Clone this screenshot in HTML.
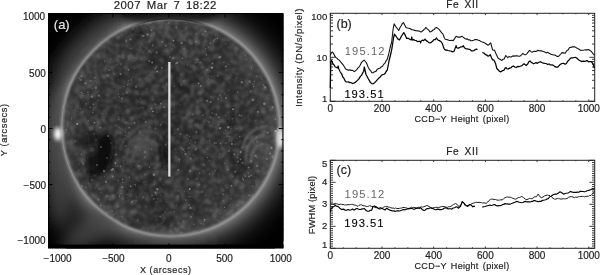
<!DOCTYPE html>
<html><head><meta charset="utf-8"><style>
html,body{margin:0;padding:0;background:#fff;width:600px;height:275px;overflow:hidden}
svg{display:block;filter:grayscale(1)}
text{font-family:"Liberation Sans",sans-serif;fill:#222;stroke:#222;stroke-width:0.18px}
</style></head><body>
<svg width="600" height="275" viewBox="0 0 600 275">
<defs>
<clipPath id="imgclip"><rect x="48" y="13" width="235.5" height="235.4"/></clipPath>
<radialGradient id="corona" gradientUnits="userSpaceOnUse" cx="170.6" cy="127.2" r="160">
<stop offset="0" stop-color="#000"/>
<stop offset="0.682" stop-color="#828282"/>
<stop offset="0.698" stop-color="#6a6a6a"/>
<stop offset="0.723" stop-color="#505050"/>
<stop offset="0.754" stop-color="#363636"/>
<stop offset="0.792" stop-color="#202020"/>
<stop offset="0.835" stop-color="#0f0f0f"/>
<stop offset="0.885" stop-color="#050505"/>
<stop offset="0.94" stop-color="#000"/>
</radialGradient>
<radialGradient id="disk" gradientUnits="userSpaceOnUse" cx="170.6" cy="127.2" r="109.1">
<stop offset="0" stop-color="#2a2a2a"/>
<stop offset="0.78" stop-color="#2f2f2f"/>
<stop offset="0.92" stop-color="#383838"/>
<stop offset="0.97" stop-color="#444"/>
<stop offset="0.99" stop-color="#606060"/>
<stop offset="1" stop-color="#7e7e7e"/>
</radialGradient>
<filter id="tex" x="0" y="0" width="1" height="1">
<feTurbulence type="fractalNoise" baseFrequency="0.2" numOctaves="2" seed="7" result="n"/>
<feColorMatrix in="n" type="matrix" values="0 0 0 0 1  0 0 0 0 1  0 0 0 0 1  2.4 0 0 0 -1.1"/>
<feGaussianBlur stdDeviation="0.9"/>
</filter>
<filter id="big" x="0" y="0" width="1" height="1">
<feTurbulence type="fractalNoise" baseFrequency="0.035" numOctaves="2" seed="21" result="n"/>
<feColorMatrix in="n" type="matrix" values="0 0 0 0 0  0 0 0 0 0  0 0 0 0 0  2.2 0 0 0 -1.0"/>
</filter>
<filter id="spk" x="0" y="0" width="1" height="1">
<feTurbulence type="fractalNoise" baseFrequency="0.3" numOctaves="1" seed="11" result="n"/>
<feColorMatrix in="n" type="matrix" values="0 0 0 0 1  0 0 0 0 1  0 0 0 0 1  7 0 0 0 -4.4"/>
<feGaussianBlur stdDeviation="0.6"/>
</filter>
<filter id="blurB"><feGaussianBlur stdDeviation="0.9"/></filter>
<filter id="blurR"><feGaussianBlur stdDeviation="0.8"/></filter>
<filter id="blurS"><feGaussianBlur stdDeviation="0.55"/></filter>
<filter id="blur6" x="-50%" y="-50%" width="200%" height="200%"><feGaussianBlur stdDeviation="6"/></filter>
<filter id="blur8" x="-50%" y="-50%" width="200%" height="200%"><feGaussianBlur stdDeviation="8"/></filter>
<mask id="outside" maskUnits="userSpaceOnUse" x="0" y="0" width="600" height="275"><rect x="0" y="0" width="600" height="275" fill="#fff"/><circle cx="170.6" cy="127.2" r="109.1" fill="#000"/></mask>
<mask id="outside2" maskUnits="userSpaceOnUse" x="0" y="0" width="600" height="275"><rect x="0" y="0" width="600" height="275" fill="#fff"/><circle cx="170.6" cy="127.2" r="107.6" fill="#000"/></mask>
<filter id="blur3"><feGaussianBlur stdDeviation="3"/></filter>
<filter id="blur4"><feGaussianBlur stdDeviation="3.5"/></filter>
<filter id="blur2"><feGaussianBlur stdDeviation="2"/></filter>
<filter id="blur1"><feGaussianBlur stdDeviation="1"/></filter>
<clipPath id="diskclip"><circle cx="170.6" cy="127.2" r="108.1"/></clipPath>
</defs>
<g clip-path="url(#imgclip)">
<rect x="48" y="13" width="235.5" height="235.4" fill="#000"/>
<circle cx="170.6" cy="127.2" r="160" fill="url(#corona)"/>
<g mask="url(#outside)" filter="url(#blur8)">
<ellipse cx="60" cy="160" rx="16" ry="70" fill="#484848" opacity="0.8"/>
<ellipse cx="100" cy="222" rx="48" ry="15" fill="#4a4a4a" opacity="0.8" transform="rotate(-38 100 222)"/>
<ellipse cx="170" cy="242" rx="45" ry="8" fill="#333" opacity="0.5"/>
<ellipse cx="86" cy="48" rx="42" ry="13" fill="#383838" opacity="0.55" transform="rotate(-45 86 48)"/>
</g>
<circle cx="170.6" cy="127.2" r="109.1" fill="url(#disk)"/>
<g clip-path="url(#diskclip)">
<rect x="55" y="14" width="230" height="230" filter="url(#tex)" opacity="0.22"/>
<rect x="55" y="14" width="230" height="230" filter="url(#big)" opacity="0.3"/>
<g filter="url(#blurB)">
<circle cx="162.7" cy="100.1" r="1.2" fill="rgb(85,85,85)" opacity="0.25"/>
<circle cx="162.8" cy="149.6" r="1.5" fill="rgb(124,124,124)" opacity="0.36"/>
<circle cx="219.4" cy="56.5" r="2.5" fill="rgb(112,112,112)" opacity="0.20"/>
<circle cx="114.5" cy="43.9" r="1.8" fill="rgb(122,122,122)" opacity="0.17"/>
<circle cx="210.9" cy="189.2" r="2.4" fill="rgb(103,103,103)" opacity="0.21"/>
<circle cx="111.6" cy="189.9" r="2.4" fill="rgb(102,102,102)" opacity="0.42"/>
<circle cx="148.5" cy="93.3" r="1.1" fill="rgb(85,85,85)" opacity="0.41"/>
<circle cx="75.3" cy="101.3" r="1.8" fill="rgb(86,86,86)" opacity="0.22"/>
<circle cx="221.2" cy="202.3" r="2.5" fill="rgb(85,85,85)" opacity="0.19"/>
<circle cx="187.4" cy="211.8" r="1.3" fill="rgb(85,85,85)" opacity="0.42"/>
<circle cx="170.8" cy="142.8" r="1.9" fill="rgb(97,97,97)" opacity="0.28"/>
<circle cx="148.8" cy="156.9" r="1.1" fill="rgb(122,122,122)" opacity="0.19"/>
<circle cx="264.7" cy="174.2" r="1.1" fill="rgb(102,102,102)" opacity="0.32"/>
<circle cx="193.4" cy="52.2" r="1.4" fill="rgb(121,121,121)" opacity="0.45"/>
<circle cx="89.6" cy="171.2" r="2.5" fill="rgb(100,100,100)" opacity="0.20"/>
<circle cx="171.7" cy="177.7" r="2.4" fill="rgb(118,118,118)" opacity="0.33"/>
<circle cx="229.4" cy="38.8" r="1.6" fill="rgb(122,122,122)" opacity="0.26"/>
<circle cx="108.5" cy="62.7" r="2.5" fill="rgb(86,86,86)" opacity="0.26"/>
<circle cx="87.5" cy="67.6" r="1.4" fill="rgb(90,90,90)" opacity="0.24"/>
<circle cx="124.6" cy="130.9" r="1.1" fill="rgb(109,109,109)" opacity="0.38"/>
<circle cx="236.4" cy="126.6" r="2.1" fill="rgb(100,100,100)" opacity="0.32"/>
<circle cx="77.8" cy="158.8" r="1.2" fill="rgb(110,110,110)" opacity="0.30"/>
<circle cx="268.2" cy="140.1" r="1.2" fill="rgb(103,103,103)" opacity="0.20"/>
<circle cx="244.1" cy="75.6" r="1.1" fill="rgb(96,96,96)" opacity="0.23"/>
<circle cx="160.0" cy="188.5" r="1.5" fill="rgb(85,85,85)" opacity="0.44"/>
<circle cx="139.5" cy="50.3" r="1.9" fill="rgb(93,93,93)" opacity="0.44"/>
<circle cx="223.6" cy="83.5" r="1.2" fill="rgb(111,111,111)" opacity="0.29"/>
<circle cx="214.2" cy="183.7" r="1.6" fill="rgb(95,95,95)" opacity="0.35"/>
<circle cx="122.3" cy="148.0" r="2.0" fill="rgb(107,107,107)" opacity="0.18"/>
<circle cx="74.0" cy="133.4" r="1.3" fill="rgb(125,125,125)" opacity="0.40"/>
<circle cx="98.3" cy="189.2" r="2.4" fill="rgb(97,97,97)" opacity="0.20"/>
<circle cx="161.3" cy="139.9" r="1.6" fill="rgb(96,96,96)" opacity="0.31"/>
<circle cx="190.5" cy="76.4" r="1.1" fill="rgb(86,86,86)" opacity="0.32"/>
<circle cx="188.8" cy="113.5" r="1.5" fill="rgb(118,118,118)" opacity="0.31"/>
<circle cx="201.2" cy="136.2" r="1.5" fill="rgb(99,99,99)" opacity="0.37"/>
<circle cx="85.7" cy="169.9" r="1.7" fill="rgb(116,116,116)" opacity="0.42"/>
<circle cx="219.3" cy="165.5" r="1.0" fill="rgb(100,100,100)" opacity="0.41"/>
<circle cx="113.1" cy="196.3" r="2.2" fill="rgb(124,124,124)" opacity="0.30"/>
<circle cx="115.6" cy="153.4" r="1.1" fill="rgb(88,88,88)" opacity="0.35"/>
<circle cx="150.6" cy="35.0" r="1.3" fill="rgb(123,123,123)" opacity="0.38"/>
<circle cx="197.3" cy="137.3" r="1.8" fill="rgb(89,89,89)" opacity="0.25"/>
<circle cx="267.8" cy="146.5" r="2.6" fill="rgb(115,115,115)" opacity="0.40"/>
<circle cx="86.3" cy="94.8" r="1.4" fill="rgb(93,93,93)" opacity="0.21"/>
<circle cx="110.9" cy="43.9" r="1.2" fill="rgb(90,90,90)" opacity="0.26"/>
<circle cx="222.2" cy="120.2" r="1.8" fill="rgb(108,108,108)" opacity="0.41"/>
<circle cx="227.0" cy="166.3" r="1.0" fill="rgb(101,101,101)" opacity="0.43"/>
<circle cx="117.4" cy="202.5" r="2.0" fill="rgb(99,99,99)" opacity="0.34"/>
<circle cx="209.4" cy="48.5" r="1.1" fill="rgb(96,96,96)" opacity="0.44"/>
<circle cx="231.9" cy="213.2" r="2.5" fill="rgb(104,104,104)" opacity="0.44"/>
<circle cx="83.8" cy="88.2" r="1.4" fill="rgb(123,123,123)" opacity="0.25"/>
<circle cx="184.2" cy="208.7" r="2.4" fill="rgb(112,112,112)" opacity="0.21"/>
<circle cx="122.7" cy="119.0" r="2.0" fill="rgb(121,121,121)" opacity="0.29"/>
<circle cx="146.0" cy="90.7" r="1.1" fill="rgb(90,90,90)" opacity="0.20"/>
<circle cx="180.0" cy="60.6" r="2.1" fill="rgb(93,93,93)" opacity="0.43"/>
<circle cx="269.5" cy="148.5" r="2.5" fill="rgb(109,109,109)" opacity="0.21"/>
<circle cx="179.6" cy="92.0" r="1.0" fill="rgb(120,120,120)" opacity="0.28"/>
<circle cx="112.3" cy="175.8" r="2.2" fill="rgb(117,117,117)" opacity="0.30"/>
<circle cx="162.7" cy="20.9" r="2.5" fill="rgb(98,98,98)" opacity="0.17"/>
<circle cx="202.5" cy="104.8" r="2.4" fill="rgb(117,117,117)" opacity="0.41"/>
<circle cx="172.5" cy="96.7" r="2.5" fill="rgb(97,97,97)" opacity="0.25"/>
<circle cx="146.0" cy="59.2" r="2.0" fill="rgb(96,96,96)" opacity="0.32"/>
<circle cx="67.9" cy="122.7" r="2.4" fill="rgb(112,112,112)" opacity="0.42"/>
<circle cx="225.1" cy="78.6" r="1.2" fill="rgb(113,113,113)" opacity="0.29"/>
<circle cx="95.0" cy="165.4" r="2.2" fill="rgb(88,88,88)" opacity="0.31"/>
<circle cx="103.5" cy="186.8" r="2.1" fill="rgb(91,91,91)" opacity="0.29"/>
<circle cx="136.5" cy="180.2" r="1.2" fill="rgb(112,112,112)" opacity="0.21"/>
<circle cx="107.0" cy="167.0" r="1.7" fill="rgb(120,120,120)" opacity="0.45"/>
<circle cx="263.9" cy="173.4" r="1.8" fill="rgb(88,88,88)" opacity="0.26"/>
<circle cx="234.5" cy="209.9" r="1.7" fill="rgb(97,97,97)" opacity="0.32"/>
<circle cx="81.8" cy="96.1" r="2.4" fill="rgb(115,115,115)" opacity="0.44"/>
<circle cx="103.5" cy="133.9" r="2.5" fill="rgb(119,119,119)" opacity="0.25"/>
<circle cx="189.1" cy="227.9" r="2.1" fill="rgb(106,106,106)" opacity="0.24"/>
<circle cx="91.4" cy="83.9" r="1.1" fill="rgb(110,110,110)" opacity="0.40"/>
<circle cx="116.1" cy="119.6" r="2.1" fill="rgb(105,105,105)" opacity="0.20"/>
<circle cx="94.4" cy="143.1" r="1.3" fill="rgb(118,118,118)" opacity="0.43"/>
<circle cx="145.2" cy="182.2" r="2.4" fill="rgb(117,117,117)" opacity="0.20"/>
<circle cx="144.8" cy="225.7" r="1.6" fill="rgb(103,103,103)" opacity="0.27"/>
<circle cx="223.7" cy="199.1" r="2.1" fill="rgb(124,124,124)" opacity="0.18"/>
<circle cx="270.0" cy="131.6" r="1.4" fill="rgb(124,124,124)" opacity="0.38"/>
<circle cx="245.4" cy="135.1" r="2.6" fill="rgb(88,88,88)" opacity="0.34"/>
<circle cx="162.8" cy="219.6" r="1.2" fill="rgb(85,85,85)" opacity="0.21"/>
<circle cx="217.8" cy="74.7" r="1.5" fill="rgb(85,85,85)" opacity="0.20"/>
<circle cx="199.7" cy="220.5" r="1.6" fill="rgb(125,125,125)" opacity="0.25"/>
<circle cx="183.3" cy="54.5" r="2.1" fill="rgb(93,93,93)" opacity="0.37"/>
<circle cx="215.5" cy="96.8" r="1.9" fill="rgb(89,89,89)" opacity="0.18"/>
<circle cx="151.0" cy="111.4" r="1.3" fill="rgb(100,100,100)" opacity="0.32"/>
<circle cx="172.4" cy="201.3" r="1.6" fill="rgb(97,97,97)" opacity="0.42"/>
<circle cx="138.2" cy="130.5" r="2.4" fill="rgb(87,87,87)" opacity="0.20"/>
<circle cx="180.4" cy="79.4" r="1.5" fill="rgb(112,112,112)" opacity="0.39"/>
<circle cx="177.6" cy="180.2" r="1.2" fill="rgb(107,107,107)" opacity="0.40"/>
<circle cx="209.2" cy="67.9" r="1.4" fill="rgb(113,113,113)" opacity="0.26"/>
<circle cx="172.4" cy="176.4" r="1.1" fill="rgb(92,92,92)" opacity="0.39"/>
<circle cx="201.5" cy="110.7" r="1.0" fill="rgb(112,112,112)" opacity="0.17"/>
<circle cx="119.0" cy="62.0" r="1.9" fill="rgb(115,115,115)" opacity="0.20"/>
<circle cx="187.1" cy="63.2" r="2.0" fill="rgb(109,109,109)" opacity="0.30"/>
<circle cx="211.4" cy="210.1" r="2.6" fill="rgb(89,89,89)" opacity="0.31"/>
<circle cx="205.5" cy="51.0" r="2.2" fill="rgb(96,96,96)" opacity="0.21"/>
<circle cx="164.8" cy="160.0" r="1.8" fill="rgb(117,117,117)" opacity="0.34"/>
<circle cx="130.8" cy="165.9" r="2.2" fill="rgb(114,114,114)" opacity="0.17"/>
<circle cx="177.4" cy="172.0" r="2.3" fill="rgb(90,90,90)" opacity="0.27"/>
<circle cx="230.1" cy="175.1" r="1.1" fill="rgb(115,115,115)" opacity="0.20"/>
<circle cx="267.4" cy="150.7" r="2.6" fill="rgb(116,116,116)" opacity="0.36"/>
<circle cx="178.2" cy="221.3" r="1.9" fill="rgb(85,85,85)" opacity="0.36"/>
<circle cx="157.3" cy="145.1" r="2.4" fill="rgb(121,121,121)" opacity="0.36"/>
<circle cx="227.3" cy="56.6" r="1.0" fill="rgb(106,106,106)" opacity="0.30"/>
<circle cx="158.2" cy="131.1" r="2.2" fill="rgb(108,108,108)" opacity="0.25"/>
<circle cx="101.2" cy="169.1" r="1.5" fill="rgb(105,105,105)" opacity="0.25"/>
<circle cx="262.7" cy="80.9" r="1.2" fill="rgb(121,121,121)" opacity="0.23"/>
<circle cx="233.7" cy="150.5" r="2.3" fill="rgb(89,89,89)" opacity="0.24"/>
<circle cx="113.4" cy="83.2" r="1.6" fill="rgb(117,117,117)" opacity="0.16"/>
<circle cx="108.4" cy="198.2" r="2.4" fill="rgb(121,121,121)" opacity="0.17"/>
<circle cx="83.6" cy="162.2" r="2.5" fill="rgb(85,85,85)" opacity="0.29"/>
<circle cx="125.8" cy="31.6" r="2.2" fill="rgb(95,95,95)" opacity="0.40"/>
<circle cx="97.6" cy="154.9" r="1.4" fill="rgb(97,97,97)" opacity="0.36"/>
<circle cx="169.1" cy="135.2" r="1.7" fill="rgb(102,102,102)" opacity="0.29"/>
<circle cx="149.9" cy="39.1" r="1.4" fill="rgb(94,94,94)" opacity="0.37"/>
<circle cx="191.6" cy="48.9" r="1.8" fill="rgb(123,123,123)" opacity="0.18"/>
<circle cx="195.4" cy="104.6" r="2.4" fill="rgb(106,106,106)" opacity="0.19"/>
<circle cx="135.5" cy="193.3" r="1.6" fill="rgb(125,125,125)" opacity="0.18"/>
<circle cx="81.8" cy="97.9" r="1.7" fill="rgb(108,108,108)" opacity="0.34"/>
<circle cx="208.7" cy="136.6" r="2.0" fill="rgb(85,85,85)" opacity="0.34"/>
<circle cx="118.5" cy="144.8" r="1.3" fill="rgb(89,89,89)" opacity="0.24"/>
<circle cx="107.8" cy="151.1" r="1.6" fill="rgb(92,92,92)" opacity="0.16"/>
<circle cx="184.7" cy="192.5" r="1.0" fill="rgb(96,96,96)" opacity="0.33"/>
<circle cx="197.7" cy="106.3" r="1.7" fill="rgb(102,102,102)" opacity="0.33"/>
<circle cx="166.1" cy="109.2" r="1.4" fill="rgb(117,117,117)" opacity="0.20"/>
<circle cx="165.7" cy="75.9" r="1.6" fill="rgb(91,91,91)" opacity="0.32"/>
<circle cx="201.7" cy="158.7" r="1.0" fill="rgb(115,115,115)" opacity="0.41"/>
<circle cx="223.3" cy="132.0" r="2.4" fill="rgb(102,102,102)" opacity="0.21"/>
<circle cx="208.3" cy="162.6" r="2.2" fill="rgb(90,90,90)" opacity="0.21"/>
<circle cx="226.5" cy="171.9" r="2.2" fill="rgb(86,86,86)" opacity="0.41"/>
<circle cx="216.2" cy="31.4" r="2.2" fill="rgb(97,97,97)" opacity="0.24"/>
<circle cx="247.1" cy="85.2" r="1.1" fill="rgb(120,120,120)" opacity="0.44"/>
<circle cx="108.5" cy="212.5" r="1.3" fill="rgb(91,91,91)" opacity="0.17"/>
<circle cx="131.9" cy="118.5" r="2.1" fill="rgb(121,121,121)" opacity="0.35"/>
<circle cx="190.3" cy="41.3" r="2.4" fill="rgb(102,102,102)" opacity="0.38"/>
<circle cx="141.6" cy="37.0" r="1.2" fill="rgb(106,106,106)" opacity="0.36"/>
<circle cx="185.0" cy="58.1" r="1.9" fill="rgb(112,112,112)" opacity="0.15"/>
<circle cx="201.7" cy="170.1" r="1.2" fill="rgb(94,94,94)" opacity="0.35"/>
<circle cx="184.4" cy="118.4" r="1.7" fill="rgb(123,123,123)" opacity="0.28"/>
<circle cx="169.4" cy="62.3" r="2.6" fill="rgb(113,113,113)" opacity="0.17"/>
<circle cx="186.5" cy="50.5" r="1.3" fill="rgb(92,92,92)" opacity="0.28"/>
<circle cx="222.8" cy="91.9" r="2.0" fill="rgb(87,87,87)" opacity="0.19"/>
<circle cx="118.7" cy="198.1" r="1.2" fill="rgb(102,102,102)" opacity="0.28"/>
<circle cx="109.2" cy="188.3" r="1.6" fill="rgb(103,103,103)" opacity="0.34"/>
<circle cx="241.1" cy="130.2" r="1.5" fill="rgb(94,94,94)" opacity="0.21"/>
<circle cx="134.7" cy="211.2" r="2.5" fill="rgb(114,114,114)" opacity="0.45"/>
<circle cx="152.3" cy="97.7" r="2.4" fill="rgb(86,86,86)" opacity="0.37"/>
<circle cx="102.6" cy="176.1" r="1.7" fill="rgb(88,88,88)" opacity="0.44"/>
<circle cx="229.7" cy="118.0" r="1.0" fill="rgb(110,110,110)" opacity="0.17"/>
<circle cx="155.4" cy="89.6" r="2.0" fill="rgb(92,92,92)" opacity="0.28"/>
<circle cx="80.6" cy="130.7" r="1.6" fill="rgb(86,86,86)" opacity="0.36"/>
<circle cx="249.1" cy="108.5" r="1.1" fill="rgb(108,108,108)" opacity="0.28"/>
<circle cx="140.0" cy="138.9" r="2.2" fill="rgb(125,125,125)" opacity="0.36"/>
<circle cx="264.9" cy="109.2" r="2.0" fill="rgb(115,115,115)" opacity="0.15"/>
<circle cx="103.8" cy="46.2" r="1.6" fill="rgb(107,107,107)" opacity="0.37"/>
<circle cx="191.0" cy="33.7" r="1.7" fill="rgb(97,97,97)" opacity="0.44"/>
<circle cx="142.5" cy="102.6" r="2.6" fill="rgb(108,108,108)" opacity="0.41"/>
<circle cx="88.1" cy="82.2" r="1.7" fill="rgb(104,104,104)" opacity="0.24"/>
<circle cx="185.4" cy="60.4" r="1.3" fill="rgb(105,105,105)" opacity="0.28"/>
<circle cx="142.8" cy="93.3" r="2.2" fill="rgb(89,89,89)" opacity="0.38"/>
<circle cx="241.4" cy="92.6" r="1.3" fill="rgb(91,91,91)" opacity="0.39"/>
<circle cx="110.9" cy="49.7" r="1.6" fill="rgb(100,100,100)" opacity="0.32"/>
<circle cx="190.8" cy="214.8" r="2.5" fill="rgb(95,95,95)" opacity="0.24"/>
<circle cx="170.6" cy="211.7" r="1.0" fill="rgb(98,98,98)" opacity="0.30"/>
<circle cx="226.3" cy="161.9" r="2.0" fill="rgb(110,110,110)" opacity="0.22"/>
<circle cx="145.8" cy="175.1" r="1.4" fill="rgb(100,100,100)" opacity="0.41"/>
<circle cx="234.7" cy="68.6" r="1.6" fill="rgb(102,102,102)" opacity="0.38"/>
<circle cx="73.7" cy="89.2" r="1.1" fill="rgb(125,125,125)" opacity="0.33"/>
<circle cx="130.2" cy="161.3" r="2.2" fill="rgb(114,114,114)" opacity="0.37"/>
<circle cx="200.9" cy="117.9" r="2.6" fill="rgb(109,109,109)" opacity="0.22"/>
<circle cx="173.6" cy="140.6" r="2.1" fill="rgb(119,119,119)" opacity="0.17"/>
<circle cx="188.1" cy="154.4" r="2.3" fill="rgb(85,85,85)" opacity="0.34"/>
<circle cx="86.5" cy="171.6" r="1.1" fill="rgb(87,87,87)" opacity="0.19"/>
<circle cx="263.9" cy="158.5" r="2.5" fill="rgb(120,120,120)" opacity="0.17"/>
<circle cx="193.2" cy="66.8" r="2.0" fill="rgb(119,119,119)" opacity="0.45"/>
<circle cx="217.8" cy="71.4" r="1.3" fill="rgb(97,97,97)" opacity="0.29"/>
<circle cx="107.6" cy="132.5" r="1.5" fill="rgb(90,90,90)" opacity="0.16"/>
<circle cx="82.8" cy="74.0" r="1.9" fill="rgb(109,109,109)" opacity="0.22"/>
<circle cx="221.9" cy="209.2" r="1.0" fill="rgb(123,123,123)" opacity="0.19"/>
<circle cx="144.2" cy="54.3" r="1.2" fill="rgb(122,122,122)" opacity="0.20"/>
<circle cx="204.4" cy="153.6" r="1.3" fill="rgb(88,88,88)" opacity="0.41"/>
<circle cx="79.6" cy="121.1" r="1.9" fill="rgb(85,85,85)" opacity="0.21"/>
<circle cx="138.4" cy="85.0" r="2.1" fill="rgb(111,111,111)" opacity="0.43"/>
<circle cx="134.5" cy="97.2" r="1.3" fill="rgb(122,122,122)" opacity="0.19"/>
<circle cx="96.7" cy="117.5" r="1.6" fill="rgb(98,98,98)" opacity="0.20"/>
<circle cx="217.5" cy="76.3" r="1.0" fill="rgb(119,119,119)" opacity="0.18"/>
<circle cx="235.2" cy="184.4" r="1.7" fill="rgb(123,123,123)" opacity="0.38"/>
<circle cx="238.8" cy="130.4" r="1.2" fill="rgb(90,90,90)" opacity="0.38"/>
<circle cx="161.6" cy="27.7" r="2.2" fill="rgb(103,103,103)" opacity="0.25"/>
<circle cx="197.5" cy="51.8" r="2.5" fill="rgb(87,87,87)" opacity="0.17"/>
<circle cx="213.5" cy="164.9" r="1.7" fill="rgb(122,122,122)" opacity="0.26"/>
<circle cx="257.9" cy="172.0" r="1.9" fill="rgb(107,107,107)" opacity="0.34"/>
<circle cx="229.7" cy="139.1" r="2.2" fill="rgb(118,118,118)" opacity="0.30"/>
<circle cx="163.1" cy="62.6" r="2.0" fill="rgb(111,111,111)" opacity="0.16"/>
<circle cx="97.3" cy="185.0" r="1.0" fill="rgb(114,114,114)" opacity="0.39"/>
<circle cx="95.2" cy="78.3" r="1.9" fill="rgb(85,85,85)" opacity="0.30"/>
<circle cx="154.9" cy="173.9" r="2.3" fill="rgb(112,112,112)" opacity="0.22"/>
<circle cx="186.6" cy="159.6" r="1.3" fill="rgb(88,88,88)" opacity="0.15"/>
<circle cx="170.8" cy="203.4" r="2.1" fill="rgb(97,97,97)" opacity="0.25"/>
<circle cx="160.5" cy="27.2" r="2.4" fill="rgb(100,100,100)" opacity="0.44"/>
<circle cx="127.3" cy="159.8" r="2.4" fill="rgb(85,85,85)" opacity="0.35"/>
<circle cx="140.7" cy="186.9" r="2.1" fill="rgb(109,109,109)" opacity="0.21"/>
<circle cx="132.6" cy="190.2" r="1.8" fill="rgb(113,113,113)" opacity="0.25"/>
<circle cx="240.2" cy="127.6" r="2.4" fill="rgb(120,120,120)" opacity="0.44"/>
<circle cx="217.9" cy="107.0" r="2.2" fill="rgb(118,118,118)" opacity="0.22"/>
<circle cx="270.5" cy="90.7" r="1.2" fill="rgb(111,111,111)" opacity="0.41"/>
<circle cx="231.6" cy="180.4" r="1.3" fill="rgb(114,114,114)" opacity="0.23"/>
<circle cx="71.0" cy="144.4" r="1.9" fill="rgb(106,106,106)" opacity="0.41"/>
<circle cx="67.1" cy="142.7" r="1.2" fill="rgb(118,118,118)" opacity="0.15"/>
<circle cx="229.1" cy="118.1" r="2.6" fill="rgb(93,93,93)" opacity="0.36"/>
<circle cx="188.5" cy="116.9" r="2.6" fill="rgb(99,99,99)" opacity="0.17"/>
<circle cx="246.4" cy="147.6" r="2.4" fill="rgb(110,110,110)" opacity="0.41"/>
<circle cx="170.5" cy="105.9" r="1.8" fill="rgb(110,110,110)" opacity="0.27"/>
<circle cx="207.7" cy="221.3" r="1.1" fill="rgb(103,103,103)" opacity="0.36"/>
<circle cx="157.8" cy="28.4" r="1.8" fill="rgb(95,95,95)" opacity="0.41"/>
<circle cx="157.1" cy="164.5" r="2.1" fill="rgb(125,125,125)" opacity="0.31"/>
<circle cx="252.5" cy="98.0" r="2.5" fill="rgb(97,97,97)" opacity="0.19"/>
<circle cx="193.2" cy="85.3" r="2.0" fill="rgb(106,106,106)" opacity="0.42"/>
<circle cx="206.4" cy="202.3" r="1.2" fill="rgb(119,119,119)" opacity="0.40"/>
<circle cx="149.0" cy="112.5" r="1.9" fill="rgb(98,98,98)" opacity="0.25"/>
<circle cx="177.9" cy="33.6" r="1.4" fill="rgb(114,114,114)" opacity="0.20"/>
<circle cx="118.4" cy="67.5" r="1.2" fill="rgb(120,120,120)" opacity="0.31"/>
<circle cx="173.4" cy="62.1" r="1.4" fill="rgb(112,112,112)" opacity="0.36"/>
<circle cx="236.7" cy="150.3" r="2.6" fill="rgb(120,120,120)" opacity="0.36"/>
<circle cx="134.6" cy="33.9" r="2.5" fill="rgb(94,94,94)" opacity="0.16"/>
<circle cx="247.6" cy="151.0" r="2.2" fill="rgb(92,92,92)" opacity="0.25"/>
<circle cx="185.3" cy="26.8" r="1.4" fill="rgb(111,111,111)" opacity="0.35"/>
<circle cx="77.5" cy="105.6" r="2.2" fill="rgb(109,109,109)" opacity="0.23"/>
<circle cx="239.6" cy="201.3" r="2.3" fill="rgb(125,125,125)" opacity="0.36"/>
<circle cx="204.8" cy="71.7" r="2.2" fill="rgb(117,117,117)" opacity="0.41"/>
<circle cx="128.4" cy="177.6" r="1.2" fill="rgb(90,90,90)" opacity="0.35"/>
<circle cx="171.3" cy="104.4" r="1.9" fill="rgb(95,95,95)" opacity="0.41"/>
<circle cx="115.0" cy="84.7" r="1.7" fill="rgb(113,113,113)" opacity="0.29"/>
<circle cx="188.9" cy="218.7" r="2.0" fill="rgb(109,109,109)" opacity="0.20"/>
<circle cx="123.9" cy="129.8" r="2.2" fill="rgb(87,87,87)" opacity="0.28"/>
<circle cx="261.4" cy="121.4" r="2.0" fill="rgb(92,92,92)" opacity="0.39"/>
<circle cx="184.9" cy="48.0" r="1.9" fill="rgb(85,85,85)" opacity="0.34"/>
<circle cx="273.7" cy="100.6" r="1.7" fill="rgb(124,124,124)" opacity="0.39"/>
<circle cx="103.3" cy="104.7" r="2.2" fill="rgb(88,88,88)" opacity="0.24"/>
<circle cx="182.8" cy="179.0" r="1.5" fill="rgb(88,88,88)" opacity="0.33"/>
<circle cx="123.5" cy="218.3" r="2.5" fill="rgb(92,92,92)" opacity="0.45"/>
<circle cx="198.4" cy="125.9" r="2.2" fill="rgb(117,117,117)" opacity="0.27"/>
<circle cx="166.6" cy="210.7" r="2.3" fill="rgb(97,97,97)" opacity="0.18"/>
<circle cx="205.8" cy="41.5" r="1.2" fill="rgb(111,111,111)" opacity="0.40"/>
<circle cx="177.7" cy="185.3" r="2.1" fill="rgb(96,96,96)" opacity="0.32"/>
<circle cx="158.6" cy="73.5" r="1.2" fill="rgb(88,88,88)" opacity="0.32"/>
<circle cx="192.5" cy="91.6" r="2.4" fill="rgb(113,113,113)" opacity="0.44"/>
<circle cx="230.7" cy="137.9" r="1.8" fill="rgb(96,96,96)" opacity="0.44"/>
<circle cx="149.8" cy="79.3" r="2.2" fill="rgb(96,96,96)" opacity="0.44"/>
<circle cx="241.1" cy="121.2" r="2.1" fill="rgb(98,98,98)" opacity="0.18"/>
<circle cx="143.6" cy="158.1" r="2.2" fill="rgb(108,108,108)" opacity="0.32"/>
<circle cx="213.0" cy="198.5" r="1.3" fill="rgb(94,94,94)" opacity="0.29"/>
<circle cx="227.3" cy="198.1" r="2.4" fill="rgb(89,89,89)" opacity="0.38"/>
<circle cx="164.2" cy="115.5" r="1.6" fill="rgb(99,99,99)" opacity="0.38"/>
<circle cx="211.5" cy="32.7" r="2.2" fill="rgb(112,112,112)" opacity="0.38"/>
<circle cx="141.0" cy="165.0" r="1.0" fill="rgb(114,114,114)" opacity="0.37"/>
<circle cx="100.0" cy="151.6" r="1.4" fill="rgb(85,85,85)" opacity="0.19"/>
<circle cx="227.6" cy="39.2" r="2.0" fill="rgb(97,97,97)" opacity="0.25"/>
<circle cx="231.5" cy="130.1" r="1.9" fill="rgb(100,100,100)" opacity="0.19"/>
<circle cx="144.3" cy="187.7" r="1.1" fill="rgb(105,105,105)" opacity="0.20"/>
<circle cx="149.6" cy="135.4" r="1.8" fill="rgb(99,99,99)" opacity="0.22"/>
<circle cx="121.5" cy="186.5" r="2.3" fill="rgb(105,105,105)" opacity="0.32"/>
<circle cx="123.5" cy="182.4" r="1.5" fill="rgb(123,123,123)" opacity="0.32"/>
<circle cx="180.0" cy="187.3" r="2.1" fill="rgb(125,125,125)" opacity="0.27"/>
<circle cx="95.9" cy="194.6" r="1.6" fill="rgb(124,124,124)" opacity="0.31"/>
<circle cx="230.8" cy="55.1" r="2.4" fill="rgb(94,94,94)" opacity="0.41"/>
<circle cx="120.6" cy="197.4" r="1.8" fill="rgb(122,122,122)" opacity="0.24"/>
<circle cx="136.6" cy="222.2" r="1.9" fill="rgb(89,89,89)" opacity="0.34"/>
<circle cx="109.1" cy="42.0" r="1.4" fill="rgb(110,110,110)" opacity="0.26"/>
<circle cx="174.7" cy="98.0" r="1.6" fill="rgb(92,92,92)" opacity="0.18"/>
<circle cx="192.2" cy="87.4" r="2.2" fill="rgb(107,107,107)" opacity="0.41"/>
<circle cx="143.4" cy="69.5" r="1.1" fill="rgb(116,116,116)" opacity="0.18"/>
<circle cx="217.7" cy="209.9" r="1.0" fill="rgb(125,125,125)" opacity="0.43"/>
<circle cx="218.9" cy="121.9" r="2.2" fill="rgb(122,122,122)" opacity="0.26"/>
<circle cx="214.3" cy="179.4" r="1.9" fill="rgb(112,112,112)" opacity="0.36"/>
<circle cx="109.6" cy="91.2" r="2.5" fill="rgb(85,85,85)" opacity="0.40"/>
<circle cx="177.5" cy="142.2" r="1.6" fill="rgb(105,105,105)" opacity="0.39"/>
<circle cx="77.8" cy="107.0" r="1.8" fill="rgb(106,106,106)" opacity="0.15"/>
<circle cx="236.0" cy="121.4" r="1.8" fill="rgb(87,87,87)" opacity="0.31"/>
<circle cx="256.0" cy="189.9" r="1.1" fill="rgb(95,95,95)" opacity="0.24"/>
<circle cx="178.8" cy="129.1" r="2.0" fill="rgb(89,89,89)" opacity="0.21"/>
<circle cx="203.3" cy="138.3" r="2.3" fill="rgb(117,117,117)" opacity="0.24"/>
<circle cx="183.3" cy="224.7" r="1.7" fill="rgb(97,97,97)" opacity="0.29"/>
<circle cx="263.2" cy="167.9" r="1.3" fill="rgb(100,100,100)" opacity="0.22"/>
<circle cx="171.9" cy="225.2" r="2.1" fill="rgb(97,97,97)" opacity="0.44"/>
<circle cx="97.5" cy="143.0" r="1.6" fill="rgb(106,106,106)" opacity="0.19"/>
<circle cx="113.1" cy="178.0" r="1.0" fill="rgb(91,91,91)" opacity="0.35"/>
<circle cx="220.0" cy="74.1" r="1.2" fill="rgb(91,91,91)" opacity="0.17"/>
<circle cx="67.1" cy="132.6" r="1.7" fill="rgb(101,101,101)" opacity="0.19"/>
<circle cx="106.8" cy="144.7" r="1.9" fill="rgb(113,113,113)" opacity="0.25"/>
<circle cx="123.6" cy="98.5" r="1.4" fill="rgb(118,118,118)" opacity="0.27"/>
<circle cx="146.1" cy="92.5" r="2.1" fill="rgb(108,108,108)" opacity="0.21"/>
<circle cx="168.4" cy="82.7" r="1.5" fill="rgb(98,98,98)" opacity="0.40"/>
<circle cx="239.0" cy="209.2" r="2.4" fill="rgb(99,99,99)" opacity="0.37"/>
<circle cx="184.6" cy="221.5" r="1.7" fill="rgb(104,104,104)" opacity="0.28"/>
<circle cx="223.4" cy="200.8" r="2.4" fill="rgb(117,117,117)" opacity="0.22"/>
<circle cx="100.6" cy="142.4" r="2.6" fill="rgb(104,104,104)" opacity="0.33"/>
<circle cx="166.6" cy="154.7" r="1.0" fill="rgb(114,114,114)" opacity="0.17"/>
<circle cx="157.8" cy="157.5" r="2.4" fill="rgb(114,114,114)" opacity="0.39"/>
<circle cx="192.7" cy="119.9" r="1.3" fill="rgb(118,118,118)" opacity="0.30"/>
<circle cx="153.1" cy="78.1" r="1.1" fill="rgb(105,105,105)" opacity="0.40"/>
<circle cx="214.6" cy="166.3" r="2.5" fill="rgb(110,110,110)" opacity="0.29"/>
<circle cx="166.4" cy="145.8" r="2.2" fill="rgb(85,85,85)" opacity="0.19"/>
<circle cx="215.4" cy="55.5" r="2.3" fill="rgb(111,111,111)" opacity="0.29"/>
<circle cx="195.4" cy="51.5" r="1.9" fill="rgb(93,93,93)" opacity="0.21"/>
<circle cx="191.8" cy="182.9" r="1.8" fill="rgb(103,103,103)" opacity="0.33"/>
<circle cx="168.2" cy="215.5" r="2.4" fill="rgb(118,118,118)" opacity="0.20"/>
<circle cx="215.5" cy="181.2" r="1.2" fill="rgb(95,95,95)" opacity="0.33"/>
<circle cx="160.1" cy="210.0" r="1.5" fill="rgb(115,115,115)" opacity="0.16"/>
<circle cx="139.0" cy="160.7" r="2.5" fill="rgb(106,106,106)" opacity="0.19"/>
<circle cx="128.2" cy="216.6" r="1.4" fill="rgb(89,89,89)" opacity="0.33"/>
<circle cx="147.1" cy="48.5" r="1.8" fill="rgb(99,99,99)" opacity="0.16"/>
<circle cx="143.5" cy="83.5" r="2.3" fill="rgb(105,105,105)" opacity="0.18"/>
<circle cx="82.9" cy="110.2" r="1.6" fill="rgb(103,103,103)" opacity="0.43"/>
<circle cx="162.9" cy="172.4" r="2.6" fill="rgb(99,99,99)" opacity="0.40"/>
<circle cx="131.7" cy="134.2" r="1.2" fill="rgb(94,94,94)" opacity="0.36"/>
<circle cx="190.9" cy="126.9" r="1.7" fill="rgb(116,116,116)" opacity="0.44"/>
<circle cx="137.2" cy="164.8" r="1.3" fill="rgb(105,105,105)" opacity="0.26"/>
<circle cx="257.6" cy="143.9" r="2.1" fill="rgb(117,117,117)" opacity="0.30"/>
<circle cx="221.8" cy="206.6" r="2.2" fill="rgb(85,85,85)" opacity="0.28"/>
<circle cx="217.5" cy="210.5" r="2.2" fill="rgb(125,125,125)" opacity="0.37"/>
<circle cx="71.3" cy="161.3" r="1.1" fill="rgb(95,95,95)" opacity="0.34"/>
<circle cx="79.3" cy="87.4" r="1.9" fill="rgb(118,118,118)" opacity="0.16"/>
<circle cx="152.5" cy="123.7" r="1.0" fill="rgb(118,118,118)" opacity="0.36"/>
<circle cx="101.7" cy="129.3" r="2.1" fill="rgb(106,106,106)" opacity="0.34"/>
<circle cx="231.0" cy="165.9" r="1.6" fill="rgb(125,125,125)" opacity="0.23"/>
<circle cx="196.7" cy="125.0" r="2.3" fill="rgb(111,111,111)" opacity="0.39"/>
<circle cx="190.6" cy="56.8" r="2.2" fill="rgb(100,100,100)" opacity="0.29"/>
<circle cx="237.4" cy="66.8" r="1.5" fill="rgb(97,97,97)" opacity="0.18"/>
<circle cx="170.8" cy="231.3" r="1.4" fill="rgb(117,117,117)" opacity="0.40"/>
<circle cx="110.6" cy="61.1" r="2.6" fill="rgb(106,106,106)" opacity="0.32"/>
<circle cx="139.5" cy="49.2" r="1.5" fill="rgb(88,88,88)" opacity="0.29"/>
<circle cx="159.4" cy="224.8" r="1.1" fill="rgb(122,122,122)" opacity="0.41"/>
<circle cx="87.5" cy="137.5" r="2.4" fill="rgb(114,114,114)" opacity="0.27"/>
<circle cx="119.4" cy="140.7" r="1.6" fill="rgb(106,106,106)" opacity="0.24"/>
<circle cx="151.2" cy="106.5" r="1.8" fill="rgb(101,101,101)" opacity="0.36"/>
<circle cx="170.8" cy="123.4" r="1.1" fill="rgb(125,125,125)" opacity="0.29"/>
<circle cx="75.7" cy="149.4" r="2.5" fill="rgb(87,87,87)" opacity="0.39"/>
<circle cx="249.6" cy="59.0" r="2.3" fill="rgb(107,107,107)" opacity="0.30"/>
<circle cx="184.9" cy="208.2" r="1.8" fill="rgb(105,105,105)" opacity="0.30"/>
<circle cx="226.9" cy="133.7" r="1.6" fill="rgb(121,121,121)" opacity="0.45"/>
<circle cx="188.6" cy="138.7" r="1.7" fill="rgb(92,92,92)" opacity="0.22"/>
<circle cx="170.8" cy="44.6" r="2.3" fill="rgb(106,106,106)" opacity="0.24"/>
<circle cx="255.6" cy="190.6" r="1.5" fill="rgb(104,104,104)" opacity="0.28"/>
<circle cx="141.4" cy="164.6" r="1.1" fill="rgb(104,104,104)" opacity="0.21"/>
<circle cx="205.6" cy="32.6" r="2.3" fill="rgb(100,100,100)" opacity="0.41"/>
<circle cx="175.9" cy="186.9" r="2.2" fill="rgb(100,100,100)" opacity="0.37"/>
<circle cx="141.7" cy="57.9" r="1.6" fill="rgb(96,96,96)" opacity="0.34"/>
<circle cx="107.8" cy="74.6" r="1.6" fill="rgb(85,85,85)" opacity="0.44"/>
<circle cx="95.0" cy="103.8" r="1.3" fill="rgb(113,113,113)" opacity="0.37"/>
<circle cx="215.4" cy="204.6" r="1.8" fill="rgb(87,87,87)" opacity="0.40"/>
<circle cx="127.6" cy="97.2" r="1.1" fill="rgb(118,118,118)" opacity="0.22"/>
<circle cx="110.2" cy="181.8" r="1.8" fill="rgb(114,114,114)" opacity="0.24"/>
<circle cx="270.5" cy="155.3" r="1.0" fill="rgb(115,115,115)" opacity="0.33"/>
<circle cx="177.5" cy="78.6" r="1.1" fill="rgb(114,114,114)" opacity="0.44"/>
<circle cx="149.1" cy="131.1" r="1.2" fill="rgb(115,115,115)" opacity="0.33"/>
<circle cx="185.3" cy="51.2" r="2.2" fill="rgb(116,116,116)" opacity="0.24"/>
<circle cx="90.6" cy="72.6" r="1.3" fill="rgb(93,93,93)" opacity="0.41"/>
<circle cx="84.9" cy="159.0" r="1.1" fill="rgb(102,102,102)" opacity="0.41"/>
<circle cx="274.9" cy="131.9" r="2.0" fill="rgb(101,101,101)" opacity="0.42"/>
<circle cx="202.6" cy="180.0" r="1.9" fill="rgb(118,118,118)" opacity="0.40"/>
<circle cx="148.5" cy="158.3" r="2.3" fill="rgb(89,89,89)" opacity="0.36"/>
<circle cx="160.3" cy="45.2" r="2.1" fill="rgb(120,120,120)" opacity="0.31"/>
<circle cx="244.0" cy="186.1" r="2.0" fill="rgb(114,114,114)" opacity="0.35"/>
<circle cx="222.1" cy="148.2" r="1.9" fill="rgb(116,116,116)" opacity="0.41"/>
<circle cx="172.5" cy="29.9" r="1.6" fill="rgb(105,105,105)" opacity="0.42"/>
<circle cx="155.8" cy="182.4" r="1.9" fill="rgb(118,118,118)" opacity="0.31"/>
<circle cx="190.8" cy="115.5" r="2.0" fill="rgb(91,91,91)" opacity="0.16"/>
<circle cx="256.5" cy="76.8" r="1.0" fill="rgb(119,119,119)" opacity="0.28"/>
<circle cx="144.5" cy="228.8" r="1.3" fill="rgb(115,115,115)" opacity="0.43"/>
<circle cx="130.0" cy="55.2" r="2.1" fill="rgb(122,122,122)" opacity="0.25"/>
<circle cx="191.1" cy="113.8" r="1.7" fill="rgb(103,103,103)" opacity="0.27"/>
<circle cx="137.9" cy="52.0" r="1.2" fill="rgb(106,106,106)" opacity="0.28"/>
<circle cx="174.8" cy="183.3" r="1.6" fill="rgb(118,118,118)" opacity="0.30"/>
<circle cx="245.4" cy="163.3" r="1.7" fill="rgb(98,98,98)" opacity="0.45"/>
<circle cx="204.2" cy="105.4" r="1.2" fill="rgb(89,89,89)" opacity="0.41"/>
<circle cx="182.0" cy="40.0" r="2.1" fill="rgb(90,90,90)" opacity="0.41"/>
<circle cx="144.9" cy="194.2" r="1.8" fill="rgb(89,89,89)" opacity="0.23"/>
<circle cx="95.7" cy="85.7" r="1.7" fill="rgb(117,117,117)" opacity="0.44"/>
<circle cx="115.1" cy="74.2" r="2.5" fill="rgb(89,89,89)" opacity="0.39"/>
<circle cx="149.2" cy="127.2" r="2.1" fill="rgb(123,123,123)" opacity="0.44"/>
<circle cx="118.8" cy="192.9" r="2.2" fill="rgb(106,106,106)" opacity="0.21"/>
<circle cx="185.6" cy="223.8" r="2.2" fill="rgb(123,123,123)" opacity="0.20"/>
<circle cx="220.6" cy="96.6" r="1.5" fill="rgb(101,101,101)" opacity="0.40"/>
<circle cx="130.8" cy="194.6" r="1.4" fill="rgb(123,123,123)" opacity="0.27"/>
<circle cx="184.5" cy="185.4" r="1.9" fill="rgb(91,91,91)" opacity="0.18"/>
<circle cx="104.3" cy="187.6" r="1.2" fill="rgb(111,111,111)" opacity="0.28"/>
<circle cx="264.1" cy="133.0" r="2.0" fill="rgb(124,124,124)" opacity="0.38"/>
<circle cx="133.0" cy="34.6" r="2.1" fill="rgb(114,114,114)" opacity="0.37"/>
<circle cx="212.0" cy="108.4" r="1.6" fill="rgb(86,86,86)" opacity="0.30"/>
<circle cx="178.7" cy="39.9" r="1.7" fill="rgb(116,116,116)" opacity="0.38"/>
<circle cx="190.1" cy="145.9" r="1.4" fill="rgb(113,113,113)" opacity="0.22"/>
<circle cx="181.7" cy="224.5" r="1.9" fill="rgb(96,96,96)" opacity="0.18"/>
<circle cx="264.9" cy="144.4" r="1.2" fill="rgb(120,120,120)" opacity="0.44"/>
<circle cx="211.4" cy="126.4" r="1.4" fill="rgb(125,125,125)" opacity="0.42"/>
<circle cx="262.1" cy="122.1" r="1.1" fill="rgb(111,111,111)" opacity="0.27"/>
<circle cx="163.0" cy="54.1" r="1.9" fill="rgb(121,121,121)" opacity="0.26"/>
<circle cx="223.9" cy="39.0" r="1.4" fill="rgb(103,103,103)" opacity="0.25"/>
<circle cx="174.1" cy="156.4" r="1.8" fill="rgb(118,118,118)" opacity="0.39"/>
<circle cx="146.1" cy="208.6" r="2.1" fill="rgb(91,91,91)" opacity="0.28"/>
<circle cx="146.4" cy="181.2" r="1.2" fill="rgb(103,103,103)" opacity="0.33"/>
<circle cx="218.8" cy="181.2" r="2.4" fill="rgb(119,119,119)" opacity="0.39"/>
<circle cx="245.7" cy="201.9" r="2.5" fill="rgb(114,114,114)" opacity="0.25"/>
<circle cx="154.3" cy="171.8" r="2.4" fill="rgb(118,118,118)" opacity="0.16"/>
<circle cx="155.2" cy="232.2" r="1.1" fill="rgb(109,109,109)" opacity="0.24"/>
<circle cx="256.3" cy="90.3" r="2.4" fill="rgb(113,113,113)" opacity="0.29"/>
<circle cx="178.2" cy="56.2" r="1.6" fill="rgb(113,113,113)" opacity="0.22"/>
<circle cx="139.9" cy="58.9" r="2.2" fill="rgb(125,125,125)" opacity="0.16"/>
<circle cx="103.5" cy="202.6" r="2.3" fill="rgb(104,104,104)" opacity="0.16"/>
<circle cx="189.3" cy="41.1" r="1.3" fill="rgb(122,122,122)" opacity="0.42"/>
<circle cx="143.9" cy="229.6" r="1.0" fill="rgb(90,90,90)" opacity="0.41"/>
<circle cx="222.6" cy="43.7" r="1.8" fill="rgb(87,87,87)" opacity="0.19"/>
<circle cx="144.7" cy="58.0" r="1.4" fill="rgb(97,97,97)" opacity="0.38"/>
<circle cx="171.2" cy="95.7" r="1.8" fill="rgb(108,108,108)" opacity="0.33"/>
<circle cx="124.6" cy="84.2" r="1.2" fill="rgb(125,125,125)" opacity="0.28"/>
<circle cx="213.2" cy="171.8" r="1.2" fill="rgb(123,123,123)" opacity="0.38"/>
<circle cx="81.6" cy="149.4" r="1.5" fill="rgb(109,109,109)" opacity="0.36"/>
<circle cx="238.4" cy="144.2" r="1.8" fill="rgb(102,102,102)" opacity="0.31"/>
<circle cx="166.0" cy="150.0" r="1.2" fill="rgb(105,105,105)" opacity="0.43"/>
<circle cx="138.3" cy="125.6" r="1.3" fill="rgb(116,116,116)" opacity="0.43"/>
<circle cx="241.1" cy="187.4" r="2.0" fill="rgb(125,125,125)" opacity="0.36"/>
<circle cx="101.2" cy="138.8" r="2.1" fill="rgb(108,108,108)" opacity="0.31"/>
<circle cx="185.1" cy="103.6" r="1.2" fill="rgb(117,117,117)" opacity="0.44"/>
<circle cx="211.7" cy="79.9" r="1.9" fill="rgb(113,113,113)" opacity="0.22"/>
<circle cx="104.3" cy="76.6" r="2.4" fill="rgb(120,120,120)" opacity="0.44"/>
<circle cx="90.2" cy="184.9" r="1.9" fill="rgb(124,124,124)" opacity="0.31"/>
<circle cx="144.3" cy="189.5" r="1.3" fill="rgb(100,100,100)" opacity="0.21"/>
<circle cx="188.1" cy="189.9" r="1.3" fill="rgb(103,103,103)" opacity="0.32"/>
<circle cx="181.0" cy="178.2" r="2.5" fill="rgb(88,88,88)" opacity="0.39"/>
<circle cx="95.4" cy="91.1" r="2.4" fill="rgb(119,119,119)" opacity="0.20"/>
<circle cx="114.2" cy="163.2" r="1.2" fill="rgb(96,96,96)" opacity="0.17"/>
<circle cx="272.7" cy="151.2" r="2.4" fill="rgb(105,105,105)" opacity="0.33"/>
<circle cx="272.5" cy="141.0" r="1.8" fill="rgb(120,120,120)" opacity="0.29"/>
<circle cx="176.2" cy="200.7" r="2.5" fill="rgb(108,108,108)" opacity="0.22"/>
<circle cx="178.7" cy="142.5" r="1.2" fill="rgb(95,95,95)" opacity="0.17"/>
<circle cx="195.7" cy="59.7" r="2.5" fill="rgb(113,113,113)" opacity="0.38"/>
<circle cx="183.6" cy="173.7" r="1.3" fill="rgb(109,109,109)" opacity="0.15"/>
<circle cx="96.2" cy="168.9" r="2.2" fill="rgb(102,102,102)" opacity="0.31"/>
<circle cx="129.0" cy="90.5" r="2.5" fill="rgb(91,91,91)" opacity="0.25"/>
<circle cx="246.7" cy="70.5" r="2.6" fill="rgb(104,104,104)" opacity="0.19"/>
<circle cx="96.9" cy="149.3" r="1.1" fill="rgb(123,123,123)" opacity="0.27"/>
<circle cx="171.0" cy="230.5" r="1.7" fill="rgb(120,120,120)" opacity="0.23"/>
<circle cx="241.7" cy="65.8" r="2.2" fill="rgb(86,86,86)" opacity="0.43"/>
<circle cx="77.3" cy="84.8" r="1.6" fill="rgb(113,113,113)" opacity="0.21"/>
<circle cx="167.0" cy="30.5" r="2.5" fill="rgb(91,91,91)" opacity="0.35"/>
<circle cx="130.3" cy="150.9" r="1.3" fill="rgb(104,104,104)" opacity="0.29"/>
<circle cx="156.7" cy="129.3" r="1.4" fill="rgb(101,101,101)" opacity="0.30"/>
<circle cx="218.8" cy="98.0" r="1.6" fill="rgb(123,123,123)" opacity="0.32"/>
<circle cx="122.9" cy="56.5" r="2.6" fill="rgb(124,124,124)" opacity="0.43"/>
<circle cx="128.3" cy="89.5" r="1.3" fill="rgb(118,118,118)" opacity="0.30"/>
<circle cx="92.5" cy="143.3" r="1.3" fill="rgb(103,103,103)" opacity="0.18"/>
<circle cx="141.3" cy="114.5" r="2.1" fill="rgb(85,85,85)" opacity="0.33"/>
<circle cx="184.8" cy="54.0" r="1.9" fill="rgb(102,102,102)" opacity="0.44"/>
<circle cx="182.7" cy="96.7" r="1.5" fill="rgb(98,98,98)" opacity="0.26"/>
<circle cx="227.5" cy="214.3" r="2.6" fill="rgb(124,124,124)" opacity="0.41"/>
<circle cx="175.3" cy="190.1" r="1.1" fill="rgb(95,95,95)" opacity="0.35"/>
<circle cx="256.9" cy="170.3" r="2.2" fill="rgb(105,105,105)" opacity="0.42"/>
<circle cx="176.5" cy="160.7" r="1.0" fill="rgb(121,121,121)" opacity="0.24"/>
<circle cx="218.9" cy="86.8" r="2.2" fill="rgb(117,117,117)" opacity="0.23"/>
<circle cx="160.5" cy="197.5" r="1.7" fill="rgb(119,119,119)" opacity="0.20"/>
<circle cx="202.5" cy="143.9" r="1.1" fill="rgb(100,100,100)" opacity="0.22"/>
<circle cx="177.2" cy="215.9" r="1.7" fill="rgb(106,106,106)" opacity="0.39"/>
<circle cx="137.0" cy="49.7" r="1.4" fill="rgb(85,85,85)" opacity="0.28"/>
<circle cx="103.2" cy="142.8" r="2.6" fill="rgb(117,117,117)" opacity="0.23"/>
<circle cx="120.8" cy="130.0" r="1.1" fill="rgb(101,101,101)" opacity="0.34"/>
<circle cx="181.3" cy="209.7" r="2.2" fill="rgb(120,120,120)" opacity="0.23"/>
<circle cx="161.5" cy="60.0" r="2.3" fill="rgb(113,113,113)" opacity="0.41"/>
<circle cx="204.5" cy="149.4" r="1.5" fill="rgb(92,92,92)" opacity="0.22"/>
<circle cx="100.1" cy="97.3" r="1.3" fill="rgb(110,110,110)" opacity="0.34"/>
<circle cx="150.1" cy="189.8" r="2.3" fill="rgb(85,85,85)" opacity="0.26"/>
<circle cx="210.6" cy="66.2" r="1.1" fill="rgb(89,89,89)" opacity="0.19"/>
<circle cx="212.2" cy="49.3" r="2.6" fill="rgb(108,108,108)" opacity="0.40"/>
<circle cx="179.9" cy="81.4" r="2.3" fill="rgb(93,93,93)" opacity="0.19"/>
<circle cx="222.9" cy="219.2" r="1.8" fill="rgb(119,119,119)" opacity="0.26"/>
<circle cx="132.7" cy="173.7" r="1.5" fill="rgb(116,116,116)" opacity="0.20"/>
<circle cx="144.0" cy="186.7" r="1.8" fill="rgb(109,109,109)" opacity="0.31"/>
<circle cx="118.8" cy="165.1" r="1.2" fill="rgb(96,96,96)" opacity="0.15"/>
<circle cx="252.4" cy="170.6" r="2.5" fill="rgb(98,98,98)" opacity="0.22"/>
<circle cx="257.4" cy="93.1" r="1.1" fill="rgb(92,92,92)" opacity="0.30"/>
<circle cx="73.0" cy="130.8" r="1.6" fill="rgb(117,117,117)" opacity="0.42"/>
<circle cx="199.1" cy="117.6" r="2.0" fill="rgb(88,88,88)" opacity="0.26"/>
<circle cx="196.8" cy="109.3" r="1.3" fill="rgb(114,114,114)" opacity="0.33"/>
<circle cx="70.2" cy="142.4" r="2.6" fill="rgb(116,116,116)" opacity="0.28"/>
<circle cx="258.1" cy="114.7" r="1.6" fill="rgb(96,96,96)" opacity="0.16"/>
<circle cx="172.4" cy="206.1" r="2.6" fill="rgb(125,125,125)" opacity="0.26"/>
<circle cx="136.0" cy="92.7" r="2.4" fill="rgb(94,94,94)" opacity="0.35"/>
<circle cx="194.1" cy="160.1" r="1.7" fill="rgb(120,120,120)" opacity="0.30"/>
<circle cx="204.0" cy="44.1" r="1.6" fill="rgb(113,113,113)" opacity="0.35"/>
<circle cx="131.6" cy="218.9" r="1.5" fill="rgb(114,114,114)" opacity="0.25"/>
<circle cx="81.6" cy="137.5" r="1.6" fill="rgb(93,93,93)" opacity="0.41"/>
<circle cx="115.8" cy="58.7" r="1.6" fill="rgb(104,104,104)" opacity="0.24"/>
<circle cx="105.6" cy="68.8" r="2.2" fill="rgb(124,124,124)" opacity="0.38"/>
<circle cx="254.4" cy="144.4" r="1.2" fill="rgb(108,108,108)" opacity="0.40"/>
<circle cx="86.7" cy="72.5" r="1.7" fill="rgb(87,87,87)" opacity="0.31"/>
<circle cx="107.4" cy="128.6" r="2.6" fill="rgb(97,97,97)" opacity="0.27"/>
<circle cx="151.5" cy="164.5" r="1.6" fill="rgb(117,117,117)" opacity="0.33"/>
<circle cx="108.3" cy="89.1" r="1.6" fill="rgb(118,118,118)" opacity="0.38"/>
<circle cx="188.1" cy="78.7" r="1.3" fill="rgb(110,110,110)" opacity="0.25"/>
<circle cx="276.2" cy="119.1" r="2.3" fill="rgb(123,123,123)" opacity="0.24"/>
<circle cx="68.5" cy="123.6" r="1.8" fill="rgb(94,94,94)" opacity="0.28"/>
<circle cx="89.9" cy="128.8" r="2.5" fill="rgb(122,122,122)" opacity="0.20"/>
<circle cx="246.5" cy="195.0" r="2.1" fill="rgb(99,99,99)" opacity="0.21"/>
<circle cx="157.6" cy="165.4" r="2.3" fill="rgb(122,122,122)" opacity="0.26"/>
<circle cx="103.6" cy="156.1" r="2.1" fill="rgb(88,88,88)" opacity="0.37"/>
<circle cx="261.7" cy="145.9" r="1.3" fill="rgb(105,105,105)" opacity="0.42"/>
<circle cx="144.0" cy="27.8" r="2.1" fill="rgb(106,106,106)" opacity="0.34"/>
<circle cx="185.2" cy="81.4" r="2.3" fill="rgb(100,100,100)" opacity="0.40"/>
<circle cx="192.4" cy="230.4" r="2.4" fill="rgb(89,89,89)" opacity="0.24"/>
<circle cx="224.5" cy="120.0" r="2.5" fill="rgb(93,93,93)" opacity="0.21"/>
<circle cx="165.5" cy="35.6" r="2.1" fill="rgb(102,102,102)" opacity="0.27"/>
<circle cx="117.4" cy="61.1" r="1.1" fill="rgb(123,123,123)" opacity="0.32"/>
<circle cx="80.1" cy="76.9" r="2.2" fill="rgb(119,119,119)" opacity="0.37"/>
<circle cx="251.8" cy="141.1" r="2.5" fill="rgb(85,85,85)" opacity="0.21"/>
<circle cx="160.9" cy="200.8" r="1.5" fill="rgb(111,111,111)" opacity="0.35"/>
<circle cx="131.1" cy="105.8" r="2.5" fill="rgb(112,112,112)" opacity="0.16"/>
<circle cx="246.1" cy="65.9" r="1.7" fill="rgb(87,87,87)" opacity="0.37"/>
<circle cx="169.6" cy="23.0" r="2.4" fill="rgb(95,95,95)" opacity="0.22"/>
<circle cx="197.7" cy="43.5" r="1.7" fill="rgb(117,117,117)" opacity="0.21"/>
<circle cx="126.3" cy="99.7" r="1.3" fill="rgb(107,107,107)" opacity="0.22"/>
<circle cx="168.2" cy="31.8" r="1.4" fill="rgb(102,102,102)" opacity="0.17"/>
<circle cx="183.1" cy="198.9" r="2.1" fill="rgb(95,95,95)" opacity="0.38"/>
<circle cx="200.5" cy="27.6" r="1.9" fill="rgb(89,89,89)" opacity="0.29"/>
<circle cx="166.4" cy="49.5" r="2.5" fill="rgb(86,86,86)" opacity="0.18"/>
<circle cx="199.3" cy="201.1" r="2.1" fill="rgb(123,123,123)" opacity="0.18"/>
<circle cx="181.7" cy="74.5" r="2.5" fill="rgb(101,101,101)" opacity="0.26"/>
<circle cx="246.2" cy="58.0" r="2.4" fill="rgb(88,88,88)" opacity="0.44"/>
<circle cx="84.5" cy="95.7" r="1.9" fill="rgb(86,86,86)" opacity="0.22"/>
<circle cx="239.3" cy="149.4" r="1.5" fill="rgb(92,92,92)" opacity="0.31"/>
<circle cx="211.8" cy="118.4" r="1.3" fill="rgb(116,116,116)" opacity="0.22"/>
<circle cx="117.0" cy="175.0" r="1.5" fill="rgb(114,114,114)" opacity="0.35"/>
<circle cx="104.0" cy="121.0" r="2.0" fill="rgb(120,120,120)" opacity="0.26"/>
<circle cx="255.1" cy="78.3" r="1.2" fill="rgb(96,96,96)" opacity="0.20"/>
<circle cx="168.4" cy="197.0" r="1.7" fill="rgb(90,90,90)" opacity="0.28"/>
<circle cx="128.2" cy="179.5" r="2.3" fill="rgb(97,97,97)" opacity="0.17"/>
<circle cx="197.5" cy="199.8" r="2.3" fill="rgb(111,111,111)" opacity="0.17"/>
<circle cx="131.2" cy="162.7" r="1.1" fill="rgb(106,106,106)" opacity="0.33"/>
<circle cx="206.8" cy="167.9" r="1.1" fill="rgb(97,97,97)" opacity="0.19"/>
<circle cx="165.0" cy="50.5" r="2.3" fill="rgb(97,97,97)" opacity="0.24"/>
<circle cx="169.8" cy="182.1" r="1.3" fill="rgb(124,124,124)" opacity="0.45"/>
<circle cx="197.7" cy="69.0" r="1.6" fill="rgb(93,93,93)" opacity="0.43"/>
<circle cx="93.3" cy="176.1" r="1.4" fill="rgb(96,96,96)" opacity="0.43"/>
<circle cx="165.1" cy="228.1" r="1.1" fill="rgb(112,112,112)" opacity="0.43"/>
<circle cx="201.4" cy="143.3" r="2.3" fill="rgb(103,103,103)" opacity="0.41"/>
<circle cx="203.8" cy="30.3" r="2.3" fill="rgb(111,111,111)" opacity="0.39"/>
<circle cx="208.3" cy="198.3" r="2.3" fill="rgb(92,92,92)" opacity="0.17"/>
<circle cx="157.5" cy="172.4" r="1.1" fill="rgb(121,121,121)" opacity="0.28"/>
<circle cx="182.3" cy="119.1" r="1.1" fill="rgb(102,102,102)" opacity="0.19"/>
<circle cx="132.0" cy="156.0" r="1.8" fill="rgb(102,102,102)" opacity="0.37"/>
<circle cx="77.2" cy="78.4" r="2.3" fill="rgb(95,95,95)" opacity="0.32"/>
<circle cx="159.8" cy="163.8" r="2.1" fill="rgb(111,111,111)" opacity="0.41"/>
<circle cx="201.5" cy="221.1" r="1.7" fill="rgb(115,115,115)" opacity="0.22"/>
<circle cx="177.2" cy="231.6" r="2.2" fill="rgb(114,114,114)" opacity="0.34"/>
<circle cx="144.3" cy="66.6" r="1.7" fill="rgb(89,89,89)" opacity="0.17"/>
<circle cx="240.6" cy="152.8" r="2.4" fill="rgb(93,93,93)" opacity="0.29"/>
<circle cx="248.9" cy="168.8" r="1.5" fill="rgb(87,87,87)" opacity="0.43"/>
<circle cx="145.4" cy="216.5" r="2.4" fill="rgb(125,125,125)" opacity="0.23"/>
<circle cx="120.6" cy="205.7" r="1.2" fill="rgb(112,112,112)" opacity="0.22"/>
<circle cx="244.4" cy="175.6" r="2.5" fill="rgb(104,104,104)" opacity="0.22"/>
<circle cx="260.3" cy="175.1" r="1.1" fill="rgb(94,94,94)" opacity="0.19"/>
<circle cx="207.7" cy="69.4" r="1.5" fill="rgb(99,99,99)" opacity="0.38"/>
<circle cx="196.9" cy="56.1" r="2.3" fill="rgb(86,86,86)" opacity="0.24"/>
<circle cx="262.2" cy="84.6" r="1.6" fill="rgb(87,87,87)" opacity="0.39"/>
<circle cx="123.6" cy="210.5" r="2.5" fill="rgb(93,93,93)" opacity="0.31"/>
<circle cx="75.9" cy="100.7" r="1.8" fill="rgb(85,85,85)" opacity="0.31"/>
<circle cx="200.3" cy="77.0" r="1.9" fill="rgb(95,95,95)" opacity="0.39"/>
<circle cx="208.3" cy="82.3" r="2.5" fill="rgb(87,87,87)" opacity="0.42"/>
<circle cx="244.0" cy="203.5" r="1.7" fill="rgb(115,115,115)" opacity="0.20"/>
<circle cx="95.3" cy="60.8" r="2.6" fill="rgb(98,98,98)" opacity="0.21"/>
<circle cx="119.0" cy="74.6" r="1.1" fill="rgb(112,112,112)" opacity="0.16"/>
<circle cx="155.1" cy="172.6" r="2.6" fill="rgb(118,118,118)" opacity="0.23"/>
<circle cx="113.0" cy="97.5" r="1.5" fill="rgb(125,125,125)" opacity="0.17"/>
<circle cx="117.0" cy="132.1" r="1.6" fill="rgb(122,122,122)" opacity="0.39"/>
<circle cx="137.8" cy="93.0" r="1.3" fill="rgb(121,121,121)" opacity="0.29"/>
<circle cx="218.6" cy="73.5" r="2.1" fill="rgb(109,109,109)" opacity="0.30"/>
<circle cx="149.8" cy="127.6" r="1.5" fill="rgb(110,110,110)" opacity="0.32"/>
<circle cx="165.1" cy="93.7" r="1.3" fill="rgb(95,95,95)" opacity="0.33"/>
<circle cx="219.4" cy="91.3" r="2.3" fill="rgb(101,101,101)" opacity="0.24"/>
<circle cx="198.0" cy="100.9" r="2.4" fill="rgb(103,103,103)" opacity="0.28"/>
<circle cx="222.4" cy="171.6" r="1.5" fill="rgb(98,98,98)" opacity="0.36"/>
<circle cx="90.2" cy="77.3" r="2.0" fill="rgb(98,98,98)" opacity="0.26"/>
<circle cx="98.9" cy="125.2" r="2.1" fill="rgb(99,99,99)" opacity="0.34"/>
<circle cx="146.0" cy="173.7" r="2.5" fill="rgb(117,117,117)" opacity="0.31"/>
<circle cx="72.7" cy="125.9" r="1.9" fill="rgb(113,113,113)" opacity="0.30"/>
<circle cx="91.4" cy="128.1" r="2.2" fill="rgb(118,118,118)" opacity="0.42"/>
<circle cx="121.0" cy="203.6" r="2.3" fill="rgb(90,90,90)" opacity="0.16"/>
<circle cx="215.2" cy="154.7" r="1.4" fill="rgb(123,123,123)" opacity="0.30"/>
<circle cx="241.8" cy="53.1" r="2.2" fill="rgb(103,103,103)" opacity="0.31"/>
<circle cx="165.7" cy="122.5" r="1.8" fill="rgb(102,102,102)" opacity="0.23"/>
<circle cx="262.2" cy="94.0" r="1.9" fill="rgb(91,91,91)" opacity="0.36"/>
<circle cx="162.4" cy="21.0" r="1.7" fill="rgb(100,100,100)" opacity="0.45"/>
<circle cx="175.3" cy="129.3" r="1.6" fill="rgb(117,117,117)" opacity="0.30"/>
<circle cx="186.7" cy="179.9" r="1.7" fill="rgb(86,86,86)" opacity="0.16"/>
<circle cx="135.7" cy="210.1" r="1.7" fill="rgb(92,92,92)" opacity="0.42"/>
<circle cx="210.6" cy="135.2" r="2.2" fill="rgb(93,93,93)" opacity="0.33"/>
<circle cx="150.1" cy="122.0" r="2.3" fill="rgb(108,108,108)" opacity="0.17"/>
<circle cx="227.3" cy="118.7" r="1.1" fill="rgb(90,90,90)" opacity="0.33"/>
<circle cx="110.1" cy="147.7" r="1.2" fill="rgb(109,109,109)" opacity="0.32"/>
<circle cx="237.3" cy="95.1" r="2.2" fill="rgb(93,93,93)" opacity="0.33"/>
<circle cx="155.8" cy="119.9" r="1.5" fill="rgb(115,115,115)" opacity="0.29"/>
<circle cx="106.5" cy="87.2" r="1.4" fill="rgb(88,88,88)" opacity="0.20"/>
<circle cx="178.8" cy="183.4" r="1.1" fill="rgb(113,113,113)" opacity="0.28"/>
<circle cx="94.8" cy="66.2" r="1.4" fill="rgb(125,125,125)" opacity="0.31"/>
<circle cx="158.1" cy="61.2" r="1.2" fill="rgb(122,122,122)" opacity="0.22"/>
<circle cx="90.6" cy="145.0" r="2.2" fill="rgb(101,101,101)" opacity="0.25"/>
<circle cx="185.0" cy="214.6" r="2.5" fill="rgb(103,103,103)" opacity="0.23"/>
<circle cx="150.6" cy="130.6" r="1.7" fill="rgb(99,99,99)" opacity="0.17"/>
<circle cx="191.0" cy="72.1" r="1.7" fill="rgb(118,118,118)" opacity="0.27"/>
<circle cx="207.1" cy="76.5" r="1.8" fill="rgb(85,85,85)" opacity="0.26"/>
<circle cx="200.3" cy="63.8" r="1.9" fill="rgb(96,96,96)" opacity="0.35"/>
<circle cx="83.4" cy="167.7" r="1.9" fill="rgb(100,100,100)" opacity="0.29"/>
<circle cx="242.2" cy="101.8" r="1.3" fill="rgb(91,91,91)" opacity="0.42"/>
<circle cx="152.7" cy="141.3" r="1.7" fill="rgb(114,114,114)" opacity="0.25"/>
<circle cx="142.5" cy="73.3" r="1.3" fill="rgb(107,107,107)" opacity="0.22"/>
<circle cx="120.1" cy="188.7" r="1.6" fill="rgb(111,111,111)" opacity="0.39"/>
<circle cx="152.5" cy="230.2" r="1.2" fill="rgb(112,112,112)" opacity="0.36"/>
<circle cx="197.9" cy="40.9" r="2.3" fill="rgb(104,104,104)" opacity="0.19"/>
<circle cx="226.0" cy="70.0" r="1.2" fill="rgb(120,120,120)" opacity="0.32"/>
<circle cx="264.9" cy="162.6" r="2.2" fill="rgb(101,101,101)" opacity="0.42"/>
<circle cx="128.6" cy="104.0" r="2.2" fill="rgb(121,121,121)" opacity="0.17"/>
<circle cx="272.4" cy="144.7" r="1.4" fill="rgb(114,114,114)" opacity="0.20"/>
<circle cx="210.2" cy="60.1" r="1.1" fill="rgb(123,123,123)" opacity="0.18"/>
<circle cx="191.4" cy="175.8" r="1.1" fill="rgb(108,108,108)" opacity="0.39"/>
<circle cx="210.5" cy="145.0" r="1.8" fill="rgb(86,86,86)" opacity="0.26"/>
<circle cx="205.4" cy="209.2" r="1.1" fill="rgb(88,88,88)" opacity="0.31"/>
<circle cx="141.8" cy="85.8" r="1.4" fill="rgb(87,87,87)" opacity="0.36"/>
<circle cx="262.7" cy="131.7" r="1.2" fill="rgb(121,121,121)" opacity="0.33"/>
<circle cx="179.2" cy="31.9" r="1.7" fill="rgb(102,102,102)" opacity="0.21"/>
<circle cx="216.3" cy="208.8" r="2.2" fill="rgb(123,123,123)" opacity="0.19"/>
<circle cx="218.1" cy="177.6" r="1.9" fill="rgb(109,109,109)" opacity="0.22"/>
<circle cx="154.2" cy="136.5" r="2.5" fill="rgb(111,111,111)" opacity="0.16"/>
<circle cx="212.9" cy="172.5" r="1.4" fill="rgb(125,125,125)" opacity="0.33"/>
<circle cx="201.6" cy="126.3" r="1.8" fill="rgb(102,102,102)" opacity="0.40"/>
<circle cx="162.0" cy="93.6" r="1.3" fill="rgb(97,97,97)" opacity="0.22"/>
<circle cx="227.9" cy="64.1" r="1.7" fill="rgb(98,98,98)" opacity="0.37"/>
<circle cx="243.9" cy="151.1" r="1.3" fill="rgb(99,99,99)" opacity="0.17"/>
<circle cx="127.6" cy="123.1" r="1.9" fill="rgb(111,111,111)" opacity="0.41"/>
<circle cx="254.0" cy="145.5" r="1.3" fill="rgb(124,124,124)" opacity="0.25"/>
<circle cx="78.5" cy="149.3" r="2.0" fill="rgb(86,86,86)" opacity="0.31"/>
<circle cx="199.5" cy="93.3" r="2.6" fill="rgb(117,117,117)" opacity="0.43"/>
<circle cx="191.8" cy="50.1" r="1.2" fill="rgb(97,97,97)" opacity="0.42"/>
<circle cx="106.6" cy="61.7" r="1.1" fill="rgb(111,111,111)" opacity="0.28"/>
<circle cx="126.5" cy="53.0" r="2.2" fill="rgb(87,87,87)" opacity="0.29"/>
<circle cx="223.5" cy="155.1" r="1.8" fill="rgb(105,105,105)" opacity="0.37"/>
<circle cx="102.6" cy="77.6" r="1.4" fill="rgb(110,110,110)" opacity="0.23"/>
<circle cx="98.4" cy="126.2" r="2.4" fill="rgb(88,88,88)" opacity="0.21"/>
<circle cx="238.6" cy="207.5" r="1.8" fill="rgb(111,111,111)" opacity="0.43"/>
<circle cx="159.5" cy="76.0" r="1.6" fill="rgb(85,85,85)" opacity="0.25"/>
<circle cx="137.7" cy="155.0" r="1.6" fill="rgb(118,118,118)" opacity="0.24"/>
<circle cx="252.1" cy="172.9" r="1.8" fill="rgb(88,88,88)" opacity="0.27"/>
<circle cx="223.4" cy="149.0" r="2.3" fill="rgb(98,98,98)" opacity="0.26"/>
<circle cx="213.2" cy="225.1" r="2.3" fill="rgb(124,124,124)" opacity="0.21"/>
<circle cx="149.8" cy="142.9" r="1.9" fill="rgb(99,99,99)" opacity="0.16"/>
<circle cx="161.2" cy="137.3" r="1.1" fill="rgb(109,109,109)" opacity="0.40"/>
<circle cx="223.0" cy="121.7" r="2.4" fill="rgb(109,109,109)" opacity="0.32"/>
<circle cx="71.5" cy="165.4" r="2.3" fill="rgb(104,104,104)" opacity="0.15"/>
<circle cx="159.4" cy="42.6" r="1.9" fill="rgb(124,124,124)" opacity="0.23"/>
<circle cx="235.6" cy="48.5" r="2.3" fill="rgb(116,116,116)" opacity="0.41"/>
<circle cx="117.5" cy="132.0" r="2.2" fill="rgb(98,98,98)" opacity="0.44"/>
<circle cx="230.4" cy="176.4" r="2.5" fill="rgb(107,107,107)" opacity="0.43"/>
<circle cx="249.3" cy="65.1" r="2.0" fill="rgb(104,104,104)" opacity="0.39"/>
<circle cx="248.6" cy="131.2" r="2.6" fill="rgb(91,91,91)" opacity="0.37"/>
<circle cx="123.4" cy="55.8" r="2.1" fill="rgb(86,86,86)" opacity="0.44"/>
<circle cx="151.5" cy="49.5" r="1.7" fill="rgb(95,95,95)" opacity="0.20"/>
<circle cx="121.5" cy="131.4" r="1.7" fill="rgb(88,88,88)" opacity="0.34"/>
<circle cx="171.8" cy="196.0" r="2.4" fill="rgb(123,123,123)" opacity="0.17"/>
<circle cx="139.9" cy="212.5" r="1.0" fill="rgb(103,103,103)" opacity="0.21"/>
<circle cx="144.4" cy="182.3" r="1.9" fill="rgb(102,102,102)" opacity="0.28"/>
<circle cx="174.9" cy="181.4" r="2.6" fill="rgb(93,93,93)" opacity="0.17"/>
<circle cx="168.5" cy="102.1" r="2.4" fill="rgb(98,98,98)" opacity="0.19"/>
<circle cx="94.2" cy="108.7" r="2.5" fill="rgb(101,101,101)" opacity="0.27"/>
<circle cx="265.9" cy="115.0" r="1.0" fill="rgb(101,101,101)" opacity="0.30"/>
<circle cx="113.0" cy="120.7" r="1.6" fill="rgb(104,104,104)" opacity="0.27"/>
<circle cx="155.1" cy="68.7" r="1.3" fill="rgb(116,116,116)" opacity="0.17"/>
<circle cx="201.2" cy="79.8" r="2.3" fill="rgb(100,100,100)" opacity="0.26"/>
<circle cx="191.5" cy="160.8" r="1.9" fill="rgb(107,107,107)" opacity="0.35"/>
<circle cx="190.5" cy="109.2" r="1.3" fill="rgb(116,116,116)" opacity="0.42"/>
<circle cx="139.5" cy="79.5" r="1.6" fill="rgb(123,123,123)" opacity="0.24"/>
<circle cx="190.9" cy="183.6" r="2.6" fill="rgb(122,122,122)" opacity="0.22"/>
<circle cx="92.3" cy="118.3" r="2.3" fill="rgb(118,118,118)" opacity="0.24"/>
<circle cx="111.5" cy="74.9" r="1.9" fill="rgb(116,116,116)" opacity="0.19"/>
<circle cx="204.8" cy="135.2" r="1.6" fill="rgb(99,99,99)" opacity="0.23"/>
<circle cx="167.4" cy="71.7" r="1.8" fill="rgb(97,97,97)" opacity="0.22"/>
<circle cx="157.9" cy="107.9" r="2.4" fill="rgb(103,103,103)" opacity="0.22"/>
<circle cx="89.4" cy="85.5" r="2.1" fill="rgb(113,113,113)" opacity="0.27"/>
<circle cx="165.3" cy="91.4" r="1.8" fill="rgb(102,102,102)" opacity="0.33"/>
<circle cx="183.1" cy="51.8" r="1.7" fill="rgb(108,108,108)" opacity="0.22"/>
<circle cx="151.2" cy="122.5" r="1.3" fill="rgb(86,86,86)" opacity="0.17"/>
<circle cx="211.7" cy="97.6" r="2.4" fill="rgb(125,125,125)" opacity="0.26"/>
<circle cx="266.1" cy="103.2" r="2.5" fill="rgb(100,100,100)" opacity="0.31"/>
<circle cx="94.0" cy="161.4" r="1.5" fill="rgb(95,95,95)" opacity="0.34"/>
<circle cx="130.4" cy="194.1" r="2.3" fill="rgb(117,117,117)" opacity="0.28"/>
<circle cx="135.9" cy="116.5" r="1.7" fill="rgb(119,119,119)" opacity="0.24"/>
<circle cx="222.5" cy="180.2" r="1.8" fill="rgb(113,113,113)" opacity="0.43"/>
<circle cx="94.9" cy="69.9" r="1.1" fill="rgb(109,109,109)" opacity="0.29"/>
<circle cx="76.3" cy="154.4" r="1.2" fill="rgb(115,115,115)" opacity="0.40"/>
<circle cx="264.8" cy="171.3" r="2.1" fill="rgb(91,91,91)" opacity="0.30"/>
<circle cx="137.9" cy="129.2" r="2.6" fill="rgb(91,91,91)" opacity="0.23"/>
<circle cx="261.9" cy="94.7" r="2.6" fill="rgb(112,112,112)" opacity="0.29"/>
<circle cx="92.4" cy="161.8" r="1.4" fill="rgb(102,102,102)" opacity="0.29"/>
<circle cx="163.7" cy="78.8" r="2.2" fill="rgb(91,91,91)" opacity="0.32"/>
<circle cx="168.3" cy="180.2" r="1.8" fill="rgb(93,93,93)" opacity="0.33"/>
<circle cx="134.1" cy="174.4" r="1.7" fill="rgb(108,108,108)" opacity="0.25"/>
<circle cx="190.8" cy="112.0" r="1.7" fill="rgb(102,102,102)" opacity="0.26"/>
<circle cx="69.7" cy="159.3" r="1.2" fill="rgb(110,110,110)" opacity="0.16"/>
<circle cx="217.6" cy="66.0" r="1.9" fill="rgb(117,117,117)" opacity="0.20"/>
<circle cx="162.3" cy="63.1" r="1.9" fill="rgb(99,99,99)" opacity="0.15"/>
<circle cx="208.2" cy="134.3" r="2.1" fill="rgb(96,96,96)" opacity="0.28"/>
<circle cx="114.5" cy="126.4" r="1.1" fill="rgb(90,90,90)" opacity="0.30"/>
<circle cx="248.5" cy="172.6" r="2.1" fill="rgb(124,124,124)" opacity="0.21"/>
<circle cx="67.2" cy="105.5" r="2.3" fill="rgb(99,99,99)" opacity="0.44"/>
<circle cx="266.3" cy="167.6" r="1.1" fill="rgb(110,110,110)" opacity="0.20"/>
<circle cx="214.0" cy="35.0" r="1.1" fill="rgb(90,90,90)" opacity="0.23"/>
<circle cx="272.1" cy="135.5" r="1.7" fill="rgb(98,98,98)" opacity="0.23"/>
<circle cx="236.9" cy="203.8" r="2.4" fill="rgb(102,102,102)" opacity="0.42"/>
<circle cx="188.5" cy="54.0" r="2.3" fill="rgb(103,103,103)" opacity="0.19"/>
<circle cx="193.3" cy="161.9" r="1.7" fill="rgb(95,95,95)" opacity="0.19"/>
<circle cx="130.6" cy="159.6" r="2.1" fill="rgb(95,95,95)" opacity="0.30"/>
<circle cx="149.0" cy="104.8" r="1.7" fill="rgb(97,97,97)" opacity="0.20"/>
<circle cx="93.7" cy="96.5" r="1.7" fill="rgb(111,111,111)" opacity="0.26"/>
<circle cx="93.4" cy="149.2" r="1.6" fill="rgb(112,112,112)" opacity="0.28"/>
<circle cx="209.4" cy="48.0" r="1.2" fill="rgb(109,109,109)" opacity="0.17"/>
<circle cx="105.2" cy="135.7" r="1.6" fill="rgb(125,125,125)" opacity="0.35"/>
<circle cx="142.5" cy="193.8" r="2.4" fill="rgb(85,85,85)" opacity="0.22"/>
<circle cx="225.4" cy="194.0" r="1.6" fill="rgb(109,109,109)" opacity="0.15"/>
<circle cx="127.4" cy="137.6" r="1.6" fill="rgb(103,103,103)" opacity="0.16"/>
<circle cx="118.7" cy="193.3" r="2.1" fill="rgb(110,110,110)" opacity="0.28"/>
<circle cx="126.9" cy="91.0" r="2.4" fill="rgb(105,105,105)" opacity="0.32"/>
<circle cx="246.2" cy="150.0" r="1.2" fill="rgb(86,86,86)" opacity="0.30"/>
<circle cx="140.8" cy="45.8" r="1.4" fill="rgb(89,89,89)" opacity="0.44"/>
<circle cx="123.2" cy="197.8" r="2.0" fill="rgb(118,118,118)" opacity="0.25"/>
<circle cx="144.6" cy="188.1" r="1.5" fill="rgb(97,97,97)" opacity="0.41"/>
<circle cx="119.5" cy="216.7" r="1.7" fill="rgb(107,107,107)" opacity="0.15"/>
<circle cx="217.1" cy="127.5" r="1.0" fill="rgb(120,120,120)" opacity="0.41"/>
<circle cx="265.7" cy="129.8" r="2.4" fill="rgb(115,115,115)" opacity="0.36"/>
<circle cx="129.2" cy="83.7" r="2.4" fill="rgb(105,105,105)" opacity="0.39"/>
<circle cx="82.2" cy="72.5" r="2.4" fill="rgb(85,85,85)" opacity="0.43"/>
<circle cx="130.1" cy="152.3" r="2.0" fill="rgb(122,122,122)" opacity="0.26"/>
<circle cx="142.1" cy="166.4" r="1.5" fill="rgb(114,114,114)" opacity="0.19"/>
<circle cx="266.9" cy="153.0" r="1.5" fill="rgb(87,87,87)" opacity="0.41"/>
<circle cx="202.6" cy="83.4" r="2.6" fill="rgb(89,89,89)" opacity="0.23"/>
<circle cx="219.6" cy="204.6" r="1.7" fill="rgb(86,86,86)" opacity="0.20"/>
<circle cx="186.1" cy="161.0" r="1.4" fill="rgb(109,109,109)" opacity="0.18"/>
<circle cx="105.3" cy="115.9" r="1.6" fill="rgb(119,119,119)" opacity="0.27"/>
<circle cx="120.9" cy="100.7" r="1.3" fill="rgb(120,120,120)" opacity="0.43"/>
<circle cx="128.6" cy="215.5" r="1.3" fill="rgb(98,98,98)" opacity="0.19"/>
<circle cx="256.7" cy="142.0" r="1.9" fill="rgb(111,111,111)" opacity="0.32"/>
<circle cx="238.9" cy="105.3" r="2.4" fill="rgb(115,115,115)" opacity="0.19"/>
<circle cx="253.1" cy="77.0" r="2.4" fill="rgb(98,98,98)" opacity="0.18"/>
<circle cx="264.9" cy="88.5" r="2.5" fill="rgb(116,116,116)" opacity="0.34"/>
<circle cx="116.5" cy="54.6" r="1.8" fill="rgb(113,113,113)" opacity="0.22"/>
<circle cx="152.2" cy="154.6" r="1.8" fill="rgb(96,96,96)" opacity="0.31"/>
<circle cx="92.6" cy="194.5" r="1.4" fill="rgb(116,116,116)" opacity="0.30"/>
<circle cx="178.5" cy="179.7" r="2.5" fill="rgb(98,98,98)" opacity="0.24"/>
<circle cx="195.7" cy="226.4" r="1.3" fill="rgb(97,97,97)" opacity="0.17"/>
<circle cx="101.3" cy="72.9" r="2.5" fill="rgb(87,87,87)" opacity="0.17"/>
<circle cx="185.9" cy="216.2" r="1.2" fill="rgb(106,106,106)" opacity="0.21"/>
<circle cx="236.1" cy="98.9" r="1.0" fill="rgb(104,104,104)" opacity="0.45"/>
<circle cx="217.0" cy="41.5" r="1.7" fill="rgb(94,94,94)" opacity="0.17"/>
<circle cx="125.6" cy="139.2" r="1.4" fill="rgb(86,86,86)" opacity="0.18"/>
<circle cx="186.7" cy="225.0" r="1.5" fill="rgb(85,85,85)" opacity="0.39"/>
<circle cx="194.5" cy="192.4" r="2.2" fill="rgb(110,110,110)" opacity="0.23"/>
<circle cx="118.0" cy="37.7" r="1.8" fill="rgb(101,101,101)" opacity="0.41"/>
<circle cx="130.8" cy="53.5" r="1.3" fill="rgb(93,93,93)" opacity="0.31"/>
<circle cx="101.2" cy="70.2" r="1.6" fill="rgb(117,117,117)" opacity="0.35"/>
<circle cx="183.3" cy="83.0" r="2.5" fill="rgb(122,122,122)" opacity="0.40"/>
<circle cx="263.6" cy="178.0" r="1.2" fill="rgb(92,92,92)" opacity="0.35"/>
<circle cx="222.7" cy="85.7" r="2.2" fill="rgb(106,106,106)" opacity="0.33"/>
<circle cx="172.5" cy="213.0" r="1.4" fill="rgb(109,109,109)" opacity="0.44"/>
<circle cx="92.9" cy="127.5" r="2.5" fill="rgb(88,88,88)" opacity="0.17"/>
<circle cx="255.6" cy="163.1" r="1.7" fill="rgb(98,98,98)" opacity="0.28"/>
<circle cx="197.0" cy="38.2" r="2.1" fill="rgb(101,101,101)" opacity="0.16"/>
<circle cx="259.2" cy="83.5" r="2.6" fill="rgb(120,120,120)" opacity="0.27"/>
<circle cx="166.4" cy="194.6" r="2.3" fill="rgb(119,119,119)" opacity="0.35"/>
<circle cx="166.9" cy="85.5" r="2.1" fill="rgb(110,110,110)" opacity="0.44"/>
<circle cx="126.8" cy="123.1" r="1.7" fill="rgb(121,121,121)" opacity="0.43"/>
<circle cx="159.7" cy="232.0" r="1.0" fill="rgb(112,112,112)" opacity="0.28"/>
<circle cx="239.7" cy="203.5" r="2.4" fill="rgb(116,116,116)" opacity="0.35"/>
<circle cx="124.5" cy="120.9" r="1.5" fill="rgb(98,98,98)" opacity="0.27"/>
<circle cx="109.5" cy="211.2" r="1.8" fill="rgb(124,124,124)" opacity="0.36"/>
<circle cx="204.4" cy="40.2" r="1.1" fill="rgb(92,92,92)" opacity="0.33"/>
<circle cx="161.3" cy="80.4" r="1.7" fill="rgb(110,110,110)" opacity="0.27"/>
<circle cx="202.9" cy="151.0" r="1.7" fill="rgb(121,121,121)" opacity="0.40"/>
<circle cx="194.5" cy="71.6" r="2.3" fill="rgb(87,87,87)" opacity="0.26"/>
<circle cx="145.2" cy="184.2" r="2.4" fill="rgb(112,112,112)" opacity="0.30"/>
<circle cx="142.9" cy="161.2" r="1.6" fill="rgb(86,86,86)" opacity="0.26"/>
<circle cx="144.4" cy="126.4" r="1.6" fill="rgb(110,110,110)" opacity="0.21"/>
<circle cx="70.9" cy="148.2" r="1.4" fill="rgb(112,112,112)" opacity="0.25"/>
<circle cx="232.5" cy="192.5" r="2.4" fill="rgb(106,106,106)" opacity="0.25"/>
<circle cx="186.4" cy="136.5" r="2.2" fill="rgb(95,95,95)" opacity="0.36"/>
<circle cx="167.9" cy="69.7" r="1.4" fill="rgb(104,104,104)" opacity="0.31"/>
<circle cx="107.2" cy="75.5" r="2.1" fill="rgb(102,102,102)" opacity="0.27"/>
<circle cx="84.7" cy="76.0" r="2.3" fill="rgb(89,89,89)" opacity="0.40"/>
<circle cx="205.7" cy="120.0" r="2.0" fill="rgb(123,123,123)" opacity="0.36"/>
<circle cx="105.1" cy="55.5" r="2.5" fill="rgb(125,125,125)" opacity="0.22"/>
<circle cx="111.8" cy="119.4" r="2.6" fill="rgb(99,99,99)" opacity="0.38"/>
<circle cx="256.7" cy="104.7" r="1.8" fill="rgb(110,110,110)" opacity="0.20"/>
<circle cx="105.1" cy="150.9" r="2.2" fill="rgb(111,111,111)" opacity="0.36"/>
<circle cx="211.4" cy="190.3" r="2.4" fill="rgb(96,96,96)" opacity="0.27"/>
<circle cx="188.9" cy="193.6" r="1.4" fill="rgb(85,85,85)" opacity="0.25"/>
<circle cx="167.3" cy="105.2" r="2.2" fill="rgb(124,124,124)" opacity="0.29"/>
<circle cx="167.7" cy="49.9" r="2.5" fill="rgb(121,121,121)" opacity="0.35"/>
<circle cx="224.6" cy="152.4" r="2.5" fill="rgb(109,109,109)" opacity="0.42"/>
<circle cx="209.0" cy="132.4" r="1.1" fill="rgb(85,85,85)" opacity="0.32"/>
<circle cx="178.0" cy="230.7" r="1.7" fill="rgb(107,107,107)" opacity="0.45"/>
<circle cx="194.4" cy="183.4" r="1.2" fill="rgb(110,110,110)" opacity="0.19"/>
<circle cx="181.4" cy="34.5" r="2.1" fill="rgb(97,97,97)" opacity="0.37"/>
<circle cx="159.2" cy="106.9" r="2.0" fill="rgb(97,97,97)" opacity="0.31"/>
<circle cx="244.7" cy="92.8" r="2.5" fill="rgb(86,86,86)" opacity="0.33"/>
<circle cx="182.6" cy="98.9" r="1.4" fill="rgb(115,115,115)" opacity="0.32"/>
<circle cx="94.9" cy="107.6" r="1.5" fill="rgb(111,111,111)" opacity="0.39"/>
<circle cx="103.2" cy="160.8" r="1.3" fill="rgb(97,97,97)" opacity="0.16"/>
<circle cx="117.5" cy="204.5" r="1.9" fill="rgb(100,100,100)" opacity="0.42"/>
<circle cx="264.4" cy="150.6" r="1.2" fill="rgb(88,88,88)" opacity="0.23"/>
<circle cx="186.0" cy="37.9" r="1.8" fill="rgb(118,118,118)" opacity="0.21"/>
<circle cx="185.6" cy="229.5" r="1.0" fill="rgb(87,87,87)" opacity="0.38"/>
<circle cx="137.7" cy="139.7" r="2.4" fill="rgb(90,90,90)" opacity="0.37"/>
<circle cx="166.6" cy="146.9" r="1.9" fill="rgb(98,98,98)" opacity="0.27"/>
<circle cx="207.5" cy="143.6" r="2.3" fill="rgb(91,91,91)" opacity="0.19"/>
<circle cx="117.2" cy="45.2" r="2.1" fill="rgb(117,117,117)" opacity="0.27"/>
<circle cx="227.8" cy="103.4" r="2.0" fill="rgb(94,94,94)" opacity="0.29"/>
<circle cx="80.7" cy="96.9" r="1.3" fill="rgb(121,121,121)" opacity="0.19"/>
<circle cx="139.4" cy="167.3" r="2.1" fill="rgb(94,94,94)" opacity="0.33"/>
<circle cx="140.8" cy="193.6" r="2.4" fill="rgb(88,88,88)" opacity="0.24"/>
<circle cx="264.0" cy="112.3" r="2.0" fill="rgb(122,122,122)" opacity="0.29"/>
<circle cx="183.3" cy="112.1" r="1.0" fill="rgb(120,120,120)" opacity="0.31"/>
<circle cx="97.3" cy="126.4" r="1.2" fill="rgb(107,107,107)" opacity="0.36"/>
<circle cx="112.2" cy="92.0" r="2.3" fill="rgb(115,115,115)" opacity="0.18"/>
<circle cx="212.9" cy="156.9" r="1.0" fill="rgb(114,114,114)" opacity="0.18"/>
<circle cx="167.6" cy="234.0" r="1.4" fill="rgb(102,102,102)" opacity="0.34"/>
<circle cx="76.5" cy="88.9" r="2.1" fill="rgb(114,114,114)" opacity="0.31"/>
<circle cx="107.2" cy="101.3" r="2.3" fill="rgb(99,99,99)" opacity="0.43"/>
<circle cx="186.7" cy="33.6" r="1.3" fill="rgb(120,120,120)" opacity="0.19"/>
<circle cx="226.6" cy="151.1" r="1.4" fill="rgb(94,94,94)" opacity="0.36"/>
<circle cx="106.9" cy="197.3" r="1.7" fill="rgb(123,123,123)" opacity="0.18"/>
<circle cx="202.4" cy="79.9" r="2.2" fill="rgb(123,123,123)" opacity="0.16"/>
<circle cx="139.6" cy="72.5" r="1.3" fill="rgb(97,97,97)" opacity="0.38"/>
<circle cx="228.3" cy="77.7" r="2.6" fill="rgb(118,118,118)" opacity="0.40"/>
<circle cx="69.2" cy="141.9" r="1.5" fill="rgb(122,122,122)" opacity="0.28"/>
<circle cx="164.2" cy="87.5" r="1.9" fill="rgb(93,93,93)" opacity="0.30"/>
<circle cx="92.9" cy="117.3" r="1.4" fill="rgb(87,87,87)" opacity="0.20"/>
<circle cx="148.0" cy="223.6" r="1.1" fill="rgb(119,119,119)" opacity="0.37"/>
<circle cx="275.6" cy="111.0" r="1.3" fill="rgb(123,123,123)" opacity="0.35"/>
<circle cx="226.7" cy="168.5" r="1.2" fill="rgb(95,95,95)" opacity="0.42"/>
<circle cx="155.4" cy="86.7" r="1.3" fill="rgb(90,90,90)" opacity="0.20"/>
<circle cx="271.7" cy="122.9" r="2.3" fill="rgb(90,90,90)" opacity="0.26"/>
<circle cx="146.7" cy="31.7" r="2.2" fill="rgb(86,86,86)" opacity="0.15"/>
<circle cx="130.2" cy="134.9" r="2.0" fill="rgb(118,118,118)" opacity="0.32"/>
<circle cx="239.2" cy="185.4" r="2.3" fill="rgb(122,122,122)" opacity="0.20"/>
<circle cx="121.1" cy="160.6" r="1.3" fill="rgb(100,100,100)" opacity="0.25"/>
<circle cx="100.6" cy="53.8" r="2.4" fill="rgb(94,94,94)" opacity="0.23"/>
<circle cx="114.9" cy="135.5" r="1.7" fill="rgb(109,109,109)" opacity="0.44"/>
<circle cx="137.7" cy="148.0" r="2.4" fill="rgb(104,104,104)" opacity="0.22"/>
<circle cx="93.4" cy="182.5" r="1.6" fill="rgb(86,86,86)" opacity="0.41"/>
<circle cx="133.2" cy="170.0" r="1.0" fill="rgb(98,98,98)" opacity="0.32"/>
<circle cx="141.3" cy="81.0" r="2.3" fill="rgb(114,114,114)" opacity="0.27"/>
<circle cx="129.0" cy="139.4" r="2.2" fill="rgb(91,91,91)" opacity="0.42"/>
<circle cx="157.7" cy="156.5" r="2.0" fill="rgb(86,86,86)" opacity="0.40"/>
<circle cx="127.8" cy="170.2" r="2.4" fill="rgb(104,104,104)" opacity="0.36"/>
<circle cx="115.8" cy="111.6" r="1.3" fill="rgb(122,122,122)" opacity="0.32"/>
<circle cx="197.4" cy="35.4" r="2.0" fill="rgb(105,105,105)" opacity="0.22"/>
<circle cx="132.4" cy="181.2" r="1.6" fill="rgb(104,104,104)" opacity="0.28"/>
<circle cx="157.8" cy="224.4" r="1.7" fill="rgb(113,113,113)" opacity="0.42"/>
<circle cx="113.5" cy="60.8" r="2.1" fill="rgb(90,90,90)" opacity="0.32"/>
<circle cx="195.7" cy="115.9" r="1.9" fill="rgb(94,94,94)" opacity="0.22"/>
<circle cx="105.3" cy="140.2" r="2.4" fill="rgb(86,86,86)" opacity="0.17"/>
<circle cx="102.4" cy="146.8" r="1.1" fill="rgb(110,110,110)" opacity="0.33"/>
<circle cx="145.6" cy="113.9" r="1.9" fill="rgb(104,104,104)" opacity="0.34"/>
<circle cx="186.4" cy="25.6" r="1.3" fill="rgb(118,118,118)" opacity="0.17"/>
<circle cx="168.7" cy="27.7" r="2.4" fill="rgb(106,106,106)" opacity="0.25"/>
<circle cx="183.6" cy="206.6" r="2.5" fill="rgb(118,118,118)" opacity="0.28"/>
<circle cx="170.5" cy="66.6" r="2.2" fill="rgb(125,125,125)" opacity="0.44"/>
<circle cx="88.8" cy="63.6" r="1.2" fill="rgb(90,90,90)" opacity="0.19"/>
<circle cx="181.2" cy="128.1" r="1.8" fill="rgb(118,118,118)" opacity="0.30"/>
<circle cx="102.2" cy="140.9" r="1.6" fill="rgb(114,114,114)" opacity="0.42"/>
<circle cx="232.3" cy="146.0" r="1.0" fill="rgb(120,120,120)" opacity="0.26"/>
<circle cx="184.3" cy="215.5" r="1.3" fill="rgb(113,113,113)" opacity="0.38"/>
<circle cx="142.3" cy="94.5" r="1.7" fill="rgb(106,106,106)" opacity="0.43"/>
<circle cx="176.3" cy="132.4" r="1.1" fill="rgb(118,118,118)" opacity="0.23"/>
<circle cx="157.1" cy="110.4" r="1.2" fill="rgb(103,103,103)" opacity="0.39"/>
<circle cx="166.5" cy="190.5" r="1.8" fill="rgb(93,93,93)" opacity="0.23"/>
<circle cx="201.8" cy="99.0" r="1.8" fill="rgb(117,117,117)" opacity="0.23"/>
<circle cx="200.3" cy="207.7" r="2.2" fill="rgb(87,87,87)" opacity="0.25"/>
<circle cx="270.7" cy="162.1" r="2.6" fill="rgb(107,107,107)" opacity="0.25"/>
<circle cx="204.4" cy="196.7" r="1.5" fill="rgb(103,103,103)" opacity="0.19"/>
<circle cx="137.3" cy="102.2" r="1.2" fill="rgb(91,91,91)" opacity="0.23"/>
<circle cx="215.1" cy="122.2" r="2.5" fill="rgb(100,100,100)" opacity="0.36"/>
<circle cx="134.4" cy="116.2" r="1.7" fill="rgb(105,105,105)" opacity="0.18"/>
<circle cx="271.3" cy="109.3" r="2.2" fill="rgb(122,122,122)" opacity="0.45"/>
<circle cx="229.5" cy="105.8" r="2.2" fill="rgb(101,101,101)" opacity="0.36"/>
<circle cx="212.1" cy="108.1" r="1.1" fill="rgb(99,99,99)" opacity="0.45"/>
<circle cx="263.5" cy="109.6" r="1.4" fill="rgb(90,90,90)" opacity="0.44"/>
<circle cx="205.1" cy="74.2" r="1.3" fill="rgb(109,109,109)" opacity="0.36"/>
<circle cx="227.7" cy="113.0" r="1.2" fill="rgb(122,122,122)" opacity="0.38"/>
<circle cx="223.5" cy="202.5" r="2.4" fill="rgb(123,123,123)" opacity="0.26"/>
<circle cx="190.2" cy="45.1" r="1.3" fill="rgb(104,104,104)" opacity="0.36"/>
<circle cx="228.0" cy="70.6" r="1.5" fill="rgb(106,106,106)" opacity="0.42"/>
<circle cx="210.4" cy="124.6" r="2.5" fill="rgb(98,98,98)" opacity="0.15"/>
<circle cx="256.0" cy="179.8" r="2.2" fill="rgb(95,95,95)" opacity="0.19"/>
<circle cx="81.2" cy="96.4" r="1.1" fill="rgb(91,91,91)" opacity="0.36"/>
<circle cx="83.1" cy="101.2" r="1.2" fill="rgb(92,92,92)" opacity="0.30"/>
<circle cx="200.7" cy="30.9" r="1.5" fill="rgb(107,107,107)" opacity="0.27"/>
<circle cx="84.0" cy="152.5" r="2.4" fill="rgb(120,120,120)" opacity="0.41"/>
<circle cx="117.6" cy="162.3" r="1.4" fill="rgb(117,117,117)" opacity="0.17"/>
<circle cx="97.9" cy="120.9" r="2.4" fill="rgb(111,111,111)" opacity="0.40"/>
<circle cx="151.0" cy="72.7" r="2.4" fill="rgb(123,123,123)" opacity="0.37"/>
<circle cx="81.9" cy="175.3" r="2.4" fill="rgb(113,113,113)" opacity="0.34"/>
<circle cx="271.9" cy="125.6" r="2.6" fill="rgb(88,88,88)" opacity="0.23"/>
<circle cx="77.6" cy="90.8" r="2.0" fill="rgb(121,121,121)" opacity="0.43"/>
<circle cx="93.4" cy="95.1" r="2.3" fill="rgb(118,118,118)" opacity="0.42"/>
<circle cx="198.0" cy="185.3" r="2.2" fill="rgb(108,108,108)" opacity="0.35"/>
<circle cx="86.1" cy="160.0" r="2.4" fill="rgb(119,119,119)" opacity="0.18"/>
<circle cx="222.2" cy="100.7" r="1.5" fill="rgb(93,93,93)" opacity="0.16"/>
<circle cx="162.5" cy="215.7" r="2.2" fill="rgb(120,120,120)" opacity="0.21"/>
<circle cx="103.0" cy="52.9" r="1.6" fill="rgb(92,92,92)" opacity="0.28"/>
<circle cx="154.1" cy="143.1" r="2.5" fill="rgb(108,108,108)" opacity="0.40"/>
<circle cx="164.5" cy="114.2" r="2.2" fill="rgb(104,104,104)" opacity="0.17"/>
<circle cx="178.0" cy="223.3" r="1.7" fill="rgb(124,124,124)" opacity="0.35"/>
<circle cx="106.3" cy="171.8" r="1.9" fill="rgb(117,117,117)" opacity="0.20"/>
<circle cx="182.8" cy="196.2" r="2.3" fill="rgb(112,112,112)" opacity="0.17"/>
<circle cx="234.8" cy="155.7" r="1.3" fill="rgb(116,116,116)" opacity="0.39"/>
<circle cx="138.2" cy="146.3" r="2.5" fill="rgb(85,85,85)" opacity="0.32"/>
<circle cx="117.4" cy="161.8" r="1.8" fill="rgb(93,93,93)" opacity="0.33"/>
<circle cx="189.3" cy="66.0" r="1.8" fill="rgb(108,108,108)" opacity="0.25"/>
<circle cx="134.2" cy="74.5" r="2.3" fill="rgb(92,92,92)" opacity="0.18"/>
<circle cx="166.8" cy="213.3" r="1.5" fill="rgb(107,107,107)" opacity="0.21"/>
<circle cx="213.3" cy="118.5" r="1.7" fill="rgb(104,104,104)" opacity="0.37"/>
<circle cx="183.9" cy="137.1" r="1.9" fill="rgb(85,85,85)" opacity="0.27"/>
<circle cx="120.1" cy="190.2" r="1.5" fill="rgb(95,95,95)" opacity="0.40"/>
<circle cx="226.6" cy="165.5" r="1.9" fill="rgb(102,102,102)" opacity="0.27"/>
<circle cx="181.5" cy="213.9" r="1.6" fill="rgb(100,100,100)" opacity="0.33"/>
<circle cx="176.8" cy="217.7" r="2.3" fill="rgb(98,98,98)" opacity="0.43"/>
<circle cx="264.4" cy="89.3" r="2.0" fill="rgb(97,97,97)" opacity="0.43"/>
<circle cx="238.7" cy="92.2" r="1.3" fill="rgb(108,108,108)" opacity="0.26"/>
<circle cx="221.4" cy="208.9" r="2.3" fill="rgb(102,102,102)" opacity="0.19"/>
<circle cx="98.0" cy="113.1" r="1.2" fill="rgb(116,116,116)" opacity="0.17"/>
<circle cx="214.9" cy="82.2" r="1.9" fill="rgb(107,107,107)" opacity="0.33"/>
<circle cx="221.9" cy="90.5" r="2.2" fill="rgb(98,98,98)" opacity="0.37"/>
<circle cx="96.5" cy="92.5" r="2.4" fill="rgb(97,97,97)" opacity="0.26"/>
<circle cx="141.8" cy="107.9" r="1.5" fill="rgb(115,115,115)" opacity="0.36"/>
<circle cx="151.6" cy="191.7" r="1.4" fill="rgb(103,103,103)" opacity="0.44"/>
<circle cx="225.0" cy="74.2" r="1.8" fill="rgb(99,99,99)" opacity="0.37"/>
<circle cx="152.9" cy="225.5" r="1.7" fill="rgb(88,88,88)" opacity="0.30"/>
<circle cx="191.5" cy="121.4" r="2.1" fill="rgb(100,100,100)" opacity="0.45"/>
<circle cx="129.0" cy="136.0" r="2.2" fill="rgb(116,116,116)" opacity="0.17"/>
<circle cx="223.1" cy="100.2" r="1.7" fill="rgb(111,111,111)" opacity="0.40"/>
<circle cx="200.8" cy="98.9" r="2.0" fill="rgb(125,125,125)" opacity="0.17"/>
<circle cx="145.3" cy="163.1" r="1.3" fill="rgb(120,120,120)" opacity="0.39"/>
<circle cx="72.2" cy="124.3" r="1.9" fill="rgb(97,97,97)" opacity="0.24"/>
<circle cx="134.3" cy="154.9" r="1.9" fill="rgb(110,110,110)" opacity="0.26"/>
<circle cx="146.2" cy="193.3" r="1.8" fill="rgb(95,95,95)" opacity="0.33"/>
<circle cx="98.2" cy="144.2" r="2.5" fill="rgb(120,120,120)" opacity="0.43"/>
<circle cx="208.7" cy="179.4" r="1.2" fill="rgb(119,119,119)" opacity="0.21"/>
<circle cx="174.9" cy="119.3" r="1.6" fill="rgb(94,94,94)" opacity="0.21"/>
<circle cx="207.4" cy="143.1" r="1.1" fill="rgb(95,95,95)" opacity="0.33"/>
<circle cx="145.6" cy="158.4" r="2.0" fill="rgb(96,96,96)" opacity="0.20"/>
<circle cx="149.9" cy="80.6" r="1.5" fill="rgb(121,121,121)" opacity="0.31"/>
<circle cx="195.2" cy="39.3" r="1.8" fill="rgb(116,116,116)" opacity="0.29"/>
<circle cx="116.9" cy="183.8" r="1.3" fill="rgb(109,109,109)" opacity="0.19"/>
<circle cx="242.0" cy="102.4" r="2.5" fill="rgb(87,87,87)" opacity="0.43"/>
<circle cx="227.7" cy="78.4" r="1.5" fill="rgb(96,96,96)" opacity="0.18"/>
<circle cx="103.4" cy="160.7" r="1.1" fill="rgb(87,87,87)" opacity="0.23"/>
<circle cx="164.3" cy="218.5" r="2.0" fill="rgb(122,122,122)" opacity="0.38"/>
<circle cx="255.9" cy="150.8" r="1.4" fill="rgb(110,110,110)" opacity="0.20"/>
<circle cx="213.6" cy="96.5" r="1.8" fill="rgb(115,115,115)" opacity="0.22"/>
<circle cx="124.0" cy="157.2" r="1.9" fill="rgb(116,116,116)" opacity="0.38"/>
<circle cx="92.1" cy="83.5" r="2.5" fill="rgb(94,94,94)" opacity="0.25"/>
<circle cx="206.8" cy="209.8" r="2.5" fill="rgb(97,97,97)" opacity="0.41"/>
<circle cx="228.5" cy="210.9" r="2.0" fill="rgb(92,92,92)" opacity="0.32"/>
<circle cx="80.0" cy="158.3" r="2.5" fill="rgb(86,86,86)" opacity="0.30"/>
<circle cx="101.5" cy="193.3" r="1.4" fill="rgb(99,99,99)" opacity="0.42"/>
<circle cx="191.3" cy="223.3" r="1.8" fill="rgb(101,101,101)" opacity="0.23"/>
<circle cx="209.1" cy="199.8" r="1.4" fill="rgb(96,96,96)" opacity="0.21"/>
<circle cx="204.2" cy="46.0" r="1.7" fill="rgb(101,101,101)" opacity="0.26"/>
<circle cx="246.9" cy="137.7" r="1.6" fill="rgb(114,114,114)" opacity="0.41"/>
<circle cx="217.4" cy="118.0" r="2.5" fill="rgb(124,124,124)" opacity="0.15"/>
<circle cx="145.6" cy="115.6" r="1.8" fill="rgb(113,113,113)" opacity="0.17"/>
<circle cx="170.8" cy="141.3" r="1.4" fill="rgb(92,92,92)" opacity="0.38"/>
<circle cx="143.4" cy="60.3" r="1.4" fill="rgb(93,93,93)" opacity="0.16"/>
<circle cx="196.9" cy="77.7" r="1.4" fill="rgb(103,103,103)" opacity="0.18"/>
<circle cx="203.0" cy="172.7" r="1.8" fill="rgb(94,94,94)" opacity="0.41"/>
<circle cx="146.4" cy="223.1" r="1.6" fill="rgb(99,99,99)" opacity="0.43"/>
<circle cx="155.2" cy="208.7" r="1.7" fill="rgb(119,119,119)" opacity="0.31"/>
<circle cx="172.3" cy="152.3" r="1.7" fill="rgb(87,87,87)" opacity="0.32"/>
<circle cx="269.1" cy="113.9" r="1.7" fill="rgb(103,103,103)" opacity="0.17"/>
<circle cx="156.8" cy="95.0" r="1.8" fill="rgb(113,113,113)" opacity="0.27"/>
<circle cx="236.4" cy="136.2" r="1.3" fill="rgb(92,92,92)" opacity="0.38"/>
<circle cx="70.2" cy="146.4" r="2.1" fill="rgb(115,115,115)" opacity="0.16"/>
<circle cx="93.1" cy="156.2" r="1.2" fill="rgb(125,125,125)" opacity="0.33"/>
<circle cx="191.4" cy="107.8" r="1.7" fill="rgb(99,99,99)" opacity="0.30"/>
<circle cx="203.7" cy="123.3" r="2.3" fill="rgb(86,86,86)" opacity="0.34"/>
<circle cx="114.6" cy="115.8" r="1.3" fill="rgb(124,124,124)" opacity="0.34"/>
<circle cx="162.6" cy="217.1" r="1.3" fill="rgb(99,99,99)" opacity="0.27"/>
<circle cx="124.0" cy="164.5" r="1.8" fill="rgb(90,90,90)" opacity="0.42"/>
<circle cx="198.6" cy="182.7" r="1.7" fill="rgb(118,118,118)" opacity="0.26"/>
<circle cx="185.7" cy="95.8" r="2.2" fill="rgb(120,120,120)" opacity="0.42"/>
<circle cx="218.1" cy="107.2" r="2.2" fill="rgb(99,99,99)" opacity="0.28"/>
<circle cx="176.3" cy="59.0" r="1.2" fill="rgb(90,90,90)" opacity="0.25"/>
<circle cx="195.8" cy="67.5" r="2.0" fill="rgb(101,101,101)" opacity="0.42"/>
<circle cx="125.0" cy="223.9" r="1.6" fill="rgb(111,111,111)" opacity="0.20"/>
<circle cx="267.4" cy="99.3" r="2.5" fill="rgb(96,96,96)" opacity="0.43"/>
<circle cx="201.1" cy="73.2" r="1.4" fill="rgb(89,89,89)" opacity="0.27"/>
<circle cx="127.0" cy="72.3" r="2.3" fill="rgb(87,87,87)" opacity="0.34"/>
<circle cx="154.9" cy="192.2" r="2.1" fill="rgb(119,119,119)" opacity="0.15"/>
<circle cx="189.4" cy="113.5" r="2.2" fill="rgb(111,111,111)" opacity="0.26"/>
<circle cx="148.0" cy="199.8" r="2.0" fill="rgb(102,102,102)" opacity="0.25"/>
<circle cx="231.6" cy="120.8" r="1.2" fill="rgb(88,88,88)" opacity="0.31"/>
<circle cx="218.3" cy="150.7" r="1.7" fill="rgb(103,103,103)" opacity="0.39"/>
<circle cx="116.0" cy="141.0" r="1.3" fill="rgb(106,106,106)" opacity="0.16"/>
<circle cx="262.4" cy="100.1" r="1.9" fill="rgb(93,93,93)" opacity="0.18"/>
<circle cx="112.6" cy="215.5" r="2.2" fill="rgb(91,91,91)" opacity="0.15"/>
<circle cx="78.8" cy="93.2" r="2.3" fill="rgb(110,110,110)" opacity="0.31"/>
<circle cx="146.5" cy="88.9" r="1.2" fill="rgb(103,103,103)" opacity="0.15"/>
<circle cx="209.8" cy="124.3" r="2.3" fill="rgb(97,97,97)" opacity="0.16"/>
<circle cx="176.8" cy="158.3" r="2.4" fill="rgb(114,114,114)" opacity="0.38"/>
<circle cx="245.7" cy="55.1" r="1.3" fill="rgb(95,95,95)" opacity="0.40"/>
<circle cx="126.2" cy="82.1" r="1.0" fill="rgb(90,90,90)" opacity="0.39"/>
<circle cx="211.0" cy="194.5" r="2.0" fill="rgb(91,91,91)" opacity="0.43"/>
<circle cx="232.7" cy="46.2" r="1.5" fill="rgb(97,97,97)" opacity="0.25"/>
<circle cx="181.9" cy="99.4" r="2.2" fill="rgb(113,113,113)" opacity="0.19"/>
<circle cx="203.6" cy="108.3" r="1.1" fill="rgb(90,90,90)" opacity="0.17"/>
<circle cx="154.2" cy="164.5" r="1.3" fill="rgb(124,124,124)" opacity="0.31"/>
<circle cx="151.7" cy="35.0" r="2.1" fill="rgb(95,95,95)" opacity="0.20"/>
<circle cx="174.2" cy="111.0" r="1.5" fill="rgb(116,116,116)" opacity="0.27"/>
<circle cx="195.4" cy="146.9" r="1.6" fill="rgb(119,119,119)" opacity="0.33"/>
<circle cx="190.8" cy="126.0" r="2.0" fill="rgb(103,103,103)" opacity="0.36"/>
<circle cx="231.0" cy="75.1" r="1.0" fill="rgb(107,107,107)" opacity="0.22"/>
<circle cx="145.3" cy="187.7" r="2.4" fill="rgb(87,87,87)" opacity="0.29"/>
<circle cx="256.8" cy="162.6" r="1.8" fill="rgb(91,91,91)" opacity="0.26"/>
<circle cx="211.3" cy="41.2" r="1.4" fill="rgb(96,96,96)" opacity="0.24"/>
<circle cx="81.3" cy="159.8" r="2.5" fill="rgb(90,90,90)" opacity="0.37"/>
<circle cx="108.0" cy="165.9" r="2.1" fill="rgb(112,112,112)" opacity="0.34"/>
<circle cx="123.1" cy="167.7" r="1.5" fill="rgb(119,119,119)" opacity="0.31"/>
<circle cx="183.3" cy="63.5" r="1.9" fill="rgb(125,125,125)" opacity="0.18"/>
<circle cx="244.3" cy="118.7" r="1.6" fill="rgb(88,88,88)" opacity="0.43"/>
<circle cx="271.9" cy="128.4" r="2.5" fill="rgb(124,124,124)" opacity="0.42"/>
<circle cx="145.6" cy="165.1" r="2.0" fill="rgb(106,106,106)" opacity="0.37"/>
<circle cx="156.0" cy="137.9" r="1.1" fill="rgb(106,106,106)" opacity="0.23"/>
<circle cx="175.3" cy="35.7" r="1.4" fill="rgb(111,111,111)" opacity="0.41"/>
<circle cx="97.1" cy="90.6" r="1.6" fill="rgb(89,89,89)" opacity="0.39"/>
<circle cx="108.7" cy="191.6" r="1.6" fill="rgb(105,105,105)" opacity="0.27"/>
<circle cx="83.6" cy="119.0" r="2.6" fill="rgb(100,100,100)" opacity="0.40"/>
<circle cx="186.2" cy="56.5" r="1.8" fill="rgb(125,125,125)" opacity="0.39"/>
<circle cx="165.7" cy="180.8" r="1.9" fill="rgb(97,97,97)" opacity="0.23"/>
<circle cx="134.4" cy="140.9" r="1.5" fill="rgb(107,107,107)" opacity="0.19"/>
<circle cx="139.9" cy="167.5" r="2.0" fill="rgb(108,108,108)" opacity="0.43"/>
<circle cx="169.4" cy="44.6" r="1.6" fill="rgb(89,89,89)" opacity="0.43"/>
<circle cx="191.1" cy="121.1" r="1.9" fill="rgb(119,119,119)" opacity="0.39"/>
<circle cx="198.9" cy="85.9" r="2.2" fill="rgb(117,117,117)" opacity="0.22"/>
<circle cx="135.5" cy="201.6" r="2.2" fill="rgb(98,98,98)" opacity="0.19"/>
<circle cx="220.0" cy="156.6" r="1.9" fill="rgb(111,111,111)" opacity="0.20"/>
<circle cx="124.2" cy="152.2" r="1.1" fill="rgb(94,94,94)" opacity="0.33"/>
<circle cx="134.9" cy="181.6" r="2.1" fill="rgb(85,85,85)" opacity="0.18"/>
<circle cx="226.9" cy="105.9" r="1.8" fill="rgb(121,121,121)" opacity="0.37"/>
<circle cx="207.1" cy="109.0" r="1.7" fill="rgb(118,118,118)" opacity="0.26"/>
<circle cx="176.0" cy="175.1" r="2.4" fill="rgb(116,116,116)" opacity="0.17"/>
<circle cx="203.4" cy="35.1" r="2.1" fill="rgb(97,97,97)" opacity="0.31"/>
<circle cx="182.9" cy="106.1" r="1.4" fill="rgb(88,88,88)" opacity="0.17"/>
<circle cx="102.2" cy="149.8" r="1.9" fill="rgb(103,103,103)" opacity="0.39"/>
<circle cx="122.6" cy="45.0" r="2.0" fill="rgb(89,89,89)" opacity="0.36"/>
<circle cx="169.9" cy="157.0" r="2.4" fill="rgb(101,101,101)" opacity="0.17"/>
<circle cx="104.6" cy="111.5" r="2.6" fill="rgb(99,99,99)" opacity="0.42"/>
<circle cx="138.1" cy="206.2" r="2.0" fill="rgb(93,93,93)" opacity="0.33"/>
<circle cx="155.3" cy="91.9" r="1.8" fill="rgb(122,122,122)" opacity="0.43"/>
<circle cx="144.3" cy="41.2" r="2.1" fill="rgb(120,120,120)" opacity="0.16"/>
<circle cx="74.1" cy="147.2" r="2.5" fill="rgb(90,90,90)" opacity="0.44"/>
<circle cx="203.1" cy="67.3" r="1.7" fill="rgb(123,123,123)" opacity="0.44"/>
<circle cx="200.4" cy="141.3" r="1.3" fill="rgb(102,102,102)" opacity="0.34"/>
<circle cx="188.3" cy="121.3" r="1.8" fill="rgb(124,124,124)" opacity="0.32"/>
<circle cx="220.6" cy="118.5" r="2.4" fill="rgb(87,87,87)" opacity="0.45"/>
<circle cx="118.6" cy="45.6" r="1.1" fill="rgb(118,118,118)" opacity="0.36"/>
<circle cx="190.9" cy="171.6" r="2.0" fill="rgb(119,119,119)" opacity="0.36"/>
<circle cx="139.0" cy="66.4" r="2.3" fill="rgb(99,99,99)" opacity="0.29"/>
<circle cx="221.0" cy="211.3" r="2.5" fill="rgb(95,95,95)" opacity="0.22"/>
<circle cx="119.0" cy="160.1" r="2.0" fill="rgb(93,93,93)" opacity="0.40"/>
<circle cx="253.1" cy="59.6" r="2.2" fill="rgb(95,95,95)" opacity="0.40"/>
<circle cx="108.6" cy="100.0" r="1.6" fill="rgb(87,87,87)" opacity="0.20"/>
<circle cx="202.5" cy="139.3" r="1.6" fill="rgb(116,116,116)" opacity="0.45"/>
<circle cx="245.9" cy="62.3" r="2.5" fill="rgb(103,103,103)" opacity="0.20"/>
<circle cx="80.1" cy="124.7" r="2.0" fill="rgb(94,94,94)" opacity="0.21"/>
<circle cx="142.0" cy="147.3" r="1.6" fill="rgb(91,91,91)" opacity="0.28"/>
<circle cx="157.0" cy="47.5" r="1.9" fill="rgb(87,87,87)" opacity="0.36"/>
<circle cx="198.1" cy="218.0" r="1.4" fill="rgb(119,119,119)" opacity="0.34"/>
<circle cx="133.5" cy="94.6" r="1.1" fill="rgb(85,85,85)" opacity="0.30"/>
<circle cx="134.4" cy="132.5" r="1.2" fill="rgb(125,125,125)" opacity="0.30"/>
<circle cx="181.4" cy="112.1" r="2.5" fill="rgb(95,95,95)" opacity="0.26"/>
<circle cx="134.1" cy="124.1" r="1.8" fill="rgb(108,108,108)" opacity="0.25"/>
<circle cx="138.8" cy="179.1" r="1.4" fill="rgb(116,116,116)" opacity="0.23"/>
<circle cx="169.8" cy="184.0" r="1.3" fill="rgb(85,85,85)" opacity="0.38"/>
<circle cx="137.9" cy="55.6" r="2.2" fill="rgb(118,118,118)" opacity="0.26"/>
<circle cx="120.3" cy="138.6" r="1.8" fill="rgb(109,109,109)" opacity="0.34"/>
<circle cx="153.0" cy="76.0" r="1.3" fill="rgb(112,112,112)" opacity="0.21"/>
<circle cx="210.0" cy="168.9" r="1.0" fill="rgb(106,106,106)" opacity="0.45"/>
<circle cx="213.6" cy="216.2" r="2.0" fill="rgb(118,118,118)" opacity="0.26"/>
<circle cx="204.9" cy="184.7" r="1.2" fill="rgb(107,107,107)" opacity="0.43"/>
<circle cx="220.1" cy="221.2" r="1.6" fill="rgb(125,125,125)" opacity="0.33"/>
<circle cx="162.2" cy="230.0" r="1.4" fill="rgb(107,107,107)" opacity="0.40"/>
<circle cx="189.8" cy="229.4" r="1.3" fill="rgb(96,96,96)" opacity="0.21"/>
<circle cx="193.2" cy="168.3" r="2.3" fill="rgb(123,123,123)" opacity="0.38"/>
<circle cx="235.5" cy="104.9" r="2.3" fill="rgb(91,91,91)" opacity="0.29"/>
<circle cx="87.1" cy="175.0" r="2.6" fill="rgb(102,102,102)" opacity="0.31"/>
<circle cx="119.8" cy="88.0" r="1.9" fill="rgb(86,86,86)" opacity="0.38"/>
<circle cx="167.3" cy="124.0" r="1.4" fill="rgb(113,113,113)" opacity="0.36"/>
<circle cx="224.1" cy="39.9" r="1.7" fill="rgb(111,111,111)" opacity="0.44"/>
<circle cx="184.3" cy="142.4" r="2.5" fill="rgb(103,103,103)" opacity="0.28"/>
<circle cx="68.4" cy="133.7" r="2.2" fill="rgb(106,106,106)" opacity="0.19"/>
<circle cx="69.3" cy="113.2" r="1.2" fill="rgb(118,118,118)" opacity="0.28"/>
<circle cx="205.5" cy="35.1" r="1.8" fill="rgb(92,92,92)" opacity="0.33"/>
<circle cx="142.8" cy="52.2" r="2.0" fill="rgb(111,111,111)" opacity="0.34"/>
<circle cx="224.5" cy="149.1" r="2.5" fill="rgb(85,85,85)" opacity="0.24"/>
<circle cx="169.0" cy="36.5" r="2.3" fill="rgb(98,98,98)" opacity="0.34"/>
<circle cx="154.8" cy="184.0" r="2.0" fill="rgb(107,107,107)" opacity="0.29"/>
<circle cx="129.9" cy="58.0" r="2.2" fill="rgb(122,122,122)" opacity="0.42"/>
<circle cx="189.7" cy="158.9" r="2.5" fill="rgb(114,114,114)" opacity="0.30"/>
<circle cx="93.4" cy="81.1" r="1.3" fill="rgb(120,120,120)" opacity="0.40"/>
<circle cx="98.0" cy="198.2" r="1.5" fill="rgb(108,108,108)" opacity="0.36"/>
<circle cx="112.9" cy="82.8" r="1.2" fill="rgb(112,112,112)" opacity="0.35"/>
<circle cx="158.2" cy="210.3" r="2.1" fill="rgb(122,122,122)" opacity="0.20"/>
<circle cx="164.4" cy="104.0" r="2.4" fill="rgb(90,90,90)" opacity="0.38"/>
<circle cx="71.9" cy="96.4" r="1.4" fill="rgb(94,94,94)" opacity="0.23"/>
<circle cx="182.8" cy="120.6" r="2.3" fill="rgb(106,106,106)" opacity="0.17"/>
<circle cx="215.8" cy="97.7" r="2.2" fill="rgb(85,85,85)" opacity="0.16"/>
<circle cx="179.1" cy="135.6" r="1.2" fill="rgb(123,123,123)" opacity="0.33"/>
<circle cx="129.6" cy="142.8" r="1.5" fill="rgb(96,96,96)" opacity="0.22"/>
<circle cx="191.2" cy="105.7" r="1.8" fill="rgb(114,114,114)" opacity="0.20"/>
<circle cx="249.4" cy="101.8" r="2.0" fill="rgb(89,89,89)" opacity="0.18"/>
<circle cx="203.3" cy="46.8" r="2.4" fill="rgb(94,94,94)" opacity="0.24"/>
<circle cx="186.1" cy="216.0" r="1.6" fill="rgb(125,125,125)" opacity="0.17"/>
<circle cx="108.9" cy="48.8" r="1.2" fill="rgb(108,108,108)" opacity="0.28"/>
<circle cx="135.0" cy="60.3" r="2.0" fill="rgb(124,124,124)" opacity="0.18"/>
<circle cx="258.7" cy="93.2" r="1.3" fill="rgb(103,103,103)" opacity="0.28"/>
<circle cx="207.0" cy="95.4" r="2.4" fill="rgb(100,100,100)" opacity="0.21"/>
<circle cx="123.3" cy="100.9" r="1.6" fill="rgb(105,105,105)" opacity="0.40"/>
<circle cx="235.6" cy="79.2" r="2.2" fill="rgb(93,93,93)" opacity="0.19"/>
<circle cx="188.5" cy="125.0" r="2.3" fill="rgb(100,100,100)" opacity="0.21"/>
<circle cx="164.5" cy="228.1" r="2.1" fill="rgb(114,114,114)" opacity="0.16"/>
<circle cx="159.5" cy="179.4" r="2.2" fill="rgb(124,124,124)" opacity="0.17"/>
<circle cx="208.3" cy="58.1" r="1.7" fill="rgb(95,95,95)" opacity="0.30"/>
<circle cx="169.4" cy="76.3" r="2.5" fill="rgb(116,116,116)" opacity="0.39"/>
<circle cx="85.0" cy="159.5" r="1.8" fill="rgb(111,111,111)" opacity="0.34"/>
<circle cx="180.7" cy="34.0" r="2.4" fill="rgb(107,107,107)" opacity="0.21"/>
<circle cx="170.6" cy="205.2" r="2.6" fill="rgb(98,98,98)" opacity="0.27"/>
<circle cx="95.5" cy="65.5" r="2.2" fill="rgb(112,112,112)" opacity="0.24"/>
<circle cx="98.8" cy="56.4" r="2.2" fill="rgb(124,124,124)" opacity="0.24"/>
<circle cx="183.8" cy="216.2" r="1.6" fill="rgb(103,103,103)" opacity="0.36"/>
<circle cx="162.1" cy="209.0" r="1.1" fill="rgb(122,122,122)" opacity="0.35"/>
<circle cx="186.1" cy="104.0" r="1.2" fill="rgb(104,104,104)" opacity="0.23"/>
<circle cx="128.5" cy="110.7" r="2.5" fill="rgb(123,123,123)" opacity="0.42"/>
<circle cx="214.8" cy="213.1" r="2.6" fill="rgb(116,116,116)" opacity="0.32"/>
<circle cx="249.6" cy="191.2" r="1.0" fill="rgb(90,90,90)" opacity="0.42"/>
<circle cx="157.6" cy="37.5" r="1.6" fill="rgb(87,87,87)" opacity="0.24"/>
<circle cx="71.7" cy="142.3" r="1.8" fill="rgb(103,103,103)" opacity="0.44"/>
<circle cx="187.5" cy="33.9" r="1.7" fill="rgb(102,102,102)" opacity="0.30"/>
<circle cx="104.5" cy="200.4" r="2.4" fill="rgb(95,95,95)" opacity="0.28"/>
<circle cx="276.5" cy="120.4" r="1.5" fill="rgb(109,109,109)" opacity="0.30"/>
<circle cx="170.2" cy="138.4" r="1.1" fill="rgb(123,123,123)" opacity="0.42"/>
<circle cx="81.1" cy="114.0" r="2.3" fill="rgb(121,121,121)" opacity="0.20"/>
<circle cx="115.1" cy="213.1" r="2.3" fill="rgb(85,85,85)" opacity="0.25"/>
<circle cx="248.9" cy="189.1" r="1.1" fill="rgb(108,108,108)" opacity="0.27"/>
<circle cx="154.5" cy="148.8" r="2.1" fill="rgb(92,92,92)" opacity="0.21"/>
<circle cx="266.6" cy="94.9" r="1.2" fill="rgb(96,96,96)" opacity="0.41"/>
<circle cx="214.7" cy="158.2" r="1.4" fill="rgb(105,105,105)" opacity="0.45"/>
<circle cx="108.5" cy="62.2" r="1.2" fill="rgb(109,109,109)" opacity="0.18"/>
<circle cx="127.2" cy="100.8" r="2.1" fill="rgb(124,124,124)" opacity="0.27"/>
<circle cx="95.9" cy="168.8" r="2.3" fill="rgb(99,99,99)" opacity="0.20"/>
<circle cx="202.9" cy="197.5" r="1.2" fill="rgb(89,89,89)" opacity="0.22"/>
<circle cx="249.5" cy="121.3" r="1.9" fill="rgb(105,105,105)" opacity="0.22"/>
<circle cx="186.5" cy="158.8" r="1.3" fill="rgb(85,85,85)" opacity="0.21"/>
<circle cx="122.8" cy="190.9" r="1.2" fill="rgb(119,119,119)" opacity="0.37"/>
<circle cx="182.5" cy="227.1" r="2.3" fill="rgb(118,118,118)" opacity="0.45"/>
<circle cx="116.5" cy="106.6" r="1.7" fill="rgb(85,85,85)" opacity="0.42"/>
<circle cx="110.7" cy="101.6" r="2.5" fill="rgb(90,90,90)" opacity="0.38"/>
<circle cx="185.5" cy="51.2" r="1.8" fill="rgb(110,110,110)" opacity="0.44"/>
<circle cx="84.1" cy="101.7" r="1.1" fill="rgb(88,88,88)" opacity="0.22"/>
<circle cx="189.9" cy="171.0" r="1.8" fill="rgb(112,112,112)" opacity="0.24"/>
<circle cx="168.6" cy="90.7" r="1.8" fill="rgb(120,120,120)" opacity="0.21"/>
<circle cx="172.9" cy="234.1" r="2.4" fill="rgb(104,104,104)" opacity="0.32"/>
<circle cx="166.5" cy="166.7" r="2.4" fill="rgb(93,93,93)" opacity="0.29"/>
<circle cx="267.0" cy="117.4" r="1.8" fill="rgb(86,86,86)" opacity="0.29"/>
<circle cx="64.9" cy="138.3" r="1.8" fill="rgb(85,85,85)" opacity="0.33"/>
<circle cx="120.7" cy="129.1" r="2.1" fill="rgb(106,106,106)" opacity="0.29"/>
<circle cx="162.0" cy="25.0" r="2.0" fill="rgb(107,107,107)" opacity="0.35"/>
<circle cx="249.0" cy="118.9" r="1.7" fill="rgb(102,102,102)" opacity="0.30"/>
<circle cx="109.2" cy="157.4" r="1.9" fill="rgb(116,116,116)" opacity="0.34"/>
<circle cx="226.1" cy="186.4" r="1.9" fill="rgb(94,94,94)" opacity="0.44"/>
<circle cx="97.8" cy="122.9" r="1.5" fill="rgb(122,122,122)" opacity="0.40"/>
<circle cx="211.8" cy="155.3" r="1.9" fill="rgb(97,97,97)" opacity="0.37"/>
<circle cx="142.1" cy="192.6" r="1.4" fill="rgb(115,115,115)" opacity="0.36"/>
<circle cx="146.9" cy="164.6" r="2.1" fill="rgb(87,87,87)" opacity="0.18"/>
<circle cx="236.8" cy="181.7" r="1.9" fill="rgb(120,120,120)" opacity="0.24"/>
<circle cx="154.8" cy="71.6" r="1.9" fill="rgb(123,123,123)" opacity="0.38"/>
<circle cx="84.3" cy="183.6" r="2.4" fill="rgb(97,97,97)" opacity="0.28"/>
<circle cx="152.0" cy="223.8" r="2.1" fill="rgb(87,87,87)" opacity="0.18"/>
<circle cx="132.5" cy="187.8" r="1.0" fill="rgb(105,105,105)" opacity="0.20"/>
<circle cx="209.3" cy="82.8" r="1.9" fill="rgb(110,110,110)" opacity="0.34"/>
<circle cx="132.0" cy="108.5" r="1.2" fill="rgb(106,106,106)" opacity="0.32"/>
<circle cx="94.6" cy="81.6" r="1.0" fill="rgb(101,101,101)" opacity="0.32"/>
<circle cx="120.0" cy="190.3" r="1.1" fill="rgb(120,120,120)" opacity="0.42"/>
<circle cx="174.1" cy="233.3" r="2.4" fill="rgb(97,97,97)" opacity="0.36"/>
<circle cx="125.2" cy="209.2" r="2.3" fill="rgb(102,102,102)" opacity="0.22"/>
<circle cx="149.3" cy="186.5" r="2.6" fill="rgb(92,92,92)" opacity="0.37"/>
<circle cx="157.8" cy="92.8" r="1.2" fill="rgb(92,92,92)" opacity="0.32"/>
<circle cx="177.6" cy="100.3" r="1.0" fill="rgb(85,85,85)" opacity="0.38"/>
<circle cx="158.8" cy="65.9" r="1.7" fill="rgb(88,88,88)" opacity="0.16"/>
<circle cx="138.7" cy="44.0" r="1.8" fill="rgb(91,91,91)" opacity="0.38"/>
<circle cx="208.3" cy="85.8" r="2.1" fill="rgb(120,120,120)" opacity="0.22"/>
<circle cx="96.9" cy="159.4" r="2.5" fill="rgb(120,120,120)" opacity="0.35"/>
<circle cx="75.7" cy="122.0" r="1.8" fill="rgb(96,96,96)" opacity="0.39"/>
<circle cx="215.0" cy="206.4" r="2.2" fill="rgb(100,100,100)" opacity="0.22"/>
<circle cx="88.7" cy="70.8" r="2.0" fill="rgb(110,110,110)" opacity="0.44"/>
<circle cx="207.6" cy="147.9" r="2.5" fill="rgb(100,100,100)" opacity="0.44"/>
<circle cx="140.0" cy="187.4" r="2.6" fill="rgb(103,103,103)" opacity="0.41"/>
<circle cx="104.9" cy="129.1" r="2.3" fill="rgb(107,107,107)" opacity="0.22"/>
<circle cx="79.5" cy="147.3" r="2.5" fill="rgb(90,90,90)" opacity="0.28"/>
<circle cx="187.2" cy="81.5" r="2.5" fill="rgb(92,92,92)" opacity="0.25"/>
<circle cx="195.0" cy="126.8" r="1.3" fill="rgb(104,104,104)" opacity="0.21"/>
<circle cx="97.8" cy="110.4" r="2.1" fill="rgb(87,87,87)" opacity="0.25"/>
<circle cx="229.2" cy="162.7" r="1.7" fill="rgb(122,122,122)" opacity="0.22"/>
<circle cx="148.1" cy="199.7" r="1.5" fill="rgb(89,89,89)" opacity="0.35"/>
<circle cx="184.5" cy="39.5" r="2.3" fill="rgb(121,121,121)" opacity="0.16"/>
<circle cx="114.6" cy="165.2" r="2.2" fill="rgb(121,121,121)" opacity="0.22"/>
<circle cx="239.1" cy="69.6" r="1.9" fill="rgb(94,94,94)" opacity="0.29"/>
<circle cx="108.3" cy="47.9" r="1.3" fill="rgb(117,117,117)" opacity="0.37"/>
<circle cx="141.2" cy="132.6" r="1.8" fill="rgb(110,110,110)" opacity="0.24"/>
<circle cx="139.3" cy="100.6" r="1.1" fill="rgb(108,108,108)" opacity="0.20"/>
<circle cx="112.8" cy="177.5" r="2.2" fill="rgb(95,95,95)" opacity="0.22"/>
<circle cx="258.1" cy="124.6" r="1.6" fill="rgb(91,91,91)" opacity="0.24"/>
<circle cx="185.7" cy="205.9" r="2.2" fill="rgb(112,112,112)" opacity="0.21"/>
<circle cx="130.2" cy="60.5" r="1.2" fill="rgb(109,109,109)" opacity="0.22"/>
<circle cx="117.4" cy="213.0" r="2.2" fill="rgb(110,110,110)" opacity="0.25"/>
<circle cx="169.3" cy="75.6" r="1.4" fill="rgb(95,95,95)" opacity="0.30"/>
<circle cx="241.7" cy="170.1" r="1.4" fill="rgb(121,121,121)" opacity="0.17"/>
<circle cx="177.3" cy="120.9" r="1.1" fill="rgb(117,117,117)" opacity="0.36"/>
<circle cx="167.9" cy="31.3" r="1.0" fill="rgb(106,106,106)" opacity="0.17"/>
<circle cx="146.7" cy="155.2" r="2.1" fill="rgb(97,97,97)" opacity="0.39"/>
<circle cx="229.6" cy="149.5" r="2.0" fill="rgb(101,101,101)" opacity="0.23"/>
<circle cx="107.8" cy="76.2" r="1.3" fill="rgb(125,125,125)" opacity="0.42"/>
<circle cx="167.0" cy="230.2" r="1.0" fill="rgb(113,113,113)" opacity="0.26"/>
<circle cx="178.6" cy="67.0" r="2.5" fill="rgb(94,94,94)" opacity="0.38"/>
<circle cx="233.5" cy="150.1" r="1.7" fill="rgb(111,111,111)" opacity="0.16"/>
<circle cx="124.2" cy="210.5" r="1.1" fill="rgb(108,108,108)" opacity="0.17"/>
<circle cx="113.8" cy="147.0" r="2.3" fill="rgb(87,87,87)" opacity="0.17"/>
<circle cx="173.7" cy="214.7" r="2.0" fill="rgb(95,95,95)" opacity="0.23"/>
<circle cx="102.9" cy="168.7" r="1.3" fill="rgb(92,92,92)" opacity="0.32"/>
<circle cx="230.0" cy="216.1" r="1.1" fill="rgb(106,106,106)" opacity="0.23"/>
<circle cx="107.5" cy="147.2" r="1.9" fill="rgb(90,90,90)" opacity="0.36"/>
<circle cx="140.2" cy="79.0" r="1.4" fill="rgb(116,116,116)" opacity="0.43"/>
<circle cx="161.6" cy="144.2" r="1.4" fill="rgb(106,106,106)" opacity="0.25"/>
<circle cx="109.1" cy="213.3" r="2.1" fill="rgb(98,98,98)" opacity="0.26"/>
<circle cx="230.7" cy="164.6" r="1.7" fill="rgb(101,101,101)" opacity="0.16"/>
<circle cx="227.2" cy="169.1" r="2.5" fill="rgb(90,90,90)" opacity="0.24"/>
<circle cx="262.1" cy="135.4" r="2.5" fill="rgb(121,121,121)" opacity="0.23"/>
<circle cx="76.5" cy="176.7" r="2.1" fill="rgb(107,107,107)" opacity="0.17"/>
<circle cx="256.1" cy="79.8" r="1.5" fill="rgb(85,85,85)" opacity="0.32"/>
<circle cx="110.4" cy="147.3" r="1.6" fill="rgb(123,123,123)" opacity="0.18"/>
<circle cx="197.2" cy="147.4" r="1.1" fill="rgb(109,109,109)" opacity="0.23"/>
<circle cx="120.2" cy="81.3" r="1.3" fill="rgb(97,97,97)" opacity="0.23"/>
<circle cx="142.4" cy="64.9" r="1.9" fill="rgb(92,92,92)" opacity="0.44"/>
<circle cx="102.8" cy="135.9" r="1.4" fill="rgb(102,102,102)" opacity="0.23"/>
<circle cx="198.6" cy="112.6" r="2.5" fill="rgb(116,116,116)" opacity="0.42"/>
<circle cx="191.3" cy="104.6" r="2.2" fill="rgb(112,112,112)" opacity="0.15"/>
<circle cx="260.3" cy="90.8" r="1.2" fill="rgb(115,115,115)" opacity="0.16"/>
<circle cx="180.6" cy="226.2" r="1.2" fill="rgb(103,103,103)" opacity="0.22"/>
<circle cx="229.2" cy="206.9" r="2.0" fill="rgb(99,99,99)" opacity="0.19"/>
<circle cx="129.7" cy="215.8" r="2.3" fill="rgb(106,106,106)" opacity="0.17"/>
<circle cx="229.6" cy="82.4" r="1.7" fill="rgb(112,112,112)" opacity="0.26"/>
<circle cx="145.3" cy="130.4" r="2.0" fill="rgb(122,122,122)" opacity="0.40"/>
<circle cx="227.1" cy="208.7" r="2.1" fill="rgb(93,93,93)" opacity="0.16"/>
<circle cx="151.5" cy="38.9" r="2.3" fill="rgb(117,117,117)" opacity="0.37"/>
<circle cx="144.6" cy="79.0" r="1.3" fill="rgb(113,113,113)" opacity="0.33"/>
<circle cx="122.1" cy="121.5" r="2.2" fill="rgb(112,112,112)" opacity="0.24"/>
<circle cx="170.0" cy="78.8" r="1.7" fill="rgb(115,115,115)" opacity="0.18"/>
<circle cx="109.9" cy="132.8" r="2.4" fill="rgb(113,113,113)" opacity="0.39"/>
<circle cx="200.0" cy="147.3" r="2.2" fill="rgb(99,99,99)" opacity="0.36"/>
<circle cx="256.1" cy="87.3" r="1.7" fill="rgb(96,96,96)" opacity="0.41"/>
<circle cx="194.2" cy="181.5" r="1.4" fill="rgb(100,100,100)" opacity="0.32"/>
<circle cx="263.3" cy="87.6" r="1.3" fill="rgb(95,95,95)" opacity="0.20"/>
<circle cx="223.4" cy="195.3" r="1.9" fill="rgb(86,86,86)" opacity="0.40"/>
<circle cx="169.7" cy="181.7" r="1.4" fill="rgb(86,86,86)" opacity="0.24"/>
<circle cx="254.7" cy="86.3" r="1.1" fill="rgb(97,97,97)" opacity="0.20"/>
<circle cx="156.0" cy="67.2" r="1.3" fill="rgb(121,121,121)" opacity="0.29"/>
<circle cx="93.1" cy="168.2" r="2.2" fill="rgb(122,122,122)" opacity="0.36"/>
<circle cx="149.7" cy="109.9" r="1.0" fill="rgb(108,108,108)" opacity="0.45"/>
<circle cx="234.1" cy="120.6" r="1.8" fill="rgb(117,117,117)" opacity="0.25"/>
<circle cx="202.8" cy="218.0" r="2.1" fill="rgb(91,91,91)" opacity="0.25"/>
<circle cx="175.8" cy="58.7" r="1.8" fill="rgb(105,105,105)" opacity="0.27"/>
<circle cx="198.9" cy="168.4" r="2.1" fill="rgb(88,88,88)" opacity="0.31"/>
<circle cx="238.6" cy="154.9" r="1.4" fill="rgb(86,86,86)" opacity="0.20"/>
<circle cx="164.2" cy="44.7" r="1.7" fill="rgb(103,103,103)" opacity="0.44"/>
<circle cx="157.8" cy="166.4" r="1.2" fill="rgb(91,91,91)" opacity="0.36"/>
<circle cx="89.3" cy="141.2" r="1.3" fill="rgb(103,103,103)" opacity="0.41"/>
<circle cx="108.0" cy="157.8" r="2.3" fill="rgb(89,89,89)" opacity="0.21"/>
<circle cx="121.8" cy="208.7" r="1.4" fill="rgb(98,98,98)" opacity="0.15"/>
<circle cx="261.3" cy="144.1" r="2.3" fill="rgb(93,93,93)" opacity="0.19"/>
<circle cx="221.0" cy="72.2" r="1.6" fill="rgb(125,125,125)" opacity="0.31"/>
<circle cx="160.4" cy="180.4" r="1.0" fill="rgb(124,124,124)" opacity="0.31"/>
<circle cx="117.4" cy="36.9" r="1.9" fill="rgb(103,103,103)" opacity="0.32"/>
<circle cx="247.3" cy="100.1" r="1.5" fill="rgb(97,97,97)" opacity="0.20"/>
<circle cx="198.8" cy="128.5" r="1.2" fill="rgb(109,109,109)" opacity="0.38"/>
<circle cx="255.1" cy="123.3" r="1.7" fill="rgb(98,98,98)" opacity="0.29"/>
<circle cx="204.5" cy="164.6" r="1.6" fill="rgb(96,96,96)" opacity="0.33"/>
<circle cx="188.3" cy="127.6" r="2.3" fill="rgb(107,107,107)" opacity="0.17"/>
<circle cx="162.1" cy="121.5" r="1.3" fill="rgb(117,117,117)" opacity="0.32"/>
<circle cx="177.9" cy="70.4" r="1.3" fill="rgb(94,94,94)" opacity="0.30"/>
<circle cx="152.9" cy="34.7" r="2.4" fill="rgb(121,121,121)" opacity="0.44"/>
<circle cx="120.9" cy="175.6" r="2.5" fill="rgb(87,87,87)" opacity="0.19"/>
<circle cx="123.3" cy="171.2" r="1.8" fill="rgb(100,100,100)" opacity="0.35"/>
<circle cx="270.4" cy="121.8" r="2.3" fill="rgb(92,92,92)" opacity="0.42"/>
<circle cx="209.9" cy="124.6" r="2.3" fill="rgb(91,91,91)" opacity="0.16"/>
<circle cx="128.1" cy="65.2" r="1.4" fill="rgb(88,88,88)" opacity="0.23"/>
<circle cx="240.2" cy="60.9" r="1.8" fill="rgb(89,89,89)" opacity="0.43"/>
<circle cx="259.5" cy="124.2" r="1.2" fill="rgb(88,88,88)" opacity="0.43"/>
<circle cx="98.9" cy="183.0" r="2.0" fill="rgb(99,99,99)" opacity="0.21"/>
<circle cx="241.1" cy="187.3" r="1.6" fill="rgb(106,106,106)" opacity="0.39"/>
<circle cx="102.7" cy="182.3" r="1.3" fill="rgb(110,110,110)" opacity="0.15"/>
<circle cx="236.5" cy="104.5" r="2.3" fill="rgb(89,89,89)" opacity="0.31"/>
<circle cx="200.6" cy="172.8" r="1.1" fill="rgb(114,114,114)" opacity="0.16"/>
<circle cx="126.9" cy="151.7" r="1.9" fill="rgb(122,122,122)" opacity="0.24"/>
<circle cx="235.0" cy="128.1" r="2.4" fill="rgb(98,98,98)" opacity="0.31"/>
<circle cx="82.2" cy="112.5" r="1.6" fill="rgb(121,121,121)" opacity="0.37"/>
<circle cx="150.7" cy="107.5" r="2.5" fill="rgb(102,102,102)" opacity="0.43"/>
<circle cx="225.3" cy="179.0" r="1.6" fill="rgb(110,110,110)" opacity="0.18"/>
<circle cx="104.7" cy="140.4" r="1.4" fill="rgb(85,85,85)" opacity="0.28"/>
<circle cx="177.5" cy="197.1" r="2.0" fill="rgb(125,125,125)" opacity="0.33"/>
<circle cx="261.3" cy="150.0" r="2.4" fill="rgb(122,122,122)" opacity="0.20"/>
<circle cx="235.6" cy="186.2" r="1.4" fill="rgb(109,109,109)" opacity="0.19"/>
<circle cx="91.6" cy="148.5" r="2.4" fill="rgb(90,90,90)" opacity="0.38"/>
<circle cx="198.0" cy="136.8" r="1.8" fill="rgb(90,90,90)" opacity="0.36"/>
<circle cx="108.2" cy="95.9" r="2.1" fill="rgb(113,113,113)" opacity="0.29"/>
<circle cx="208.4" cy="219.1" r="2.5" fill="rgb(99,99,99)" opacity="0.43"/>
<circle cx="124.7" cy="187.0" r="2.1" fill="rgb(93,93,93)" opacity="0.19"/>
<circle cx="176.0" cy="228.7" r="1.1" fill="rgb(125,125,125)" opacity="0.23"/>
<circle cx="82.2" cy="72.9" r="2.3" fill="rgb(90,90,90)" opacity="0.41"/>
<circle cx="78.5" cy="135.3" r="1.8" fill="rgb(124,124,124)" opacity="0.24"/>
<circle cx="133.1" cy="109.3" r="1.3" fill="rgb(114,114,114)" opacity="0.35"/>
<circle cx="183.1" cy="68.7" r="2.1" fill="rgb(116,116,116)" opacity="0.20"/>
<circle cx="91.5" cy="138.4" r="1.8" fill="rgb(88,88,88)" opacity="0.34"/>
<circle cx="92.7" cy="121.7" r="1.2" fill="rgb(100,100,100)" opacity="0.32"/>
<circle cx="146.0" cy="104.0" r="1.4" fill="rgb(104,104,104)" opacity="0.39"/>
<circle cx="86.9" cy="105.7" r="1.4" fill="rgb(86,86,86)" opacity="0.19"/>
<circle cx="102.1" cy="155.5" r="1.2" fill="rgb(102,102,102)" opacity="0.45"/>
<circle cx="194.5" cy="209.5" r="2.0" fill="rgb(86,86,86)" opacity="0.31"/>
<circle cx="196.2" cy="138.0" r="1.5" fill="rgb(96,96,96)" opacity="0.18"/>
<circle cx="192.8" cy="221.9" r="2.0" fill="rgb(85,85,85)" opacity="0.33"/>
<circle cx="132.1" cy="35.4" r="1.8" fill="rgb(117,117,117)" opacity="0.33"/>
<circle cx="236.8" cy="181.8" r="1.8" fill="rgb(121,121,121)" opacity="0.25"/>
<circle cx="193.7" cy="70.1" r="1.4" fill="rgb(92,92,92)" opacity="0.41"/>
<circle cx="92.5" cy="168.5" r="2.5" fill="rgb(122,122,122)" opacity="0.31"/>
<circle cx="79.4" cy="173.4" r="2.2" fill="rgb(121,121,121)" opacity="0.30"/>
<circle cx="159.2" cy="207.6" r="1.0" fill="rgb(119,119,119)" opacity="0.27"/>
<circle cx="160.8" cy="177.5" r="2.0" fill="rgb(115,115,115)" opacity="0.35"/>
<circle cx="186.9" cy="204.1" r="1.9" fill="rgb(122,122,122)" opacity="0.39"/>
<circle cx="132.6" cy="60.0" r="2.6" fill="rgb(95,95,95)" opacity="0.44"/>
<circle cx="124.8" cy="116.3" r="1.3" fill="rgb(87,87,87)" opacity="0.21"/>
<circle cx="91.6" cy="64.1" r="1.4" fill="rgb(97,97,97)" opacity="0.33"/>
<circle cx="249.3" cy="74.6" r="2.1" fill="rgb(125,125,125)" opacity="0.32"/>
<circle cx="233.0" cy="62.6" r="1.3" fill="rgb(118,118,118)" opacity="0.17"/>
<circle cx="264.8" cy="82.1" r="1.2" fill="rgb(99,99,99)" opacity="0.39"/>
<circle cx="174.8" cy="103.3" r="2.1" fill="rgb(100,100,100)" opacity="0.37"/>
<circle cx="212.1" cy="81.6" r="2.3" fill="rgb(114,114,114)" opacity="0.37"/>
<circle cx="104.5" cy="174.5" r="1.9" fill="rgb(100,100,100)" opacity="0.25"/>
<circle cx="91.3" cy="128.2" r="1.8" fill="rgb(118,118,118)" opacity="0.33"/>
<circle cx="85.7" cy="108.3" r="1.6" fill="rgb(104,104,104)" opacity="0.23"/>
<circle cx="75.8" cy="98.2" r="2.1" fill="rgb(118,118,118)" opacity="0.19"/>
<circle cx="252.7" cy="150.1" r="1.4" fill="rgb(106,106,106)" opacity="0.24"/>
<circle cx="169.8" cy="68.7" r="1.0" fill="rgb(97,97,97)" opacity="0.20"/>
<circle cx="164.9" cy="33.1" r="2.2" fill="rgb(103,103,103)" opacity="0.21"/>
<circle cx="168.1" cy="128.3" r="1.4" fill="rgb(117,117,117)" opacity="0.22"/>
<circle cx="138.8" cy="166.8" r="1.5" fill="rgb(95,95,95)" opacity="0.38"/>
<circle cx="76.4" cy="174.6" r="2.5" fill="rgb(88,88,88)" opacity="0.37"/>
<circle cx="215.6" cy="117.6" r="1.9" fill="rgb(111,111,111)" opacity="0.17"/>
<circle cx="150.8" cy="131.7" r="2.5" fill="rgb(106,106,106)" opacity="0.22"/>
<circle cx="272.4" cy="155.2" r="1.6" fill="rgb(110,110,110)" opacity="0.43"/>
<circle cx="254.2" cy="145.6" r="1.4" fill="rgb(119,119,119)" opacity="0.21"/>
<circle cx="182.9" cy="122.1" r="2.2" fill="rgb(106,106,106)" opacity="0.22"/>
<circle cx="156.5" cy="161.2" r="2.4" fill="rgb(105,105,105)" opacity="0.27"/>
<circle cx="86.2" cy="192.9" r="1.7" fill="rgb(110,110,110)" opacity="0.19"/>
<circle cx="74.1" cy="112.7" r="2.4" fill="rgb(102,102,102)" opacity="0.39"/>
<circle cx="187.3" cy="223.3" r="2.4" fill="rgb(89,89,89)" opacity="0.17"/>
<circle cx="200.6" cy="89.0" r="2.5" fill="rgb(85,85,85)" opacity="0.16"/>
<circle cx="208.8" cy="70.9" r="1.5" fill="rgb(119,119,119)" opacity="0.44"/>
<circle cx="266.1" cy="144.9" r="1.4" fill="rgb(98,98,98)" opacity="0.31"/>
<circle cx="151.6" cy="195.9" r="2.0" fill="rgb(87,87,87)" opacity="0.18"/>
<circle cx="209.2" cy="202.8" r="2.1" fill="rgb(120,120,120)" opacity="0.25"/>
<circle cx="228.3" cy="152.9" r="1.2" fill="rgb(113,113,113)" opacity="0.18"/>
<circle cx="170.8" cy="180.3" r="1.0" fill="rgb(101,101,101)" opacity="0.22"/>
<circle cx="177.3" cy="197.2" r="2.4" fill="rgb(115,115,115)" opacity="0.38"/>
<circle cx="214.4" cy="71.1" r="1.0" fill="rgb(85,85,85)" opacity="0.28"/>
<circle cx="151.9" cy="172.2" r="1.6" fill="rgb(104,104,104)" opacity="0.19"/>
<circle cx="188.1" cy="100.6" r="1.9" fill="rgb(101,101,101)" opacity="0.33"/>
<circle cx="87.2" cy="96.2" r="2.4" fill="rgb(111,111,111)" opacity="0.21"/>
<circle cx="214.5" cy="213.8" r="1.2" fill="rgb(112,112,112)" opacity="0.31"/>
<circle cx="214.2" cy="217.0" r="2.6" fill="rgb(123,123,123)" opacity="0.37"/>
<circle cx="97.7" cy="55.3" r="1.7" fill="rgb(107,107,107)" opacity="0.21"/>
<circle cx="127.5" cy="88.3" r="1.6" fill="rgb(125,125,125)" opacity="0.27"/>
<circle cx="135.1" cy="42.5" r="1.0" fill="rgb(85,85,85)" opacity="0.35"/>
<circle cx="171.5" cy="125.3" r="2.2" fill="rgb(89,89,89)" opacity="0.24"/>
<circle cx="199.5" cy="223.3" r="1.4" fill="rgb(111,111,111)" opacity="0.16"/>
<circle cx="192.0" cy="93.9" r="2.3" fill="rgb(90,90,90)" opacity="0.18"/>
<circle cx="191.4" cy="96.2" r="1.8" fill="rgb(123,123,123)" opacity="0.25"/>
</g>
<g filter="url(#blurS)">
<circle cx="196.8" cy="178.7" r="1.2" fill="rgb(157,157,157)" opacity="0.26"/>
<circle cx="163.3" cy="221.6" r="1.0" fill="rgb(96,96,96)" opacity="0.70"/>
<circle cx="88.2" cy="120.6" r="0.6" fill="rgb(138,138,138)" opacity="0.52"/>
<circle cx="186.3" cy="23.5" r="0.6" fill="rgb(142,142,142)" opacity="0.39"/>
<circle cx="259.3" cy="183.8" r="0.6" fill="rgb(99,99,99)" opacity="0.32"/>
<circle cx="195.6" cy="47.7" r="0.5" fill="rgb(90,90,90)" opacity="0.35"/>
<circle cx="249.9" cy="82.3" r="0.6" fill="rgb(159,159,159)" opacity="0.69"/>
<circle cx="197.4" cy="59.4" r="1.0" fill="rgb(115,115,115)" opacity="0.73"/>
<circle cx="254.5" cy="84.3" r="0.7" fill="rgb(143,143,143)" opacity="0.33"/>
<circle cx="128.3" cy="149.2" r="0.5" fill="rgb(166,166,166)" opacity="0.59"/>
<circle cx="136.1" cy="86.7" r="1.2" fill="rgb(129,129,129)" opacity="0.49"/>
<circle cx="131.4" cy="123.2" r="1.0" fill="rgb(112,112,112)" opacity="0.28"/>
<circle cx="223.8" cy="200.7" r="0.5" fill="rgb(160,160,160)" opacity="0.64"/>
<circle cx="142.1" cy="143.9" r="0.5" fill="rgb(147,147,147)" opacity="0.27"/>
<circle cx="106.0" cy="181.7" r="1.2" fill="rgb(149,149,149)" opacity="0.42"/>
<circle cx="139.7" cy="132.5" r="1.2" fill="rgb(149,149,149)" opacity="0.30"/>
<circle cx="223.5" cy="190.5" r="1.2" fill="rgb(127,127,127)" opacity="0.27"/>
<circle cx="136.7" cy="150.8" r="0.6" fill="rgb(133,133,133)" opacity="0.39"/>
<circle cx="213.8" cy="40.3" r="1.0" fill="rgb(130,130,130)" opacity="0.40"/>
<circle cx="234.2" cy="154.2" r="1.0" fill="rgb(129,129,129)" opacity="0.75"/>
<circle cx="274.3" cy="134.3" r="0.8" fill="rgb(94,94,94)" opacity="0.37"/>
<circle cx="190.6" cy="196.7" r="0.8" fill="rgb(143,143,143)" opacity="0.32"/>
<circle cx="272.6" cy="156.7" r="1.2" fill="rgb(153,153,153)" opacity="0.42"/>
<circle cx="184.2" cy="49.0" r="1.2" fill="rgb(142,142,142)" opacity="0.30"/>
<circle cx="156.7" cy="52.5" r="1.2" fill="rgb(143,143,143)" opacity="0.40"/>
<circle cx="160.7" cy="124.7" r="1.0" fill="rgb(130,130,130)" opacity="0.49"/>
<circle cx="126.1" cy="106.7" r="0.6" fill="rgb(104,104,104)" opacity="0.44"/>
<circle cx="197.6" cy="127.1" r="0.7" fill="rgb(113,113,113)" opacity="0.29"/>
<circle cx="122.1" cy="187.3" r="1.2" fill="rgb(154,154,154)" opacity="0.43"/>
<circle cx="231.5" cy="185.8" r="1.0" fill="rgb(165,165,165)" opacity="0.58"/>
<circle cx="225.9" cy="98.1" r="1.0" fill="rgb(125,125,125)" opacity="0.67"/>
<circle cx="136.5" cy="58.8" r="1.2" fill="rgb(91,91,91)" opacity="0.49"/>
<circle cx="228.9" cy="90.1" r="0.7" fill="rgb(149,149,149)" opacity="0.39"/>
<circle cx="170.7" cy="164.2" r="0.7" fill="rgb(134,134,134)" opacity="0.39"/>
<circle cx="137.7" cy="220.4" r="0.8" fill="rgb(134,134,134)" opacity="0.71"/>
<circle cx="100.8" cy="205.4" r="0.8" fill="rgb(136,136,136)" opacity="0.73"/>
<circle cx="174.5" cy="133.4" r="0.6" fill="rgb(115,115,115)" opacity="0.67"/>
<circle cx="263.8" cy="122.4" r="1.0" fill="rgb(100,100,100)" opacity="0.61"/>
<circle cx="219.7" cy="57.3" r="1.2" fill="rgb(164,164,164)" opacity="0.51"/>
<circle cx="263.6" cy="85.2" r="0.9" fill="rgb(124,124,124)" opacity="0.61"/>
<circle cx="158.0" cy="159.2" r="0.6" fill="rgb(113,113,113)" opacity="0.57"/>
<circle cx="73.0" cy="121.1" r="0.6" fill="rgb(111,111,111)" opacity="0.28"/>
<circle cx="92.5" cy="88.3" r="0.6" fill="rgb(151,151,151)" opacity="0.35"/>
<circle cx="71.7" cy="119.8" r="0.8" fill="rgb(168,168,168)" opacity="0.29"/>
<circle cx="107.6" cy="173.6" r="0.7" fill="rgb(90,90,90)" opacity="0.43"/>
<circle cx="248.6" cy="167.4" r="0.9" fill="rgb(137,137,137)" opacity="0.73"/>
<circle cx="181.2" cy="84.9" r="0.7" fill="rgb(159,159,159)" opacity="0.51"/>
<circle cx="266.7" cy="83.1" r="0.7" fill="rgb(106,106,106)" opacity="0.46"/>
<circle cx="237.3" cy="157.5" r="0.7" fill="rgb(149,149,149)" opacity="0.32"/>
<circle cx="191.0" cy="140.8" r="0.6" fill="rgb(107,107,107)" opacity="0.55"/>
<circle cx="138.9" cy="211.0" r="0.5" fill="rgb(138,138,138)" opacity="0.30"/>
<circle cx="184.6" cy="151.7" r="0.6" fill="rgb(131,131,131)" opacity="0.56"/>
<circle cx="253.9" cy="100.8" r="0.8" fill="rgb(118,118,118)" opacity="0.50"/>
<circle cx="166.2" cy="171.6" r="0.8" fill="rgb(110,110,110)" opacity="0.55"/>
<circle cx="169.8" cy="109.2" r="0.7" fill="rgb(129,129,129)" opacity="0.50"/>
<circle cx="125.1" cy="122.3" r="0.5" fill="rgb(169,169,169)" opacity="0.73"/>
<circle cx="93.2" cy="104.3" r="0.8" fill="rgb(158,158,158)" opacity="0.53"/>
<circle cx="116.0" cy="121.7" r="0.5" fill="rgb(121,121,121)" opacity="0.50"/>
<circle cx="243.9" cy="174.4" r="0.7" fill="rgb(127,127,127)" opacity="0.50"/>
<circle cx="275.5" cy="131.1" r="1.2" fill="rgb(167,167,167)" opacity="0.69"/>
<circle cx="90.9" cy="80.8" r="1.0" fill="rgb(133,133,133)" opacity="0.56"/>
<circle cx="138.6" cy="165.9" r="1.2" fill="rgb(165,165,165)" opacity="0.32"/>
<circle cx="210.2" cy="43.6" r="1.0" fill="rgb(159,159,159)" opacity="0.35"/>
<circle cx="155.6" cy="192.7" r="0.9" fill="rgb(163,163,163)" opacity="0.59"/>
<circle cx="267.1" cy="158.9" r="1.2" fill="rgb(139,139,139)" opacity="0.49"/>
<circle cx="209.4" cy="174.0" r="0.7" fill="rgb(149,149,149)" opacity="0.67"/>
<circle cx="212.1" cy="112.9" r="0.7" fill="rgb(150,150,150)" opacity="0.71"/>
<circle cx="94.5" cy="122.6" r="0.9" fill="rgb(153,153,153)" opacity="0.74"/>
<circle cx="178.7" cy="111.3" r="0.9" fill="rgb(96,96,96)" opacity="0.28"/>
<circle cx="113.1" cy="195.3" r="1.2" fill="rgb(98,98,98)" opacity="0.58"/>
<circle cx="213.5" cy="31.1" r="1.2" fill="rgb(105,105,105)" opacity="0.36"/>
<circle cx="201.6" cy="223.5" r="1.0" fill="rgb(107,107,107)" opacity="0.75"/>
<circle cx="214.4" cy="114.0" r="0.6" fill="rgb(168,168,168)" opacity="0.34"/>
<circle cx="109.5" cy="139.0" r="1.0" fill="rgb(138,138,138)" opacity="0.62"/>
<circle cx="123.7" cy="142.3" r="0.5" fill="rgb(141,141,141)" opacity="0.69"/>
<circle cx="92.7" cy="112.6" r="0.7" fill="rgb(166,166,166)" opacity="0.49"/>
<circle cx="139.4" cy="160.5" r="0.5" fill="rgb(107,107,107)" opacity="0.60"/>
<circle cx="96.3" cy="155.2" r="0.9" fill="rgb(127,127,127)" opacity="0.71"/>
<circle cx="182.3" cy="152.9" r="0.7" fill="rgb(98,98,98)" opacity="0.53"/>
<circle cx="118.2" cy="180.6" r="0.9" fill="rgb(107,107,107)" opacity="0.65"/>
<circle cx="248.0" cy="117.3" r="0.8" fill="rgb(112,112,112)" opacity="0.32"/>
<circle cx="186.2" cy="28.4" r="1.2" fill="rgb(105,105,105)" opacity="0.50"/>
<circle cx="160.7" cy="103.7" r="0.8" fill="rgb(151,151,151)" opacity="0.73"/>
<circle cx="87.0" cy="133.7" r="0.9" fill="rgb(139,139,139)" opacity="0.28"/>
<circle cx="209.2" cy="68.2" r="0.5" fill="rgb(100,100,100)" opacity="0.74"/>
<circle cx="205.8" cy="195.5" r="0.6" fill="rgb(169,169,169)" opacity="0.44"/>
<circle cx="242.1" cy="82.4" r="0.9" fill="rgb(134,134,134)" opacity="0.65"/>
<circle cx="144.6" cy="174.6" r="0.7" fill="rgb(127,127,127)" opacity="0.65"/>
<circle cx="156.4" cy="202.1" r="0.9" fill="rgb(94,94,94)" opacity="0.55"/>
<circle cx="186.2" cy="178.4" r="0.8" fill="rgb(98,98,98)" opacity="0.30"/>
<circle cx="166.6" cy="182.7" r="0.5" fill="rgb(144,144,144)" opacity="0.49"/>
<circle cx="253.6" cy="152.6" r="0.8" fill="rgb(131,131,131)" opacity="0.48"/>
<circle cx="98.0" cy="100.5" r="0.8" fill="rgb(150,150,150)" opacity="0.33"/>
<circle cx="118.2" cy="79.8" r="0.6" fill="rgb(126,126,126)" opacity="0.59"/>
<circle cx="137.4" cy="180.9" r="0.7" fill="rgb(97,97,97)" opacity="0.59"/>
<circle cx="207.6" cy="121.2" r="0.6" fill="rgb(105,105,105)" opacity="0.64"/>
<circle cx="133.2" cy="117.4" r="0.6" fill="rgb(110,110,110)" opacity="0.27"/>
<circle cx="216.4" cy="143.1" r="1.0" fill="rgb(100,100,100)" opacity="0.56"/>
<circle cx="258.3" cy="171.2" r="1.0" fill="rgb(129,129,129)" opacity="0.34"/>
<circle cx="141.1" cy="34.9" r="1.0" fill="rgb(149,149,149)" opacity="0.33"/>
<circle cx="115.3" cy="163.9" r="0.5" fill="rgb(167,167,167)" opacity="0.47"/>
<circle cx="151.5" cy="30.3" r="0.9" fill="rgb(156,156,156)" opacity="0.53"/>
<circle cx="264.2" cy="173.3" r="0.6" fill="rgb(152,152,152)" opacity="0.30"/>
<circle cx="164.5" cy="166.1" r="1.0" fill="rgb(96,96,96)" opacity="0.50"/>
<circle cx="241.6" cy="115.7" r="1.0" fill="rgb(96,96,96)" opacity="0.69"/>
<circle cx="212.3" cy="157.1" r="0.6" fill="rgb(158,158,158)" opacity="0.37"/>
<circle cx="219.6" cy="153.8" r="0.8" fill="rgb(159,159,159)" opacity="0.43"/>
<circle cx="154.2" cy="184.3" r="0.9" fill="rgb(170,170,170)" opacity="0.32"/>
<circle cx="210.8" cy="210.6" r="0.6" fill="rgb(160,160,160)" opacity="0.31"/>
<circle cx="130.5" cy="39.4" r="1.2" fill="rgb(123,123,123)" opacity="0.66"/>
<circle cx="130.7" cy="48.4" r="0.5" fill="rgb(150,150,150)" opacity="0.37"/>
<circle cx="82.1" cy="112.0" r="0.9" fill="rgb(121,121,121)" opacity="0.39"/>
<circle cx="169.0" cy="73.7" r="1.0" fill="rgb(115,115,115)" opacity="0.65"/>
<circle cx="145.0" cy="184.6" r="0.5" fill="rgb(126,126,126)" opacity="0.58"/>
<circle cx="225.9" cy="143.1" r="0.8" fill="rgb(108,108,108)" opacity="0.66"/>
<circle cx="203.7" cy="224.1" r="1.0" fill="rgb(96,96,96)" opacity="0.60"/>
<circle cx="121.1" cy="193.7" r="0.8" fill="rgb(161,161,161)" opacity="0.32"/>
<circle cx="120.0" cy="164.7" r="0.7" fill="rgb(94,94,94)" opacity="0.28"/>
<circle cx="226.8" cy="139.4" r="0.5" fill="rgb(105,105,105)" opacity="0.28"/>
<circle cx="91.8" cy="96.8" r="1.2" fill="rgb(123,123,123)" opacity="0.72"/>
<circle cx="194.5" cy="69.9" r="0.8" fill="rgb(106,106,106)" opacity="0.43"/>
<circle cx="188.6" cy="196.8" r="1.0" fill="rgb(102,102,102)" opacity="0.38"/>
<circle cx="193.2" cy="155.0" r="0.6" fill="rgb(147,147,147)" opacity="0.63"/>
<circle cx="156.7" cy="112.2" r="0.7" fill="rgb(130,130,130)" opacity="0.47"/>
<circle cx="112.7" cy="147.7" r="0.6" fill="rgb(146,146,146)" opacity="0.27"/>
<circle cx="206.4" cy="54.9" r="0.8" fill="rgb(152,152,152)" opacity="0.55"/>
<circle cx="153.4" cy="31.8" r="0.5" fill="rgb(94,94,94)" opacity="0.70"/>
<circle cx="114.3" cy="170.9" r="0.7" fill="rgb(140,140,140)" opacity="0.48"/>
<circle cx="107.0" cy="195.7" r="0.7" fill="rgb(161,161,161)" opacity="0.51"/>
<circle cx="227.0" cy="188.0" r="0.7" fill="rgb(135,135,135)" opacity="0.65"/>
<circle cx="237.5" cy="161.9" r="1.2" fill="rgb(97,97,97)" opacity="0.56"/>
<circle cx="149.5" cy="51.2" r="1.2" fill="rgb(120,120,120)" opacity="0.50"/>
<circle cx="85.1" cy="173.6" r="0.6" fill="rgb(131,131,131)" opacity="0.49"/>
<circle cx="164.2" cy="134.4" r="0.5" fill="rgb(115,115,115)" opacity="0.44"/>
<circle cx="66.2" cy="129.7" r="0.9" fill="rgb(169,169,169)" opacity="0.34"/>
<circle cx="147.0" cy="88.3" r="0.5" fill="rgb(168,168,168)" opacity="0.41"/>
<circle cx="145.6" cy="122.1" r="1.0" fill="rgb(141,141,141)" opacity="0.47"/>
<circle cx="231.9" cy="144.1" r="1.0" fill="rgb(161,161,161)" opacity="0.59"/>
<circle cx="178.4" cy="190.8" r="0.7" fill="rgb(165,165,165)" opacity="0.26"/>
<circle cx="228.1" cy="64.7" r="0.7" fill="rgb(99,99,99)" opacity="0.26"/>
<circle cx="228.9" cy="150.8" r="1.2" fill="rgb(142,142,142)" opacity="0.40"/>
<circle cx="262.0" cy="79.2" r="1.0" fill="rgb(120,120,120)" opacity="0.29"/>
<circle cx="224.6" cy="163.4" r="0.7" fill="rgb(134,134,134)" opacity="0.59"/>
<circle cx="242.6" cy="178.0" r="0.9" fill="rgb(161,161,161)" opacity="0.35"/>
<circle cx="174.2" cy="211.6" r="0.6" fill="rgb(133,133,133)" opacity="0.74"/>
<circle cx="180.0" cy="104.5" r="0.5" fill="rgb(139,139,139)" opacity="0.44"/>
<circle cx="224.0" cy="133.2" r="0.6" fill="rgb(168,168,168)" opacity="0.41"/>
<circle cx="133.2" cy="200.3" r="0.9" fill="rgb(137,137,137)" opacity="0.37"/>
<circle cx="85.4" cy="83.3" r="1.2" fill="rgb(124,124,124)" opacity="0.65"/>
<circle cx="80.4" cy="108.7" r="0.6" fill="rgb(118,118,118)" opacity="0.58"/>
<circle cx="185.5" cy="154.1" r="1.0" fill="rgb(159,159,159)" opacity="0.61"/>
<circle cx="152.9" cy="111.3" r="0.9" fill="rgb(166,166,166)" opacity="0.70"/>
<circle cx="128.5" cy="80.5" r="0.9" fill="rgb(132,132,132)" opacity="0.34"/>
<circle cx="183.9" cy="149.2" r="0.6" fill="rgb(145,145,145)" opacity="0.35"/>
<circle cx="190.7" cy="158.4" r="1.0" fill="rgb(132,132,132)" opacity="0.61"/>
<circle cx="77.2" cy="123.9" r="1.2" fill="rgb(156,156,156)" opacity="0.73"/>
<circle cx="131.9" cy="201.8" r="1.0" fill="rgb(139,139,139)" opacity="0.71"/>
<circle cx="112.9" cy="169.1" r="1.2" fill="rgb(151,151,151)" opacity="0.67"/>
<circle cx="87.9" cy="92.2" r="0.7" fill="rgb(168,168,168)" opacity="0.63"/>
<circle cx="186.6" cy="114.7" r="0.7" fill="rgb(113,113,113)" opacity="0.61"/>
<circle cx="197.2" cy="226.3" r="0.5" fill="rgb(136,136,136)" opacity="0.30"/>
<circle cx="143.9" cy="118.4" r="1.0" fill="rgb(100,100,100)" opacity="0.37"/>
<circle cx="264.6" cy="120.0" r="0.5" fill="rgb(105,105,105)" opacity="0.74"/>
<circle cx="137.1" cy="178.8" r="0.8" fill="rgb(127,127,127)" opacity="0.26"/>
<circle cx="224.0" cy="62.3" r="0.7" fill="rgb(138,138,138)" opacity="0.32"/>
<circle cx="257.0" cy="157.5" r="1.2" fill="rgb(101,101,101)" opacity="0.54"/>
<circle cx="127.1" cy="92.5" r="1.2" fill="rgb(98,98,98)" opacity="0.51"/>
<circle cx="74.8" cy="110.3" r="0.6" fill="rgb(124,124,124)" opacity="0.58"/>
<circle cx="79.7" cy="78.4" r="0.5" fill="rgb(160,160,160)" opacity="0.49"/>
<circle cx="273.8" cy="136.0" r="0.8" fill="rgb(121,121,121)" opacity="0.30"/>
<circle cx="139.9" cy="193.4" r="0.5" fill="rgb(108,108,108)" opacity="0.43"/>
<circle cx="161.7" cy="102.2" r="0.9" fill="rgb(100,100,100)" opacity="0.28"/>
<circle cx="158.4" cy="121.2" r="0.5" fill="rgb(125,125,125)" opacity="0.55"/>
<circle cx="242.8" cy="120.9" r="0.5" fill="rgb(96,96,96)" opacity="0.33"/>
<circle cx="228.3" cy="127.2" r="1.2" fill="rgb(165,165,165)" opacity="0.72"/>
<circle cx="204.9" cy="152.4" r="0.9" fill="rgb(94,94,94)" opacity="0.36"/>
<circle cx="153.9" cy="174.8" r="1.2" fill="rgb(145,145,145)" opacity="0.71"/>
<circle cx="225.2" cy="210.6" r="0.6" fill="rgb(128,128,128)" opacity="0.64"/>
<circle cx="154.0" cy="227.8" r="0.7" fill="rgb(117,117,117)" opacity="0.45"/>
<circle cx="104.7" cy="50.4" r="0.7" fill="rgb(126,126,126)" opacity="0.25"/>
<circle cx="199.0" cy="184.6" r="1.2" fill="rgb(148,148,148)" opacity="0.29"/>
<circle cx="151.3" cy="52.6" r="1.0" fill="rgb(92,92,92)" opacity="0.62"/>
<circle cx="169.3" cy="88.4" r="0.8" fill="rgb(107,107,107)" opacity="0.48"/>
<circle cx="80.6" cy="98.4" r="0.9" fill="rgb(93,93,93)" opacity="0.26"/>
<circle cx="92.1" cy="160.0" r="0.7" fill="rgb(117,117,117)" opacity="0.33"/>
<circle cx="174.5" cy="228.4" r="1.0" fill="rgb(161,161,161)" opacity="0.30"/>
<circle cx="87.7" cy="157.8" r="0.7" fill="rgb(128,128,128)" opacity="0.43"/>
<circle cx="165.8" cy="144.6" r="1.2" fill="rgb(120,120,120)" opacity="0.73"/>
<circle cx="114.7" cy="162.4" r="0.5" fill="rgb(91,91,91)" opacity="0.26"/>
<circle cx="109.1" cy="70.2" r="1.0" fill="rgb(168,168,168)" opacity="0.37"/>
<circle cx="129.4" cy="192.0" r="0.6" fill="rgb(94,94,94)" opacity="0.60"/>
<circle cx="252.4" cy="186.1" r="0.9" fill="rgb(128,128,128)" opacity="0.47"/>
<circle cx="257.1" cy="141.8" r="0.7" fill="rgb(164,164,164)" opacity="0.72"/>
<circle cx="128.4" cy="56.2" r="1.0" fill="rgb(99,99,99)" opacity="0.57"/>
<circle cx="196.0" cy="41.7" r="0.9" fill="rgb(128,128,128)" opacity="0.66"/>
<circle cx="143.6" cy="107.8" r="0.8" fill="rgb(134,134,134)" opacity="0.28"/>
<circle cx="184.8" cy="29.7" r="1.0" fill="rgb(101,101,101)" opacity="0.31"/>
<circle cx="252.7" cy="100.4" r="0.7" fill="rgb(123,123,123)" opacity="0.66"/>
<circle cx="167.2" cy="51.3" r="0.5" fill="rgb(123,123,123)" opacity="0.38"/>
<circle cx="99.5" cy="188.8" r="1.0" fill="rgb(123,123,123)" opacity="0.55"/>
<circle cx="242.2" cy="147.2" r="0.9" fill="rgb(96,96,96)" opacity="0.70"/>
<circle cx="139.7" cy="47.0" r="0.8" fill="rgb(95,95,95)" opacity="0.60"/>
<circle cx="194.2" cy="164.3" r="1.0" fill="rgb(95,95,95)" opacity="0.26"/>
<circle cx="151.7" cy="108.6" r="0.9" fill="rgb(168,168,168)" opacity="0.47"/>
<circle cx="187.0" cy="135.0" r="1.0" fill="rgb(104,104,104)" opacity="0.60"/>
<circle cx="217.3" cy="146.7" r="0.5" fill="rgb(98,98,98)" opacity="0.61"/>
<circle cx="128.8" cy="132.4" r="0.9" fill="rgb(98,98,98)" opacity="0.73"/>
<circle cx="208.9" cy="78.9" r="0.8" fill="rgb(129,129,129)" opacity="0.38"/>
<circle cx="225.6" cy="130.6" r="0.8" fill="rgb(149,149,149)" opacity="0.44"/>
<circle cx="203.8" cy="221.6" r="0.7" fill="rgb(168,168,168)" opacity="0.35"/>
<circle cx="82.9" cy="95.8" r="0.5" fill="rgb(144,144,144)" opacity="0.47"/>
<circle cx="174.5" cy="104.8" r="0.6" fill="rgb(107,107,107)" opacity="0.71"/>
<circle cx="100.3" cy="127.7" r="0.9" fill="rgb(134,134,134)" opacity="0.71"/>
<circle cx="95.0" cy="77.7" r="0.8" fill="rgb(154,154,154)" opacity="0.52"/>
<circle cx="255.8" cy="139.0" r="1.0" fill="rgb(111,111,111)" opacity="0.46"/>
<circle cx="231.2" cy="198.8" r="0.7" fill="rgb(168,168,168)" opacity="0.30"/>
<circle cx="119.3" cy="96.9" r="0.9" fill="rgb(123,123,123)" opacity="0.49"/>
<circle cx="215.2" cy="39.1" r="1.2" fill="rgb(104,104,104)" opacity="0.59"/>
<circle cx="249.6" cy="81.3" r="1.2" fill="rgb(164,164,164)" opacity="0.34"/>
<circle cx="229.5" cy="136.4" r="0.6" fill="rgb(132,132,132)" opacity="0.61"/>
<circle cx="119.6" cy="107.7" r="0.7" fill="rgb(102,102,102)" opacity="0.41"/>
<circle cx="126.4" cy="92.5" r="1.2" fill="rgb(142,142,142)" opacity="0.28"/>
<circle cx="128.3" cy="59.1" r="0.5" fill="rgb(154,154,154)" opacity="0.45"/>
<circle cx="162.5" cy="36.0" r="0.8" fill="rgb(93,93,93)" opacity="0.72"/>
<circle cx="179.4" cy="159.5" r="1.0" fill="rgb(155,155,155)" opacity="0.41"/>
<circle cx="141.2" cy="36.8" r="0.8" fill="rgb(103,103,103)" opacity="0.34"/>
<circle cx="116.5" cy="151.7" r="0.5" fill="rgb(100,100,100)" opacity="0.58"/>
<circle cx="205.5" cy="101.8" r="0.5" fill="rgb(124,124,124)" opacity="0.40"/>
<circle cx="160.8" cy="195.5" r="0.5" fill="rgb(116,116,116)" opacity="0.69"/>
<circle cx="203.9" cy="59.2" r="0.6" fill="rgb(131,131,131)" opacity="0.69"/>
<circle cx="215.7" cy="35.9" r="0.7" fill="rgb(96,96,96)" opacity="0.68"/>
<circle cx="200.7" cy="86.0" r="0.9" fill="rgb(163,163,163)" opacity="0.57"/>
<circle cx="118.6" cy="56.1" r="1.0" fill="rgb(122,122,122)" opacity="0.48"/>
<circle cx="150.1" cy="171.9" r="0.5" fill="rgb(107,107,107)" opacity="0.55"/>
<circle cx="161.5" cy="223.1" r="1.2" fill="rgb(103,103,103)" opacity="0.47"/>
<circle cx="113.9" cy="73.9" r="1.0" fill="rgb(101,101,101)" opacity="0.61"/>
<circle cx="118.8" cy="119.5" r="1.0" fill="rgb(110,110,110)" opacity="0.65"/>
<circle cx="166.7" cy="84.2" r="0.7" fill="rgb(170,170,170)" opacity="0.43"/>
<circle cx="75.3" cy="174.2" r="0.5" fill="rgb(116,116,116)" opacity="0.63"/>
<circle cx="135.8" cy="146.7" r="1.0" fill="rgb(152,152,152)" opacity="0.69"/>
<circle cx="175.1" cy="149.3" r="0.9" fill="rgb(132,132,132)" opacity="0.28"/>
<circle cx="125.6" cy="132.3" r="0.7" fill="rgb(143,143,143)" opacity="0.44"/>
<circle cx="228.8" cy="82.4" r="0.6" fill="rgb(94,94,94)" opacity="0.25"/>
<circle cx="265.1" cy="87.3" r="1.2" fill="rgb(143,143,143)" opacity="0.58"/>
<circle cx="153.7" cy="199.1" r="1.0" fill="rgb(149,149,149)" opacity="0.42"/>
<circle cx="220.0" cy="128.3" r="1.0" fill="rgb(168,168,168)" opacity="0.64"/>
<circle cx="67.1" cy="143.6" r="1.0" fill="rgb(90,90,90)" opacity="0.52"/>
<circle cx="166.9" cy="119.9" r="0.7" fill="rgb(95,95,95)" opacity="0.36"/>
<circle cx="221.1" cy="56.7" r="0.6" fill="rgb(154,154,154)" opacity="0.37"/>
<circle cx="240.7" cy="159.4" r="0.8" fill="rgb(143,143,143)" opacity="0.57"/>
<circle cx="112.9" cy="79.0" r="0.5" fill="rgb(116,116,116)" opacity="0.58"/>
<circle cx="187.9" cy="179.0" r="0.9" fill="rgb(137,137,137)" opacity="0.47"/>
<circle cx="129.4" cy="177.3" r="0.7" fill="rgb(161,161,161)" opacity="0.55"/>
<circle cx="225.5" cy="115.4" r="1.0" fill="rgb(97,97,97)" opacity="0.70"/>
<circle cx="177.1" cy="21.3" r="0.8" fill="rgb(97,97,97)" opacity="0.48"/>
<circle cx="104.5" cy="61.1" r="0.6" fill="rgb(148,148,148)" opacity="0.69"/>
<circle cx="255.6" cy="120.7" r="0.7" fill="rgb(156,156,156)" opacity="0.29"/>
<circle cx="228.0" cy="169.6" r="0.9" fill="rgb(169,169,169)" opacity="0.48"/>
<circle cx="195.8" cy="149.4" r="1.2" fill="rgb(169,169,169)" opacity="0.35"/>
<circle cx="202.9" cy="115.3" r="0.9" fill="rgb(115,115,115)" opacity="0.73"/>
<circle cx="212.4" cy="63.5" r="0.9" fill="rgb(137,137,137)" opacity="0.69"/>
<circle cx="100.8" cy="105.0" r="0.5" fill="rgb(144,144,144)" opacity="0.28"/>
<circle cx="104.0" cy="206.3" r="0.8" fill="rgb(111,111,111)" opacity="0.64"/>
<circle cx="88.5" cy="102.5" r="0.6" fill="rgb(117,117,117)" opacity="0.32"/>
<circle cx="175.9" cy="63.6" r="1.0" fill="rgb(124,124,124)" opacity="0.63"/>
<circle cx="233.0" cy="109.3" r="1.0" fill="rgb(161,161,161)" opacity="0.69"/>
<circle cx="216.1" cy="115.1" r="0.6" fill="rgb(115,115,115)" opacity="0.41"/>
<circle cx="117.4" cy="165.9" r="1.2" fill="rgb(95,95,95)" opacity="0.35"/>
<circle cx="177.7" cy="199.7" r="0.7" fill="rgb(102,102,102)" opacity="0.60"/>
<circle cx="156.3" cy="194.4" r="1.0" fill="rgb(126,126,126)" opacity="0.34"/>
<circle cx="180.0" cy="171.0" r="0.5" fill="rgb(90,90,90)" opacity="0.60"/>
<circle cx="163.5" cy="197.2" r="0.7" fill="rgb(100,100,100)" opacity="0.49"/>
<circle cx="218.1" cy="99.4" r="0.8" fill="rgb(123,123,123)" opacity="0.65"/>
<circle cx="160.2" cy="216.4" r="0.9" fill="rgb(158,158,158)" opacity="0.46"/>
<circle cx="147.9" cy="139.7" r="1.2" fill="rgb(92,92,92)" opacity="0.36"/>
<circle cx="126.9" cy="194.6" r="0.5" fill="rgb(158,158,158)" opacity="0.49"/>
<circle cx="81.8" cy="160.2" r="0.7" fill="rgb(102,102,102)" opacity="0.29"/>
<circle cx="133.4" cy="57.8" r="0.7" fill="rgb(95,95,95)" opacity="0.40"/>
<circle cx="208.5" cy="47.0" r="0.9" fill="rgb(100,100,100)" opacity="0.63"/>
<circle cx="249.6" cy="165.9" r="0.5" fill="rgb(95,95,95)" opacity="0.49"/>
<circle cx="251.5" cy="66.8" r="0.7" fill="rgb(109,109,109)" opacity="0.46"/>
<circle cx="195.3" cy="142.6" r="1.0" fill="rgb(156,156,156)" opacity="0.37"/>
<circle cx="125.9" cy="40.0" r="0.7" fill="rgb(99,99,99)" opacity="0.72"/>
<circle cx="126.3" cy="41.1" r="0.7" fill="rgb(170,170,170)" opacity="0.72"/>
<circle cx="82.8" cy="93.6" r="0.6" fill="rgb(135,135,135)" opacity="0.59"/>
<circle cx="162.4" cy="41.6" r="1.2" fill="rgb(153,153,153)" opacity="0.41"/>
<circle cx="210.2" cy="117.2" r="1.2" fill="rgb(97,97,97)" opacity="0.55"/>
<circle cx="253.6" cy="86.6" r="0.8" fill="rgb(154,154,154)" opacity="0.51"/>
<circle cx="173.4" cy="40.6" r="0.9" fill="rgb(162,162,162)" opacity="0.69"/>
<circle cx="152.1" cy="62.5" r="1.0" fill="rgb(141,141,141)" opacity="0.72"/>
<circle cx="132.8" cy="28.8" r="1.2" fill="rgb(136,136,136)" opacity="0.46"/>
<circle cx="129.1" cy="141.6" r="0.9" fill="rgb(96,96,96)" opacity="0.28"/>
<circle cx="81.4" cy="154.2" r="0.7" fill="rgb(145,145,145)" opacity="0.58"/>
<circle cx="71.4" cy="117.9" r="0.6" fill="rgb(132,132,132)" opacity="0.51"/>
<circle cx="148.3" cy="120.0" r="0.8" fill="rgb(94,94,94)" opacity="0.34"/>
<circle cx="165.2" cy="88.8" r="0.9" fill="rgb(101,101,101)" opacity="0.31"/>
<circle cx="252.7" cy="99.6" r="1.2" fill="rgb(133,133,133)" opacity="0.72"/>
<circle cx="264.4" cy="103.8" r="1.2" fill="rgb(147,147,147)" opacity="0.75"/>
<circle cx="91.8" cy="179.9" r="1.0" fill="rgb(159,159,159)" opacity="0.48"/>
<circle cx="123.3" cy="57.6" r="0.8" fill="rgb(91,91,91)" opacity="0.72"/>
<circle cx="149.7" cy="75.1" r="0.9" fill="rgb(109,109,109)" opacity="0.47"/>
<circle cx="194.8" cy="117.5" r="0.7" fill="rgb(138,138,138)" opacity="0.27"/>
<circle cx="238.4" cy="161.1" r="0.6" fill="rgb(153,153,153)" opacity="0.69"/>
<circle cx="88.2" cy="138.8" r="0.5" fill="rgb(133,133,133)" opacity="0.42"/>
<circle cx="138.1" cy="201.1" r="0.5" fill="rgb(95,95,95)" opacity="0.35"/>
<circle cx="71.1" cy="122.0" r="0.6" fill="rgb(95,95,95)" opacity="0.71"/>
<circle cx="131.1" cy="99.1" r="0.5" fill="rgb(94,94,94)" opacity="0.60"/>
<circle cx="225.8" cy="43.8" r="1.0" fill="rgb(129,129,129)" opacity="0.31"/>
<circle cx="255.6" cy="155.8" r="1.2" fill="rgb(164,164,164)" opacity="0.71"/>
<circle cx="242.1" cy="187.4" r="0.7" fill="rgb(142,142,142)" opacity="0.33"/>
<circle cx="121.6" cy="34.6" r="0.6" fill="rgb(120,120,120)" opacity="0.61"/>
<circle cx="168.7" cy="22.9" r="0.7" fill="rgb(150,150,150)" opacity="0.67"/>
<circle cx="245.4" cy="176.1" r="1.0" fill="rgb(161,161,161)" opacity="0.36"/>
<circle cx="205.8" cy="41.4" r="0.8" fill="rgb(94,94,94)" opacity="0.59"/>
<circle cx="222.0" cy="217.6" r="0.7" fill="rgb(137,137,137)" opacity="0.37"/>
<circle cx="265.7" cy="131.8" r="0.7" fill="rgb(130,130,130)" opacity="0.38"/>
<circle cx="110.0" cy="199.8" r="0.9" fill="rgb(127,127,127)" opacity="0.48"/>
<circle cx="210.1" cy="146.8" r="0.6" fill="rgb(119,119,119)" opacity="0.71"/>
<circle cx="184.3" cy="39.7" r="0.6" fill="rgb(116,116,116)" opacity="0.44"/>
<circle cx="201.8" cy="67.1" r="1.2" fill="rgb(107,107,107)" opacity="0.35"/>
<circle cx="190.2" cy="170.8" r="1.0" fill="rgb(166,166,166)" opacity="0.49"/>
<circle cx="249.7" cy="154.7" r="1.0" fill="rgb(122,122,122)" opacity="0.29"/>
<circle cx="103.9" cy="119.9" r="0.9" fill="rgb(102,102,102)" opacity="0.59"/>
<circle cx="200.4" cy="141.6" r="0.9" fill="rgb(91,91,91)" opacity="0.40"/>
<circle cx="183.3" cy="149.7" r="1.0" fill="rgb(129,129,129)" opacity="0.44"/>
<circle cx="242.6" cy="202.2" r="0.9" fill="rgb(133,133,133)" opacity="0.32"/>
<circle cx="159.1" cy="140.0" r="0.6" fill="rgb(103,103,103)" opacity="0.56"/>
<circle cx="102.6" cy="137.1" r="0.6" fill="rgb(124,124,124)" opacity="0.61"/>
<circle cx="123.1" cy="196.8" r="0.7" fill="rgb(100,100,100)" opacity="0.57"/>
<circle cx="130.5" cy="44.7" r="0.6" fill="rgb(92,92,92)" opacity="0.55"/>
<circle cx="144.8" cy="192.8" r="0.5" fill="rgb(151,151,151)" opacity="0.45"/>
<circle cx="272.7" cy="107.2" r="1.0" fill="rgb(151,151,151)" opacity="0.72"/>
<circle cx="148.9" cy="148.1" r="0.6" fill="rgb(154,154,154)" opacity="0.64"/>
<circle cx="119.1" cy="127.8" r="0.6" fill="rgb(137,137,137)" opacity="0.47"/>
<circle cx="236.2" cy="164.8" r="0.6" fill="rgb(139,139,139)" opacity="0.60"/>
<circle cx="215.2" cy="170.7" r="0.6" fill="rgb(162,162,162)" opacity="0.56"/>
<circle cx="196.3" cy="33.7" r="1.2" fill="rgb(119,119,119)" opacity="0.46"/>
<circle cx="166.2" cy="201.8" r="0.6" fill="rgb(149,149,149)" opacity="0.49"/>
<circle cx="168.6" cy="155.2" r="0.6" fill="rgb(120,120,120)" opacity="0.41"/>
<circle cx="82.1" cy="186.2" r="1.0" fill="rgb(149,149,149)" opacity="0.52"/>
<circle cx="232.3" cy="203.9" r="0.6" fill="rgb(91,91,91)" opacity="0.49"/>
<circle cx="195.2" cy="169.6" r="0.5" fill="rgb(95,95,95)" opacity="0.66"/>
<circle cx="77.9" cy="111.5" r="0.6" fill="rgb(105,105,105)" opacity="0.63"/>
<circle cx="135.2" cy="184.7" r="0.9" fill="rgb(156,156,156)" opacity="0.57"/>
<circle cx="248.4" cy="172.8" r="0.6" fill="rgb(153,153,153)" opacity="0.51"/>
<circle cx="132.9" cy="184.7" r="0.9" fill="rgb(130,130,130)" opacity="0.25"/>
<circle cx="180.9" cy="74.7" r="0.7" fill="rgb(119,119,119)" opacity="0.66"/>
<circle cx="115.5" cy="162.9" r="0.9" fill="rgb(153,153,153)" opacity="0.70"/>
<circle cx="165.7" cy="90.7" r="0.7" fill="rgb(117,117,117)" opacity="0.43"/>
<circle cx="95.8" cy="87.7" r="1.2" fill="rgb(120,120,120)" opacity="0.72"/>
<circle cx="139.6" cy="73.9" r="0.7" fill="rgb(103,103,103)" opacity="0.56"/>
<circle cx="166.1" cy="45.7" r="0.9" fill="rgb(170,170,170)" opacity="0.38"/>
<circle cx="94.8" cy="188.0" r="0.5" fill="rgb(102,102,102)" opacity="0.47"/>
<circle cx="227.3" cy="136.3" r="1.2" fill="rgb(118,118,118)" opacity="0.41"/>
<circle cx="254.8" cy="111.1" r="0.5" fill="rgb(104,104,104)" opacity="0.38"/>
<circle cx="221.1" cy="193.5" r="0.5" fill="rgb(130,130,130)" opacity="0.40"/>
<circle cx="163.3" cy="214.4" r="1.0" fill="rgb(109,109,109)" opacity="0.43"/>
<circle cx="123.3" cy="113.8" r="0.9" fill="rgb(90,90,90)" opacity="0.48"/>
<circle cx="130.2" cy="222.6" r="0.8" fill="rgb(102,102,102)" opacity="0.40"/>
<circle cx="229.7" cy="72.7" r="0.8" fill="rgb(104,104,104)" opacity="0.30"/>
<circle cx="196.4" cy="132.2" r="1.0" fill="rgb(150,150,150)" opacity="0.51"/>
<circle cx="142.2" cy="52.1" r="0.5" fill="rgb(93,93,93)" opacity="0.31"/>
<circle cx="150.4" cy="22.9" r="1.0" fill="rgb(149,149,149)" opacity="0.42"/>
<circle cx="113.8" cy="87.5" r="0.8" fill="rgb(123,123,123)" opacity="0.35"/>
<circle cx="245.7" cy="123.6" r="0.5" fill="rgb(124,124,124)" opacity="0.29"/>
<circle cx="253.7" cy="143.8" r="0.7" fill="rgb(145,145,145)" opacity="0.27"/>
<circle cx="205.6" cy="31.5" r="0.8" fill="rgb(156,156,156)" opacity="0.67"/>
<circle cx="190.5" cy="65.2" r="0.6" fill="rgb(98,98,98)" opacity="0.64"/>
<circle cx="155.5" cy="68.2" r="1.0" fill="rgb(152,152,152)" opacity="0.54"/>
<circle cx="248.1" cy="115.4" r="0.6" fill="rgb(136,136,136)" opacity="0.49"/>
<circle cx="252.8" cy="84.0" r="0.8" fill="rgb(131,131,131)" opacity="0.58"/>
<circle cx="140.8" cy="150.1" r="1.0" fill="rgb(121,121,121)" opacity="0.29"/>
<circle cx="123.6" cy="160.4" r="0.7" fill="rgb(156,156,156)" opacity="0.27"/>
<circle cx="138.1" cy="94.2" r="0.6" fill="rgb(118,118,118)" opacity="0.44"/>
<circle cx="151.6" cy="149.3" r="0.8" fill="rgb(142,142,142)" opacity="0.67"/>
<circle cx="111.0" cy="59.1" r="1.0" fill="rgb(93,93,93)" opacity="0.42"/>
<circle cx="257.8" cy="111.8" r="0.9" fill="rgb(168,168,168)" opacity="0.69"/>
<circle cx="207.2" cy="44.9" r="0.6" fill="rgb(137,137,137)" opacity="0.36"/>
<circle cx="138.3" cy="108.6" r="0.7" fill="rgb(129,129,129)" opacity="0.50"/>
<circle cx="161.9" cy="67.8" r="1.0" fill="rgb(153,153,153)" opacity="0.43"/>
<circle cx="127.5" cy="85.1" r="0.9" fill="rgb(132,132,132)" opacity="0.50"/>
<circle cx="168.0" cy="165.7" r="0.8" fill="rgb(115,115,115)" opacity="0.72"/>
<circle cx="157.5" cy="189.3" r="1.0" fill="rgb(169,169,169)" opacity="0.70"/>
<circle cx="191.5" cy="43.3" r="1.2" fill="rgb(110,110,110)" opacity="0.51"/>
<circle cx="214.7" cy="143.0" r="1.0" fill="rgb(122,122,122)" opacity="0.64"/>
<circle cx="183.3" cy="221.5" r="1.0" fill="rgb(104,104,104)" opacity="0.60"/>
<circle cx="103.2" cy="144.4" r="1.0" fill="rgb(130,130,130)" opacity="0.39"/>
<circle cx="253.5" cy="150.6" r="1.0" fill="rgb(110,110,110)" opacity="0.32"/>
<circle cx="241.4" cy="81.9" r="0.9" fill="rgb(140,140,140)" opacity="0.62"/>
<circle cx="132.7" cy="77.2" r="0.7" fill="rgb(94,94,94)" opacity="0.74"/>
<circle cx="204.2" cy="121.1" r="0.9" fill="rgb(120,120,120)" opacity="0.38"/>
<circle cx="188.1" cy="148.2" r="1.0" fill="rgb(169,169,169)" opacity="0.30"/>
<circle cx="140.7" cy="49.3" r="0.8" fill="rgb(94,94,94)" opacity="0.49"/>
<circle cx="143.3" cy="182.6" r="0.9" fill="rgb(122,122,122)" opacity="0.31"/>
<circle cx="267.6" cy="132.8" r="1.0" fill="rgb(170,170,170)" opacity="0.52"/>
<circle cx="189.5" cy="143.4" r="0.5" fill="rgb(153,153,153)" opacity="0.32"/>
<circle cx="219.8" cy="95.2" r="0.6" fill="rgb(170,170,170)" opacity="0.66"/>
<circle cx="223.4" cy="183.4" r="0.8" fill="rgb(104,104,104)" opacity="0.32"/>
<circle cx="225.9" cy="66.6" r="1.0" fill="rgb(146,146,146)" opacity="0.60"/>
<circle cx="189.8" cy="189.0" r="0.9" fill="rgb(167,167,167)" opacity="0.74"/>
<circle cx="112.8" cy="176.4" r="0.8" fill="rgb(154,154,154)" opacity="0.54"/>
<circle cx="128.5" cy="69.8" r="0.9" fill="rgb(152,152,152)" opacity="0.55"/>
<circle cx="257.8" cy="149.3" r="0.8" fill="rgb(92,92,92)" opacity="0.58"/>
<circle cx="197.8" cy="107.6" r="0.7" fill="rgb(107,107,107)" opacity="0.59"/>
<circle cx="146.5" cy="28.6" r="0.6" fill="rgb(135,135,135)" opacity="0.54"/>
<circle cx="161.7" cy="122.9" r="0.8" fill="rgb(119,119,119)" opacity="0.41"/>
<circle cx="138.9" cy="180.7" r="1.0" fill="rgb(144,144,144)" opacity="0.31"/>
<circle cx="217.9" cy="221.6" r="1.0" fill="rgb(92,92,92)" opacity="0.35"/>
<circle cx="236.1" cy="134.2" r="0.6" fill="rgb(132,132,132)" opacity="0.41"/>
<circle cx="255.1" cy="108.4" r="0.5" fill="rgb(133,133,133)" opacity="0.39"/>
<circle cx="79.5" cy="163.8" r="0.9" fill="rgb(108,108,108)" opacity="0.29"/>
<circle cx="157.2" cy="198.7" r="0.8" fill="rgb(121,121,121)" opacity="0.55"/>
<circle cx="82.0" cy="161.8" r="1.0" fill="rgb(129,129,129)" opacity="0.38"/>
<circle cx="219.7" cy="213.5" r="0.9" fill="rgb(139,139,139)" opacity="0.36"/>
<circle cx="194.0" cy="224.4" r="0.9" fill="rgb(167,167,167)" opacity="0.32"/>
<circle cx="107.2" cy="154.9" r="0.5" fill="rgb(90,90,90)" opacity="0.59"/>
<circle cx="231.2" cy="126.3" r="0.8" fill="rgb(99,99,99)" opacity="0.48"/>
<circle cx="101.1" cy="192.5" r="0.5" fill="rgb(163,163,163)" opacity="0.28"/>
<circle cx="165.0" cy="211.9" r="1.2" fill="rgb(91,91,91)" opacity="0.52"/>
<circle cx="114.5" cy="119.0" r="0.5" fill="rgb(120,120,120)" opacity="0.44"/>
<circle cx="88.3" cy="183.6" r="1.0" fill="rgb(115,115,115)" opacity="0.49"/>
<circle cx="121.8" cy="98.3" r="0.9" fill="rgb(149,149,149)" opacity="0.54"/>
<circle cx="114.3" cy="61.8" r="0.6" fill="rgb(115,115,115)" opacity="0.31"/>
<circle cx="190.1" cy="153.9" r="0.5" fill="rgb(124,124,124)" opacity="0.72"/>
<circle cx="166.4" cy="23.9" r="0.5" fill="rgb(159,159,159)" opacity="0.62"/>
<circle cx="145.9" cy="206.7" r="0.6" fill="rgb(133,133,133)" opacity="0.52"/>
<circle cx="211.2" cy="76.7" r="0.6" fill="rgb(136,136,136)" opacity="0.58"/>
<circle cx="179.3" cy="161.3" r="0.7" fill="rgb(113,113,113)" opacity="0.63"/>
<circle cx="218.4" cy="125.1" r="1.2" fill="rgb(132,132,132)" opacity="0.28"/>
<circle cx="181.1" cy="232.8" r="1.2" fill="rgb(108,108,108)" opacity="0.74"/>
<circle cx="221.4" cy="97.7" r="0.5" fill="rgb(146,146,146)" opacity="0.72"/>
<circle cx="262.0" cy="121.2" r="0.6" fill="rgb(149,149,149)" opacity="0.34"/>
<circle cx="98.5" cy="199.7" r="1.0" fill="rgb(137,137,137)" opacity="0.57"/>
<circle cx="107.0" cy="160.9" r="0.5" fill="rgb(95,95,95)" opacity="0.38"/>
<circle cx="153.0" cy="99.6" r="0.9" fill="rgb(90,90,90)" opacity="0.61"/>
<circle cx="220.4" cy="143.6" r="0.7" fill="rgb(155,155,155)" opacity="0.59"/>
<circle cx="232.4" cy="118.7" r="0.8" fill="rgb(139,139,139)" opacity="0.72"/>
<circle cx="181.6" cy="148.1" r="0.7" fill="rgb(164,164,164)" opacity="0.49"/>
<circle cx="136.3" cy="196.8" r="0.9" fill="rgb(122,122,122)" opacity="0.35"/>
<circle cx="143.2" cy="35.9" r="1.2" fill="rgb(161,161,161)" opacity="0.58"/>
<circle cx="251.1" cy="175.3" r="1.0" fill="rgb(124,124,124)" opacity="0.57"/>
<circle cx="89.2" cy="81.3" r="0.8" fill="rgb(145,145,145)" opacity="0.37"/>
<circle cx="142.5" cy="198.6" r="0.9" fill="rgb(121,121,121)" opacity="0.38"/>
<circle cx="98.8" cy="95.6" r="1.2" fill="rgb(139,139,139)" opacity="0.55"/>
<circle cx="123.4" cy="94.0" r="0.9" fill="rgb(132,132,132)" opacity="0.33"/>
<circle cx="147.6" cy="34.5" r="1.0" fill="rgb(170,170,170)" opacity="0.68"/>
<circle cx="255.5" cy="147.9" r="0.8" fill="rgb(104,104,104)" opacity="0.53"/>
<circle cx="182.4" cy="58.3" r="0.9" fill="rgb(153,153,153)" opacity="0.51"/>
<circle cx="67.7" cy="126.8" r="0.5" fill="rgb(132,132,132)" opacity="0.41"/>
<circle cx="114.9" cy="155.0" r="0.9" fill="rgb(91,91,91)" opacity="0.40"/>
<circle cx="164.4" cy="107.3" r="1.0" fill="rgb(134,134,134)" opacity="0.69"/>
<circle cx="143.5" cy="135.3" r="0.9" fill="rgb(123,123,123)" opacity="0.37"/>
<circle cx="116.7" cy="217.2" r="0.6" fill="rgb(112,112,112)" opacity="0.38"/>
<circle cx="168.7" cy="116.8" r="0.6" fill="rgb(112,112,112)" opacity="0.46"/>
<circle cx="176.3" cy="205.2" r="0.6" fill="rgb(137,137,137)" opacity="0.55"/>
<circle cx="270.0" cy="153.5" r="0.9" fill="rgb(168,168,168)" opacity="0.70"/>
<circle cx="205.4" cy="48.7" r="0.8" fill="rgb(122,122,122)" opacity="0.60"/>
<circle cx="202.7" cy="34.2" r="1.0" fill="rgb(117,117,117)" opacity="0.64"/>
<circle cx="216.5" cy="114.4" r="1.0" fill="rgb(135,135,135)" opacity="0.50"/>
<circle cx="267.0" cy="171.8" r="1.2" fill="rgb(108,108,108)" opacity="0.29"/>
<circle cx="81.5" cy="76.1" r="1.2" fill="rgb(149,149,149)" opacity="0.36"/>
<circle cx="209.1" cy="121.8" r="1.2" fill="rgb(152,152,152)" opacity="0.28"/>
<circle cx="245.2" cy="86.2" r="0.6" fill="rgb(150,150,150)" opacity="0.25"/>
<circle cx="122.3" cy="216.6" r="0.9" fill="rgb(165,165,165)" opacity="0.29"/>
<circle cx="197.3" cy="101.8" r="0.8" fill="rgb(100,100,100)" opacity="0.52"/>
<circle cx="247.2" cy="155.1" r="0.8" fill="rgb(121,121,121)" opacity="0.42"/>
<circle cx="156.8" cy="66.3" r="0.7" fill="rgb(131,131,131)" opacity="0.54"/>
<circle cx="112.1" cy="211.0" r="0.8" fill="rgb(157,157,157)" opacity="0.59"/>
<circle cx="179.9" cy="137.1" r="0.7" fill="rgb(108,108,108)" opacity="0.52"/>
<circle cx="120.6" cy="166.3" r="0.9" fill="rgb(162,162,162)" opacity="0.43"/>
<circle cx="207.1" cy="100.8" r="1.2" fill="rgb(139,139,139)" opacity="0.54"/>
<circle cx="135.7" cy="185.9" r="0.7" fill="rgb(140,140,140)" opacity="0.68"/>
<circle cx="116.1" cy="85.8" r="0.8" fill="rgb(106,106,106)" opacity="0.51"/>
<circle cx="203.7" cy="164.6" r="1.2" fill="rgb(108,108,108)" opacity="0.61"/>
<circle cx="172.3" cy="112.1" r="1.0" fill="rgb(94,94,94)" opacity="0.59"/>
<circle cx="122.7" cy="182.5" r="0.7" fill="rgb(109,109,109)" opacity="0.68"/>
<circle cx="154.3" cy="168.1" r="1.2" fill="rgb(92,92,92)" opacity="0.60"/>
<circle cx="224.4" cy="93.6" r="0.6" fill="rgb(156,156,156)" opacity="0.43"/>
<circle cx="124.2" cy="86.6" r="0.8" fill="rgb(100,100,100)" opacity="0.69"/>
<circle cx="218.8" cy="117.1" r="1.0" fill="rgb(125,125,125)" opacity="0.51"/>
<circle cx="140.9" cy="107.5" r="0.5" fill="rgb(125,125,125)" opacity="0.62"/>
<circle cx="230.9" cy="128.8" r="1.0" fill="rgb(92,92,92)" opacity="0.63"/>
<circle cx="95.1" cy="195.9" r="0.6" fill="rgb(123,123,123)" opacity="0.32"/>
<circle cx="223.3" cy="194.3" r="0.7" fill="rgb(139,139,139)" opacity="0.72"/>
<circle cx="245.9" cy="59.2" r="0.7" fill="rgb(106,106,106)" opacity="0.69"/>
<circle cx="106.3" cy="113.9" r="0.6" fill="rgb(120,120,120)" opacity="0.71"/>
<circle cx="185.7" cy="200.0" r="0.8" fill="rgb(153,153,153)" opacity="0.50"/>
<circle cx="212.0" cy="67.6" r="1.2" fill="rgb(165,165,165)" opacity="0.66"/>
<circle cx="94.3" cy="175.3" r="1.2" fill="rgb(168,168,168)" opacity="0.66"/>
<circle cx="129.1" cy="127.8" r="0.7" fill="rgb(158,158,158)" opacity="0.71"/>
<circle cx="176.2" cy="27.5" r="1.0" fill="rgb(113,113,113)" opacity="0.75"/>
<circle cx="197.4" cy="125.5" r="0.8" fill="rgb(97,97,97)" opacity="0.57"/>
<circle cx="195.1" cy="124.7" r="1.0" fill="rgb(96,96,96)" opacity="0.64"/>
<circle cx="218.6" cy="173.8" r="0.6" fill="rgb(114,114,114)" opacity="0.50"/>
<circle cx="120.9" cy="64.3" r="1.2" fill="rgb(119,119,119)" opacity="0.35"/>
<circle cx="134.7" cy="60.3" r="0.8" fill="rgb(93,93,93)" opacity="0.43"/>
<circle cx="198.1" cy="169.6" r="0.8" fill="rgb(110,110,110)" opacity="0.46"/>
<circle cx="116.1" cy="154.5" r="0.9" fill="rgb(157,157,157)" opacity="0.54"/>
<circle cx="150.7" cy="36.1" r="0.5" fill="rgb(108,108,108)" opacity="0.73"/>
<circle cx="209.7" cy="140.5" r="1.0" fill="rgb(107,107,107)" opacity="0.57"/>
<circle cx="155.1" cy="104.3" r="1.2" fill="rgb(149,149,149)" opacity="0.33"/>
<circle cx="238.4" cy="157.6" r="0.7" fill="rgb(91,91,91)" opacity="0.60"/>
<circle cx="122.6" cy="179.5" r="0.9" fill="rgb(145,145,145)" opacity="0.54"/>
<circle cx="126.6" cy="174.6" r="0.5" fill="rgb(108,108,108)" opacity="0.52"/>
<circle cx="137.7" cy="121.1" r="0.7" fill="rgb(117,117,117)" opacity="0.29"/>
<circle cx="156.8" cy="71.3" r="0.6" fill="rgb(132,132,132)" opacity="0.63"/>
<circle cx="211.2" cy="96.8" r="0.7" fill="rgb(143,143,143)" opacity="0.40"/>
<circle cx="137.0" cy="153.2" r="1.0" fill="rgb(90,90,90)" opacity="0.26"/>
<circle cx="143.4" cy="197.1" r="1.0" fill="rgb(112,112,112)" opacity="0.71"/>
<circle cx="139.6" cy="150.8" r="0.7" fill="rgb(105,105,105)" opacity="0.52"/>
<circle cx="236.7" cy="205.1" r="0.6" fill="rgb(144,144,144)" opacity="0.72"/>
<circle cx="196.5" cy="62.8" r="0.8" fill="rgb(122,122,122)" opacity="0.41"/>
<circle cx="166.2" cy="151.7" r="0.7" fill="rgb(123,123,123)" opacity="0.50"/>
<circle cx="236.8" cy="128.7" r="0.6" fill="rgb(124,124,124)" opacity="0.72"/>
<circle cx="236.0" cy="61.7" r="1.0" fill="rgb(94,94,94)" opacity="0.40"/>
<circle cx="256.7" cy="145.8" r="0.8" fill="rgb(137,137,137)" opacity="0.57"/>
<circle cx="190.9" cy="216.9" r="0.8" fill="rgb(164,164,164)" opacity="0.60"/>
<circle cx="177.6" cy="128.8" r="0.9" fill="rgb(127,127,127)" opacity="0.42"/>
<circle cx="200.1" cy="62.5" r="0.8" fill="rgb(153,153,153)" opacity="0.43"/>
<circle cx="149.6" cy="41.5" r="0.9" fill="rgb(129,129,129)" opacity="0.35"/>
<circle cx="232.9" cy="61.1" r="0.7" fill="rgb(107,107,107)" opacity="0.48"/>
<circle cx="149.5" cy="167.1" r="0.7" fill="rgb(166,166,166)" opacity="0.57"/>
<circle cx="237.2" cy="138.4" r="0.5" fill="rgb(157,157,157)" opacity="0.59"/>
<circle cx="178.3" cy="169.9" r="1.0" fill="rgb(140,140,140)" opacity="0.68"/>
<circle cx="134.6" cy="29.6" r="0.8" fill="rgb(93,93,93)" opacity="0.35"/>
<circle cx="199.6" cy="173.2" r="0.7" fill="rgb(132,132,132)" opacity="0.67"/>
<circle cx="237.8" cy="205.4" r="0.5" fill="rgb(159,159,159)" opacity="0.49"/>
<circle cx="177.2" cy="62.8" r="1.2" fill="rgb(150,150,150)" opacity="0.57"/>
<circle cx="232.5" cy="176.6" r="0.9" fill="rgb(120,120,120)" opacity="0.42"/>
<circle cx="235.6" cy="44.3" r="0.6" fill="rgb(94,94,94)" opacity="0.33"/>
<circle cx="227.9" cy="106.9" r="0.5" fill="rgb(133,133,133)" opacity="0.54"/>
<circle cx="209.7" cy="61.0" r="0.7" fill="rgb(112,112,112)" opacity="0.35"/>
<circle cx="145.1" cy="152.1" r="1.2" fill="rgb(144,144,144)" opacity="0.73"/>
<circle cx="161.8" cy="182.0" r="0.6" fill="rgb(98,98,98)" opacity="0.67"/>
<circle cx="155.4" cy="128.5" r="1.2" fill="rgb(97,97,97)" opacity="0.61"/>
<circle cx="149.2" cy="60.9" r="1.0" fill="rgb(167,167,167)" opacity="0.40"/>
<circle cx="120.5" cy="74.1" r="1.0" fill="rgb(162,162,162)" opacity="0.54"/>
<circle cx="167.1" cy="209.1" r="0.6" fill="rgb(104,104,104)" opacity="0.54"/>
<circle cx="152.0" cy="195.5" r="1.2" fill="rgb(93,93,93)" opacity="0.62"/>
<circle cx="86.8" cy="141.3" r="0.5" fill="rgb(122,122,122)" opacity="0.72"/>
<circle cx="217.8" cy="76.0" r="1.0" fill="rgb(151,151,151)" opacity="0.30"/>
<circle cx="125.4" cy="135.4" r="0.7" fill="rgb(93,93,93)" opacity="0.72"/>
<circle cx="185.6" cy="40.7" r="0.7" fill="rgb(113,113,113)" opacity="0.60"/>
<circle cx="184.7" cy="80.4" r="0.8" fill="rgb(97,97,97)" opacity="0.52"/>
<circle cx="78.8" cy="169.7" r="1.0" fill="rgb(95,95,95)" opacity="0.46"/>
<circle cx="146.2" cy="185.4" r="0.7" fill="rgb(133,133,133)" opacity="0.29"/>
<circle cx="200.9" cy="177.9" r="0.5" fill="rgb(135,135,135)" opacity="0.42"/>
<circle cx="252.8" cy="129.1" r="0.8" fill="rgb(100,100,100)" opacity="0.32"/>
<circle cx="125.5" cy="145.7" r="0.5" fill="rgb(164,164,164)" opacity="0.73"/>
<circle cx="150.9" cy="35.4" r="0.7" fill="rgb(136,136,136)" opacity="0.27"/>
<circle cx="141.9" cy="44.4" r="0.5" fill="rgb(137,137,137)" opacity="0.32"/>
<circle cx="99.6" cy="84.9" r="0.6" fill="rgb(116,116,116)" opacity="0.28"/>
<circle cx="227.0" cy="74.7" r="0.5" fill="rgb(152,152,152)" opacity="0.53"/>
<circle cx="189.5" cy="147.8" r="1.2" fill="rgb(95,95,95)" opacity="0.52"/>
<circle cx="94.3" cy="173.5" r="0.5" fill="rgb(111,111,111)" opacity="0.40"/>
<circle cx="254.1" cy="81.4" r="1.0" fill="rgb(116,116,116)" opacity="0.50"/>
<circle cx="115.1" cy="125.3" r="0.8" fill="rgb(123,123,123)" opacity="0.33"/>
<circle cx="180.5" cy="134.1" r="1.0" fill="rgb(157,157,157)" opacity="0.42"/>
<circle cx="195.0" cy="62.9" r="0.9" fill="rgb(95,95,95)" opacity="0.37"/>
<circle cx="231.5" cy="61.4" r="0.7" fill="rgb(156,156,156)" opacity="0.28"/>
<circle cx="127.8" cy="136.0" r="0.6" fill="rgb(162,162,162)" opacity="0.31"/>
<circle cx="254.4" cy="86.8" r="0.6" fill="rgb(92,92,92)" opacity="0.45"/>
<circle cx="243.3" cy="179.7" r="0.8" fill="rgb(159,159,159)" opacity="0.72"/>
<circle cx="181.6" cy="43.0" r="1.0" fill="rgb(142,142,142)" opacity="0.67"/>
<circle cx="201.9" cy="192.0" r="0.7" fill="rgb(154,154,154)" opacity="0.53"/>
<circle cx="173.2" cy="58.3" r="1.2" fill="rgb(169,169,169)" opacity="0.39"/>
<circle cx="275.5" cy="119.3" r="0.9" fill="rgb(135,135,135)" opacity="0.69"/>
<circle cx="131.4" cy="79.9" r="0.9" fill="rgb(158,158,158)" opacity="0.35"/>
<circle cx="212.9" cy="122.3" r="0.6" fill="rgb(137,137,137)" opacity="0.31"/>
<circle cx="98.6" cy="143.4" r="0.5" fill="rgb(90,90,90)" opacity="0.67"/>
<circle cx="184.8" cy="191.3" r="0.7" fill="rgb(108,108,108)" opacity="0.43"/>
<circle cx="256.6" cy="75.8" r="0.9" fill="rgb(108,108,108)" opacity="0.53"/>
<circle cx="75.2" cy="141.3" r="1.2" fill="rgb(104,104,104)" opacity="0.46"/>
<circle cx="257.2" cy="165.7" r="1.2" fill="rgb(149,149,149)" opacity="0.47"/>
<circle cx="189.2" cy="196.5" r="0.6" fill="rgb(109,109,109)" opacity="0.34"/>
<circle cx="224.5" cy="207.3" r="0.6" fill="rgb(159,159,159)" opacity="0.64"/>
<circle cx="165.0" cy="199.4" r="0.5" fill="rgb(126,126,126)" opacity="0.30"/>
<circle cx="243.8" cy="161.3" r="0.5" fill="rgb(108,108,108)" opacity="0.37"/>
<circle cx="131.2" cy="48.5" r="1.0" fill="rgb(93,93,93)" opacity="0.53"/>
<circle cx="215.8" cy="82.2" r="0.5" fill="rgb(95,95,95)" opacity="0.36"/>
<circle cx="161.4" cy="73.9" r="0.5" fill="rgb(133,133,133)" opacity="0.41"/>
<circle cx="102.5" cy="113.8" r="1.0" fill="rgb(133,133,133)" opacity="0.29"/>
<circle cx="169.8" cy="57.2" r="1.0" fill="rgb(95,95,95)" opacity="0.72"/>
<circle cx="203.6" cy="170.5" r="0.6" fill="rgb(150,150,150)" opacity="0.40"/>
<circle cx="189.2" cy="205.1" r="0.9" fill="rgb(146,146,146)" opacity="0.44"/>
<circle cx="136.1" cy="200.4" r="0.9" fill="rgb(133,133,133)" opacity="0.36"/>
<circle cx="163.3" cy="184.4" r="0.8" fill="rgb(129,129,129)" opacity="0.26"/>
<circle cx="194.2" cy="146.0" r="0.5" fill="rgb(149,149,149)" opacity="0.60"/>
<circle cx="190.5" cy="208.0" r="1.2" fill="rgb(126,126,126)" opacity="0.74"/>
<circle cx="163.4" cy="155.8" r="1.2" fill="rgb(99,99,99)" opacity="0.28"/>
<circle cx="133.1" cy="215.7" r="0.7" fill="rgb(93,93,93)" opacity="0.29"/>
<circle cx="249.1" cy="195.3" r="0.8" fill="rgb(163,163,163)" opacity="0.67"/>
<circle cx="104.4" cy="176.2" r="0.5" fill="rgb(166,166,166)" opacity="0.51"/>
<circle cx="148.0" cy="229.4" r="0.7" fill="rgb(112,112,112)" opacity="0.50"/>
<circle cx="171.5" cy="48.8" r="0.9" fill="rgb(107,107,107)" opacity="0.57"/>
<circle cx="263.0" cy="143.9" r="0.9" fill="rgb(134,134,134)" opacity="0.41"/>
<circle cx="134.4" cy="122.7" r="1.2" fill="rgb(116,116,116)" opacity="0.66"/>
<circle cx="131.2" cy="152.2" r="1.0" fill="rgb(92,92,92)" opacity="0.45"/>
<circle cx="217.4" cy="38.4" r="0.9" fill="rgb(143,143,143)" opacity="0.68"/>
<circle cx="90.1" cy="107.2" r="1.0" fill="rgb(112,112,112)" opacity="0.50"/>
<circle cx="80.9" cy="80.0" r="1.2" fill="rgb(104,104,104)" opacity="0.72"/>
<circle cx="210.6" cy="102.1" r="1.0" fill="rgb(164,164,164)" opacity="0.45"/>
<circle cx="83.3" cy="163.6" r="1.2" fill="rgb(123,123,123)" opacity="0.61"/>
<circle cx="177.8" cy="196.4" r="1.0" fill="rgb(148,148,148)" opacity="0.27"/>
<circle cx="250.4" cy="61.8" r="0.8" fill="rgb(112,112,112)" opacity="0.38"/>
<circle cx="166.8" cy="152.0" r="0.6" fill="rgb(91,91,91)" opacity="0.52"/>
<circle cx="110.6" cy="62.3" r="0.5" fill="rgb(151,151,151)" opacity="0.26"/>
<circle cx="187.4" cy="64.9" r="0.5" fill="rgb(150,150,150)" opacity="0.57"/>
<circle cx="207.3" cy="169.5" r="0.6" fill="rgb(113,113,113)" opacity="0.32"/>
<circle cx="198.5" cy="83.3" r="0.9" fill="rgb(168,168,168)" opacity="0.62"/>
<circle cx="272.6" cy="106.6" r="0.9" fill="rgb(97,97,97)" opacity="0.41"/>
<circle cx="251.5" cy="68.1" r="0.5" fill="rgb(154,154,154)" opacity="0.69"/>
<circle cx="88.2" cy="94.2" r="0.5" fill="rgb(158,158,158)" opacity="0.58"/>
<circle cx="209.4" cy="160.3" r="0.6" fill="rgb(134,134,134)" opacity="0.67"/>
<circle cx="118.8" cy="117.2" r="0.5" fill="rgb(168,168,168)" opacity="0.65"/>
<circle cx="271.4" cy="147.7" r="1.2" fill="rgb(150,150,150)" opacity="0.74"/>
<circle cx="239.8" cy="115.2" r="0.7" fill="rgb(148,148,148)" opacity="0.71"/>
<circle cx="66.4" cy="146.4" r="0.7" fill="rgb(101,101,101)" opacity="0.44"/>
<circle cx="174.5" cy="86.1" r="0.7" fill="rgb(128,128,128)" opacity="0.61"/>
<circle cx="256.3" cy="127.3" r="1.2" fill="rgb(122,122,122)" opacity="0.26"/>
<circle cx="120.2" cy="133.0" r="1.2" fill="rgb(107,107,107)" opacity="0.34"/>
<circle cx="237.7" cy="92.1" r="0.8" fill="rgb(143,143,143)" opacity="0.53"/>
<circle cx="245.2" cy="55.5" r="0.9" fill="rgb(133,133,133)" opacity="0.46"/>
<circle cx="247.9" cy="95.6" r="0.6" fill="rgb(99,99,99)" opacity="0.40"/>
<circle cx="202.9" cy="77.3" r="0.9" fill="rgb(98,98,98)" opacity="0.58"/>
<circle cx="165.3" cy="51.1" r="0.9" fill="rgb(100,100,100)" opacity="0.50"/>
<circle cx="107.0" cy="212.4" r="1.0" fill="rgb(155,155,155)" opacity="0.33"/>
<circle cx="196.5" cy="148.1" r="0.6" fill="rgb(135,135,135)" opacity="0.69"/>
<circle cx="75.7" cy="110.4" r="0.6" fill="rgb(129,129,129)" opacity="0.29"/>
<circle cx="240.6" cy="151.9" r="1.0" fill="rgb(158,158,158)" opacity="0.72"/>
<circle cx="249.2" cy="176.6" r="1.0" fill="rgb(159,159,159)" opacity="0.58"/>
<circle cx="96.8" cy="115.7" r="0.6" fill="rgb(139,139,139)" opacity="0.26"/>
<circle cx="235.3" cy="171.7" r="1.0" fill="rgb(120,120,120)" opacity="0.71"/>
<circle cx="171.6" cy="186.7" r="0.5" fill="rgb(101,101,101)" opacity="0.49"/>
<circle cx="154.0" cy="33.2" r="1.2" fill="rgb(100,100,100)" opacity="0.44"/>
<circle cx="193.1" cy="114.5" r="0.9" fill="rgb(124,124,124)" opacity="0.64"/>
<circle cx="207.3" cy="148.9" r="1.2" fill="rgb(105,105,105)" opacity="0.38"/>
<circle cx="253.5" cy="142.1" r="0.8" fill="rgb(114,114,114)" opacity="0.55"/>
<circle cx="192.8" cy="213.7" r="0.6" fill="rgb(97,97,97)" opacity="0.68"/>
<circle cx="119.5" cy="36.9" r="0.7" fill="rgb(104,104,104)" opacity="0.51"/>
<circle cx="235.0" cy="144.3" r="1.0" fill="rgb(114,114,114)" opacity="0.34"/>
<circle cx="236.6" cy="77.9" r="0.8" fill="rgb(105,105,105)" opacity="0.50"/>
<circle cx="85.6" cy="187.3" r="1.2" fill="rgb(125,125,125)" opacity="0.29"/>
<circle cx="209.9" cy="153.3" r="0.7" fill="rgb(101,101,101)" opacity="0.43"/>
<circle cx="246.5" cy="157.9" r="0.5" fill="rgb(145,145,145)" opacity="0.34"/>
<circle cx="196.2" cy="85.4" r="0.5" fill="rgb(128,128,128)" opacity="0.34"/>
<circle cx="140.7" cy="182.0" r="0.8" fill="rgb(98,98,98)" opacity="0.51"/>
<circle cx="230.2" cy="204.7" r="0.5" fill="rgb(164,164,164)" opacity="0.53"/>
<circle cx="198.0" cy="191.9" r="0.9" fill="rgb(93,93,93)" opacity="0.73"/>
<circle cx="94.2" cy="133.6" r="1.0" fill="rgb(113,113,113)" opacity="0.52"/>
<circle cx="157.3" cy="71.6" r="1.0" fill="rgb(138,138,138)" opacity="0.75"/>
<circle cx="122.9" cy="198.8" r="0.9" fill="rgb(140,140,140)" opacity="0.43"/>
<circle cx="115.3" cy="43.2" r="0.5" fill="rgb(93,93,93)" opacity="0.47"/>
<circle cx="89.9" cy="64.1" r="0.7" fill="rgb(132,132,132)" opacity="0.32"/>
<circle cx="107.1" cy="75.3" r="0.8" fill="rgb(144,144,144)" opacity="0.26"/>
<circle cx="140.4" cy="98.3" r="0.5" fill="rgb(157,157,157)" opacity="0.62"/>
<circle cx="250.7" cy="91.4" r="0.9" fill="rgb(156,156,156)" opacity="0.42"/>
<circle cx="261.2" cy="77.7" r="0.5" fill="rgb(120,120,120)" opacity="0.56"/>
<circle cx="237.7" cy="154.3" r="0.6" fill="rgb(117,117,117)" opacity="0.74"/>
<circle cx="144.8" cy="157.0" r="0.8" fill="rgb(155,155,155)" opacity="0.70"/>
<circle cx="213.8" cy="41.5" r="0.8" fill="rgb(110,110,110)" opacity="0.67"/>
<circle cx="239.7" cy="136.8" r="0.9" fill="rgb(138,138,138)" opacity="0.50"/>
<circle cx="189.5" cy="136.2" r="0.6" fill="rgb(167,167,167)" opacity="0.51"/>
<circle cx="204.6" cy="219.7" r="1.0" fill="rgb(145,145,145)" opacity="0.74"/>
<circle cx="117.9" cy="206.5" r="1.2" fill="rgb(163,163,163)" opacity="0.26"/>
<circle cx="260.5" cy="97.9" r="0.6" fill="rgb(93,93,93)" opacity="0.52"/>
<circle cx="130.7" cy="186.4" r="0.8" fill="rgb(170,170,170)" opacity="0.69"/>
<circle cx="221.1" cy="100.4" r="1.0" fill="rgb(98,98,98)" opacity="0.36"/>
<circle cx="258.3" cy="134.9" r="0.6" fill="rgb(136,136,136)" opacity="0.35"/>
<circle cx="208.6" cy="76.0" r="0.6" fill="rgb(105,105,105)" opacity="0.65"/>
<circle cx="207.5" cy="157.5" r="0.6" fill="rgb(135,135,135)" opacity="0.75"/>
<circle cx="133.9" cy="156.7" r="0.5" fill="rgb(130,130,130)" opacity="0.72"/>
<circle cx="156.3" cy="188.4" r="0.6" fill="rgb(134,134,134)" opacity="0.62"/>
<circle cx="152.6" cy="45.4" r="1.0" fill="rgb(166,166,166)" opacity="0.35"/>
<circle cx="251.1" cy="161.0" r="1.0" fill="rgb(156,156,156)" opacity="0.62"/>
<circle cx="107.8" cy="75.6" r="1.0" fill="rgb(113,113,113)" opacity="0.66"/>
<circle cx="116.8" cy="64.5" r="0.9" fill="rgb(100,100,100)" opacity="0.49"/>
<circle cx="183.8" cy="81.0" r="1.2" fill="rgb(97,97,97)" opacity="0.62"/>
<circle cx="155.0" cy="25.4" r="0.5" fill="rgb(94,94,94)" opacity="0.34"/>
<circle cx="118.5" cy="94.2" r="0.6" fill="rgb(156,156,156)" opacity="0.59"/>
<circle cx="160.1" cy="179.5" r="0.8" fill="rgb(121,121,121)" opacity="0.63"/>
<circle cx="178.5" cy="223.5" r="1.0" fill="rgb(112,112,112)" opacity="0.37"/>
<circle cx="86.2" cy="103.7" r="0.9" fill="rgb(153,153,153)" opacity="0.35"/>
<circle cx="81.4" cy="92.5" r="0.8" fill="rgb(136,136,136)" opacity="0.69"/>
<circle cx="119.5" cy="196.1" r="0.7" fill="rgb(164,164,164)" opacity="0.66"/>
<circle cx="164.0" cy="36.2" r="0.7" fill="rgb(133,133,133)" opacity="0.37"/>
<circle cx="230.6" cy="60.8" r="0.5" fill="rgb(97,97,97)" opacity="0.47"/>
<circle cx="251.9" cy="156.0" r="0.7" fill="rgb(96,96,96)" opacity="0.50"/>
<circle cx="134.6" cy="161.8" r="0.7" fill="rgb(111,111,111)" opacity="0.55"/>
<circle cx="242.4" cy="162.8" r="0.9" fill="rgb(130,130,130)" opacity="0.71"/>
<circle cx="220.8" cy="127.5" r="0.9" fill="rgb(109,109,109)" opacity="0.52"/>
<circle cx="177.9" cy="129.4" r="1.0" fill="rgb(111,111,111)" opacity="0.53"/>
<circle cx="133.3" cy="57.7" r="0.6" fill="rgb(163,163,163)" opacity="0.37"/>
<circle cx="164.8" cy="46.2" r="0.6" fill="rgb(98,98,98)" opacity="0.65"/>
<circle cx="231.7" cy="141.2" r="0.6" fill="rgb(108,108,108)" opacity="0.64"/>
<circle cx="267.8" cy="149.2" r="0.9" fill="rgb(91,91,91)" opacity="0.34"/>
<circle cx="144.8" cy="63.0" r="0.5" fill="rgb(105,105,105)" opacity="0.39"/>
<circle cx="148.2" cy="163.9" r="0.5" fill="rgb(165,165,165)" opacity="0.26"/>
<circle cx="207.0" cy="70.3" r="1.0" fill="rgb(132,132,132)" opacity="0.46"/>
<circle cx="256.6" cy="137.1" r="1.2" fill="rgb(151,151,151)" opacity="0.46"/>
</g>
<g filter="url(#blur2)" fill="#0c0c0c">
<path d="M97,138 L102,135 L106,130 L110,135 L113,140 L113,151 L111,162 L108,170 L102,175 L97,174 L98,164 L96,152 Z"/>
<path d="M100,142 L108,139 L111,150 L109,164 L102,168 Z"/>
<path d="M86,156 L96,152 L99,165 L97,177 L88,177 Z" opacity="0.85"/>
<path d="M87,134 L95,132 L96,146 L88,147 Z" opacity="0.75"/>
</g>
<g filter="url(#blur1)" fill="none" stroke="#5a5a5a" stroke-width="1.6" opacity="0.8">
<path d="M128,165 Q122,140 145,132 Q160,130 162,140"/>
<path d="M134,162 Q130,146 146,140 Q155,139 157,146"/>
<path d="M120,150 Q125,128 150,124"/>
</g>
<g filter="url(#blur3)" fill="#0c0c0c" opacity="0.9">
<ellipse cx="83" cy="142" rx="4" ry="7" opacity="0.5"/>
<ellipse cx="90" cy="176" rx="5" ry="4" opacity="0.6"/>
<ellipse cx="140" cy="187" rx="10" ry="7" opacity="0.35"/>
<path d="M160,147 L168,144 L170,156 L169,166 L162,164 Z"/>
<ellipse cx="231" cy="121" rx="4" ry="4" opacity="0.8"/>
<ellipse cx="137" cy="33" rx="6" ry="3"/>
<ellipse cx="150" cy="222" rx="25" ry="5" opacity="0.3"/>
</g>
<g fill="#777" filter="url(#blurS)">
<circle cx="101" cy="147" r="1" opacity="0.6"/><circle cx="107" cy="158" r="0.9" opacity="0.5"/><circle cx="97" cy="165" r="1" opacity="0.6"/>
<circle cx="111" cy="143" r="0.8" opacity="0.5"/><circle cx="104" cy="171" r="1.2" opacity="0.7"/><circle cx="112" cy="170" r="1.3" opacity="0.8"/>
<circle cx="96" cy="140" r="0.8" opacity="0.5"/><circle cx="108" cy="136" r="1" opacity="0.7"/>
</g>
<g filter="url(#blur1)" fill="none" stroke="#6e6e6e" stroke-width="2" opacity="0.8">
<path d="M246,161 Q244,139 265,135"/>
<path d="M251,163 Q250,147 263,144"/>
<path d="M242,150 Q246,128 268,126"/>
</g>
<g filter="url(#blur3)" fill="#5c5c5c" opacity="0.6">
<ellipse cx="258" cy="150" rx="12" ry="14" opacity="0.6"/>
<ellipse cx="142" cy="146" rx="12" ry="11"/>
<ellipse cx="124" cy="24" rx="8" ry="5"/>
</g>
</g>
<g filter="url(#blur2)" fill="#fff">
<ellipse cx="58" cy="134" rx="4" ry="6.5"/>
<ellipse cx="280" cy="138" rx="3.5" ry="10"/>
</g>
<circle cx="170.6" cy="127.2" r="109.0" fill="none" stroke="#b0b0b0" stroke-width="2.6" opacity="0.5" filter="url(#blurR)"/>
<g mask="url(#outside2)"><g filter="url(#blur4)"><ellipse cx="170" cy="10" rx="52" ry="16" fill="#000" opacity="0.72"/></g></g>
<rect x="168.2" y="62" width="2.3" height="114.6" fill="#dcdcdc"/>
<rect x="48" y="244.6" width="236" height="4" fill="#000"/>
<rect x="48.5" y="13.5" width="234.5" height="234.4" fill="none" stroke="#000" stroke-width="1.2"/>
<g stroke="#000" stroke-width="1">
<line x1="56.70" y1="13" x2="56.70" y2="17.6"/>
<line x1="56.70" y1="248" x2="56.70" y2="243.4"/>
<line x1="48" y1="240.70" x2="52.6" y2="240.70"/>
<line x1="283.5" y1="240.70" x2="278.9" y2="240.70"/>
<line x1="67.92" y1="13" x2="67.92" y2="15.3"/>
<line x1="67.92" y1="248" x2="67.92" y2="245.7"/>
<line x1="48" y1="229.48" x2="50.3" y2="229.48"/>
<line x1="283.5" y1="229.48" x2="281.2" y2="229.48"/>
<line x1="79.14" y1="13" x2="79.14" y2="15.3"/>
<line x1="79.14" y1="248" x2="79.14" y2="245.7"/>
<line x1="48" y1="218.26" x2="50.3" y2="218.26"/>
<line x1="283.5" y1="218.26" x2="281.2" y2="218.26"/>
<line x1="90.36" y1="13" x2="90.36" y2="15.3"/>
<line x1="90.36" y1="248" x2="90.36" y2="245.7"/>
<line x1="48" y1="207.04" x2="50.3" y2="207.04"/>
<line x1="283.5" y1="207.04" x2="281.2" y2="207.04"/>
<line x1="101.58" y1="13" x2="101.58" y2="15.3"/>
<line x1="101.58" y1="248" x2="101.58" y2="245.7"/>
<line x1="48" y1="195.82" x2="50.3" y2="195.82"/>
<line x1="283.5" y1="195.82" x2="281.2" y2="195.82"/>
<line x1="112.80" y1="13" x2="112.80" y2="17.6"/>
<line x1="112.80" y1="248" x2="112.80" y2="243.4"/>
<line x1="48" y1="184.60" x2="52.6" y2="184.60"/>
<line x1="283.5" y1="184.60" x2="278.9" y2="184.60"/>
<line x1="124.02" y1="13" x2="124.02" y2="15.3"/>
<line x1="124.02" y1="248" x2="124.02" y2="245.7"/>
<line x1="48" y1="173.38" x2="50.3" y2="173.38"/>
<line x1="283.5" y1="173.38" x2="281.2" y2="173.38"/>
<line x1="135.24" y1="13" x2="135.24" y2="15.3"/>
<line x1="135.24" y1="248" x2="135.24" y2="245.7"/>
<line x1="48" y1="162.16" x2="50.3" y2="162.16"/>
<line x1="283.5" y1="162.16" x2="281.2" y2="162.16"/>
<line x1="146.46" y1="13" x2="146.46" y2="15.3"/>
<line x1="146.46" y1="248" x2="146.46" y2="245.7"/>
<line x1="48" y1="150.94" x2="50.3" y2="150.94"/>
<line x1="283.5" y1="150.94" x2="281.2" y2="150.94"/>
<line x1="157.68" y1="13" x2="157.68" y2="15.3"/>
<line x1="157.68" y1="248" x2="157.68" y2="245.7"/>
<line x1="48" y1="139.72" x2="50.3" y2="139.72"/>
<line x1="283.5" y1="139.72" x2="281.2" y2="139.72"/>
<line x1="168.90" y1="13" x2="168.90" y2="17.6"/>
<line x1="168.90" y1="248" x2="168.90" y2="243.4"/>
<line x1="48" y1="128.50" x2="52.6" y2="128.50"/>
<line x1="283.5" y1="128.50" x2="278.9" y2="128.50"/>
<line x1="180.12" y1="13" x2="180.12" y2="15.3"/>
<line x1="180.12" y1="248" x2="180.12" y2="245.7"/>
<line x1="48" y1="117.28" x2="50.3" y2="117.28"/>
<line x1="283.5" y1="117.28" x2="281.2" y2="117.28"/>
<line x1="191.34" y1="13" x2="191.34" y2="15.3"/>
<line x1="191.34" y1="248" x2="191.34" y2="245.7"/>
<line x1="48" y1="106.06" x2="50.3" y2="106.06"/>
<line x1="283.5" y1="106.06" x2="281.2" y2="106.06"/>
<line x1="202.56" y1="13" x2="202.56" y2="15.3"/>
<line x1="202.56" y1="248" x2="202.56" y2="245.7"/>
<line x1="48" y1="94.84" x2="50.3" y2="94.84"/>
<line x1="283.5" y1="94.84" x2="281.2" y2="94.84"/>
<line x1="213.78" y1="13" x2="213.78" y2="15.3"/>
<line x1="213.78" y1="248" x2="213.78" y2="245.7"/>
<line x1="48" y1="83.62" x2="50.3" y2="83.62"/>
<line x1="283.5" y1="83.62" x2="281.2" y2="83.62"/>
<line x1="225.00" y1="13" x2="225.00" y2="17.6"/>
<line x1="225.00" y1="248" x2="225.00" y2="243.4"/>
<line x1="48" y1="72.40" x2="52.6" y2="72.40"/>
<line x1="283.5" y1="72.40" x2="278.9" y2="72.40"/>
<line x1="236.22" y1="13" x2="236.22" y2="15.3"/>
<line x1="236.22" y1="248" x2="236.22" y2="245.7"/>
<line x1="48" y1="61.18" x2="50.3" y2="61.18"/>
<line x1="283.5" y1="61.18" x2="281.2" y2="61.18"/>
<line x1="247.44" y1="13" x2="247.44" y2="15.3"/>
<line x1="247.44" y1="248" x2="247.44" y2="245.7"/>
<line x1="48" y1="49.96" x2="50.3" y2="49.96"/>
<line x1="283.5" y1="49.96" x2="281.2" y2="49.96"/>
<line x1="258.66" y1="13" x2="258.66" y2="15.3"/>
<line x1="258.66" y1="248" x2="258.66" y2="245.7"/>
<line x1="48" y1="38.74" x2="50.3" y2="38.74"/>
<line x1="283.5" y1="38.74" x2="281.2" y2="38.74"/>
<line x1="269.88" y1="13" x2="269.88" y2="15.3"/>
<line x1="269.88" y1="248" x2="269.88" y2="245.7"/>
<line x1="48" y1="27.52" x2="50.3" y2="27.52"/>
<line x1="283.5" y1="27.52" x2="281.2" y2="27.52"/>
<line x1="281.10" y1="13" x2="281.10" y2="17.6"/>
<line x1="281.10" y1="248" x2="281.10" y2="243.4"/>
<line x1="48" y1="16.30" x2="52.6" y2="16.30"/>
<line x1="283.5" y1="16.30" x2="278.9" y2="16.30"/>
</g>
</g>
<text x="165.3" y="8.9" text-anchor="middle" font-size="11.4" style="letter-spacing:0.5px;word-spacing:2px">2007 Mar 7 18:22</text>
<text x="53.8" y="28.6" font-size="13" style="fill:#e8e8e8;stroke:#e8e8e8">(a)</text>
<g font-size="10" text-anchor="end">
<text x="45.2" y="20.4">1000</text>
<text x="45.8" y="76.8">500</text>
<text x="46.1" y="133">0</text>
<text x="46.1" y="188.5">&#8722;500</text>
<text x="45.6" y="243.8">&#8722;1000</text>
</g>
<g font-size="10" text-anchor="middle">
<text x="57.6" y="261.6">&#8722;1000</text>
<text x="113.4" y="261.6">&#8722;500</text>
<text x="168.8" y="261.6">0</text>
<text x="224.6" y="261.6">500</text>
<text x="280.8" y="261.6">1000</text>
</g>
<text x="140" y="272.5" font-size="9" style="letter-spacing:0.55px">X (arcsecs)</text>
<text transform="translate(7.3,156.2) rotate(-90)" font-size="9.2" style="letter-spacing:0.6px">Y (arcsecs)</text>

<g stroke="#222" stroke-width="0.9">
<rect x="330.3" y="13.3" width="264.4" height="88.0" fill="none" stroke="#222" stroke-width="1"/>
<line x1="330.30" y1="101.3" x2="330.30" y2="99.5" />
<line x1="330.30" y1="13.3" x2="330.30" y2="15.100000000000001" />
<line x1="343.22" y1="101.3" x2="343.22" y2="100.3" />
<line x1="343.22" y1="13.3" x2="343.22" y2="14.3" />
<line x1="356.15" y1="101.3" x2="356.15" y2="100.3" />
<line x1="356.15" y1="13.3" x2="356.15" y2="14.3" />
<line x1="369.07" y1="101.3" x2="369.07" y2="100.3" />
<line x1="369.07" y1="13.3" x2="369.07" y2="14.3" />
<line x1="381.99" y1="101.3" x2="381.99" y2="99.5" />
<line x1="381.99" y1="13.3" x2="381.99" y2="15.100000000000001" />
<line x1="394.91" y1="101.3" x2="394.91" y2="100.3" />
<line x1="394.91" y1="13.3" x2="394.91" y2="14.3" />
<line x1="407.84" y1="101.3" x2="407.84" y2="100.3" />
<line x1="407.84" y1="13.3" x2="407.84" y2="14.3" />
<line x1="420.76" y1="101.3" x2="420.76" y2="100.3" />
<line x1="420.76" y1="13.3" x2="420.76" y2="14.3" />
<line x1="433.68" y1="101.3" x2="433.68" y2="99.5" />
<line x1="433.68" y1="13.3" x2="433.68" y2="15.100000000000001" />
<line x1="446.60" y1="101.3" x2="446.60" y2="100.3" />
<line x1="446.60" y1="13.3" x2="446.60" y2="14.3" />
<line x1="459.53" y1="101.3" x2="459.53" y2="100.3" />
<line x1="459.53" y1="13.3" x2="459.53" y2="14.3" />
<line x1="472.45" y1="101.3" x2="472.45" y2="100.3" />
<line x1="472.45" y1="13.3" x2="472.45" y2="14.3" />
<line x1="485.37" y1="101.3" x2="485.37" y2="99.5" />
<line x1="485.37" y1="13.3" x2="485.37" y2="15.100000000000001" />
<line x1="498.30" y1="101.3" x2="498.30" y2="100.3" />
<line x1="498.30" y1="13.3" x2="498.30" y2="14.3" />
<line x1="511.22" y1="101.3" x2="511.22" y2="100.3" />
<line x1="511.22" y1="13.3" x2="511.22" y2="14.3" />
<line x1="524.14" y1="101.3" x2="524.14" y2="100.3" />
<line x1="524.14" y1="13.3" x2="524.14" y2="14.3" />
<line x1="537.06" y1="101.3" x2="537.06" y2="99.5" />
<line x1="537.06" y1="13.3" x2="537.06" y2="15.100000000000001" />
<line x1="549.99" y1="101.3" x2="549.99" y2="100.3" />
<line x1="549.99" y1="13.3" x2="549.99" y2="14.3" />
<line x1="562.91" y1="101.3" x2="562.91" y2="100.3" />
<line x1="562.91" y1="13.3" x2="562.91" y2="14.3" />
<line x1="575.83" y1="101.3" x2="575.83" y2="100.3" />
<line x1="575.83" y1="13.3" x2="575.83" y2="14.3" />
<line x1="588.76" y1="101.3" x2="588.76" y2="99.5" />
<line x1="588.76" y1="13.3" x2="588.76" y2="15.100000000000001" />
<line x1="330.3" y1="101.30" x2="335.6" y2="101.30"/>
<line x1="594.7" y1="101.30" x2="589.4000000000001" y2="101.30"/>
<line x1="330.3" y1="88.05" x2="333.0" y2="88.05"/>
<line x1="594.7" y1="88.05" x2="592.0" y2="88.05"/>
<line x1="330.3" y1="80.31" x2="333.0" y2="80.31"/>
<line x1="594.7" y1="80.31" x2="592.0" y2="80.31"/>
<line x1="330.3" y1="74.81" x2="333.0" y2="74.81"/>
<line x1="594.7" y1="74.81" x2="592.0" y2="74.81"/>
<line x1="330.3" y1="70.55" x2="333.0" y2="70.55"/>
<line x1="594.7" y1="70.55" x2="592.0" y2="70.55"/>
<line x1="330.3" y1="67.06" x2="333.0" y2="67.06"/>
<line x1="594.7" y1="67.06" x2="592.0" y2="67.06"/>
<line x1="330.3" y1="64.12" x2="333.0" y2="64.12"/>
<line x1="594.7" y1="64.12" x2="592.0" y2="64.12"/>
<line x1="330.3" y1="61.56" x2="333.0" y2="61.56"/>
<line x1="594.7" y1="61.56" x2="592.0" y2="61.56"/>
<line x1="330.3" y1="59.31" x2="333.0" y2="59.31"/>
<line x1="594.7" y1="59.31" x2="592.0" y2="59.31"/>
<line x1="330.3" y1="57.30" x2="335.6" y2="57.30"/>
<line x1="594.7" y1="57.30" x2="589.4000000000001" y2="57.30"/>
<line x1="330.3" y1="44.05" x2="333.0" y2="44.05"/>
<line x1="594.7" y1="44.05" x2="592.0" y2="44.05"/>
<line x1="330.3" y1="36.31" x2="333.0" y2="36.31"/>
<line x1="594.7" y1="36.31" x2="592.0" y2="36.31"/>
<line x1="330.3" y1="30.81" x2="333.0" y2="30.81"/>
<line x1="594.7" y1="30.81" x2="592.0" y2="30.81"/>
<line x1="330.3" y1="26.55" x2="333.0" y2="26.55"/>
<line x1="594.7" y1="26.55" x2="592.0" y2="26.55"/>
<line x1="330.3" y1="23.06" x2="333.0" y2="23.06"/>
<line x1="594.7" y1="23.06" x2="592.0" y2="23.06"/>
<line x1="330.3" y1="20.12" x2="333.0" y2="20.12"/>
<line x1="594.7" y1="20.12" x2="592.0" y2="20.12"/>
<line x1="330.3" y1="17.56" x2="333.0" y2="17.56"/>
<line x1="594.7" y1="17.56" x2="592.0" y2="17.56"/>
<line x1="330.3" y1="15.31" x2="333.0" y2="15.31"/>
<line x1="594.7" y1="15.31" x2="592.0" y2="15.31"/>
<rect x="330.3" y="160.3" width="264.4" height="88.0" fill="none" stroke="#222" stroke-width="1"/>
<line x1="330.30" y1="248.3" x2="330.30" y2="246.5" />
<line x1="330.30" y1="160.3" x2="330.30" y2="162.10000000000002" />
<line x1="343.22" y1="248.3" x2="343.22" y2="247.3" />
<line x1="343.22" y1="160.3" x2="343.22" y2="161.3" />
<line x1="356.15" y1="248.3" x2="356.15" y2="247.3" />
<line x1="356.15" y1="160.3" x2="356.15" y2="161.3" />
<line x1="369.07" y1="248.3" x2="369.07" y2="247.3" />
<line x1="369.07" y1="160.3" x2="369.07" y2="161.3" />
<line x1="381.99" y1="248.3" x2="381.99" y2="246.5" />
<line x1="381.99" y1="160.3" x2="381.99" y2="162.10000000000002" />
<line x1="394.91" y1="248.3" x2="394.91" y2="247.3" />
<line x1="394.91" y1="160.3" x2="394.91" y2="161.3" />
<line x1="407.84" y1="248.3" x2="407.84" y2="247.3" />
<line x1="407.84" y1="160.3" x2="407.84" y2="161.3" />
<line x1="420.76" y1="248.3" x2="420.76" y2="247.3" />
<line x1="420.76" y1="160.3" x2="420.76" y2="161.3" />
<line x1="433.68" y1="248.3" x2="433.68" y2="246.5" />
<line x1="433.68" y1="160.3" x2="433.68" y2="162.10000000000002" />
<line x1="446.60" y1="248.3" x2="446.60" y2="247.3" />
<line x1="446.60" y1="160.3" x2="446.60" y2="161.3" />
<line x1="459.53" y1="248.3" x2="459.53" y2="247.3" />
<line x1="459.53" y1="160.3" x2="459.53" y2="161.3" />
<line x1="472.45" y1="248.3" x2="472.45" y2="247.3" />
<line x1="472.45" y1="160.3" x2="472.45" y2="161.3" />
<line x1="485.37" y1="248.3" x2="485.37" y2="246.5" />
<line x1="485.37" y1="160.3" x2="485.37" y2="162.10000000000002" />
<line x1="498.30" y1="248.3" x2="498.30" y2="247.3" />
<line x1="498.30" y1="160.3" x2="498.30" y2="161.3" />
<line x1="511.22" y1="248.3" x2="511.22" y2="247.3" />
<line x1="511.22" y1="160.3" x2="511.22" y2="161.3" />
<line x1="524.14" y1="248.3" x2="524.14" y2="247.3" />
<line x1="524.14" y1="160.3" x2="524.14" y2="161.3" />
<line x1="537.06" y1="248.3" x2="537.06" y2="246.5" />
<line x1="537.06" y1="160.3" x2="537.06" y2="162.10000000000002" />
<line x1="549.99" y1="248.3" x2="549.99" y2="247.3" />
<line x1="549.99" y1="160.3" x2="549.99" y2="161.3" />
<line x1="562.91" y1="248.3" x2="562.91" y2="247.3" />
<line x1="562.91" y1="160.3" x2="562.91" y2="161.3" />
<line x1="575.83" y1="248.3" x2="575.83" y2="247.3" />
<line x1="575.83" y1="160.3" x2="575.83" y2="161.3" />
<line x1="588.76" y1="248.3" x2="588.76" y2="246.5" />
<line x1="588.76" y1="160.3" x2="588.76" y2="162.10000000000002" />
<line x1="330.3" y1="248.30" x2="335.6" y2="248.30"/>
<line x1="594.7" y1="248.30" x2="589.4000000000001" y2="248.30"/>
<line x1="330.3" y1="246.10" x2="333.0" y2="246.10"/>
<line x1="594.7" y1="246.10" x2="592.0" y2="246.10"/>
<line x1="330.3" y1="243.90" x2="333.0" y2="243.90"/>
<line x1="594.7" y1="243.90" x2="592.0" y2="243.90"/>
<line x1="330.3" y1="241.70" x2="333.0" y2="241.70"/>
<line x1="594.7" y1="241.70" x2="592.0" y2="241.70"/>
<line x1="330.3" y1="239.50" x2="333.0" y2="239.50"/>
<line x1="594.7" y1="239.50" x2="592.0" y2="239.50"/>
<line x1="330.3" y1="237.30" x2="333.0" y2="237.30"/>
<line x1="594.7" y1="237.30" x2="592.0" y2="237.30"/>
<line x1="330.3" y1="235.10" x2="333.0" y2="235.10"/>
<line x1="594.7" y1="235.10" x2="592.0" y2="235.10"/>
<line x1="330.3" y1="232.90" x2="333.0" y2="232.90"/>
<line x1="594.7" y1="232.90" x2="592.0" y2="232.90"/>
<line x1="330.3" y1="230.70" x2="333.0" y2="230.70"/>
<line x1="594.7" y1="230.70" x2="592.0" y2="230.70"/>
<line x1="330.3" y1="228.50" x2="333.0" y2="228.50"/>
<line x1="594.7" y1="228.50" x2="592.0" y2="228.50"/>
<line x1="330.3" y1="226.30" x2="335.6" y2="226.30"/>
<line x1="594.7" y1="226.30" x2="589.4000000000001" y2="226.30"/>
<line x1="330.3" y1="224.10" x2="333.0" y2="224.10"/>
<line x1="594.7" y1="224.10" x2="592.0" y2="224.10"/>
<line x1="330.3" y1="221.90" x2="333.0" y2="221.90"/>
<line x1="594.7" y1="221.90" x2="592.0" y2="221.90"/>
<line x1="330.3" y1="219.70" x2="333.0" y2="219.70"/>
<line x1="594.7" y1="219.70" x2="592.0" y2="219.70"/>
<line x1="330.3" y1="217.50" x2="333.0" y2="217.50"/>
<line x1="594.7" y1="217.50" x2="592.0" y2="217.50"/>
<line x1="330.3" y1="215.30" x2="333.0" y2="215.30"/>
<line x1="594.7" y1="215.30" x2="592.0" y2="215.30"/>
<line x1="330.3" y1="213.10" x2="333.0" y2="213.10"/>
<line x1="594.7" y1="213.10" x2="592.0" y2="213.10"/>
<line x1="330.3" y1="210.90" x2="333.0" y2="210.90"/>
<line x1="594.7" y1="210.90" x2="592.0" y2="210.90"/>
<line x1="330.3" y1="208.70" x2="333.0" y2="208.70"/>
<line x1="594.7" y1="208.70" x2="592.0" y2="208.70"/>
<line x1="330.3" y1="206.50" x2="333.0" y2="206.50"/>
<line x1="594.7" y1="206.50" x2="592.0" y2="206.50"/>
<line x1="330.3" y1="204.30" x2="335.6" y2="204.30"/>
<line x1="594.7" y1="204.30" x2="589.4000000000001" y2="204.30"/>
<line x1="330.3" y1="202.10" x2="333.0" y2="202.10"/>
<line x1="594.7" y1="202.10" x2="592.0" y2="202.10"/>
<line x1="330.3" y1="199.90" x2="333.0" y2="199.90"/>
<line x1="594.7" y1="199.90" x2="592.0" y2="199.90"/>
<line x1="330.3" y1="197.70" x2="333.0" y2="197.70"/>
<line x1="594.7" y1="197.70" x2="592.0" y2="197.70"/>
<line x1="330.3" y1="195.50" x2="333.0" y2="195.50"/>
<line x1="594.7" y1="195.50" x2="592.0" y2="195.50"/>
<line x1="330.3" y1="193.30" x2="333.0" y2="193.30"/>
<line x1="594.7" y1="193.30" x2="592.0" y2="193.30"/>
<line x1="330.3" y1="191.10" x2="333.0" y2="191.10"/>
<line x1="594.7" y1="191.10" x2="592.0" y2="191.10"/>
<line x1="330.3" y1="188.90" x2="333.0" y2="188.90"/>
<line x1="594.7" y1="188.90" x2="592.0" y2="188.90"/>
<line x1="330.3" y1="186.70" x2="333.0" y2="186.70"/>
<line x1="594.7" y1="186.70" x2="592.0" y2="186.70"/>
<line x1="330.3" y1="184.50" x2="333.0" y2="184.50"/>
<line x1="594.7" y1="184.50" x2="592.0" y2="184.50"/>
<line x1="330.3" y1="182.30" x2="335.6" y2="182.30"/>
<line x1="594.7" y1="182.30" x2="589.4000000000001" y2="182.30"/>
<line x1="330.3" y1="180.10" x2="333.0" y2="180.10"/>
<line x1="594.7" y1="180.10" x2="592.0" y2="180.10"/>
<line x1="330.3" y1="177.90" x2="333.0" y2="177.90"/>
<line x1="594.7" y1="177.90" x2="592.0" y2="177.90"/>
<line x1="330.3" y1="175.70" x2="333.0" y2="175.70"/>
<line x1="594.7" y1="175.70" x2="592.0" y2="175.70"/>
<line x1="330.3" y1="173.50" x2="333.0" y2="173.50"/>
<line x1="594.7" y1="173.50" x2="592.0" y2="173.50"/>
<line x1="330.3" y1="171.30" x2="333.0" y2="171.30"/>
<line x1="594.7" y1="171.30" x2="592.0" y2="171.30"/>
<line x1="330.3" y1="169.10" x2="333.0" y2="169.10"/>
<line x1="594.7" y1="169.10" x2="592.0" y2="169.10"/>
<line x1="330.3" y1="166.90" x2="333.0" y2="166.90"/>
<line x1="594.7" y1="166.90" x2="592.0" y2="166.90"/>
<line x1="330.3" y1="164.70" x2="333.0" y2="164.70"/>
<line x1="594.7" y1="164.70" x2="592.0" y2="164.70"/>
<line x1="330.3" y1="162.50" x2="333.0" y2="162.50"/>
<line x1="594.7" y1="162.50" x2="592.0" y2="162.50"/>
<line x1="330.3" y1="160.30" x2="335.6" y2="160.30"/>
<line x1="594.7" y1="160.30" x2="589.4000000000001" y2="160.30"/>
</g>
<polyline points="330.3,55.4 331.5,52.5 332.5,52.1 333.6,53.6 334.7,55.9 335.8,57.4 336.9,58.1 338.0,59.5 339.1,60.0 340.2,61.4 341.8,63.3 343.4,65.2 344.5,67.0 345.6,69.0 346.7,69.5 347.8,70.1 348.9,70.1 349.9,69.8 351.0,70.4 352.6,70.4 354.2,71.6 355.4,71.0 356.7,69.6 357.8,68.2 358.9,67.2 360.0,65.5 361.2,62.9 362.4,61.4 364.2,60.2 365.4,61.5 366.5,63.0 368.2,67.3 369.4,69.4 370.6,70.6 371.8,72.7 373.1,72.8 374.5,71.8 375.9,71.4 377.2,69.4 378.6,68.5 380.0,68.2 381.2,67.0 382.5,66.2 383.8,64.2 385.0,63.1 386.1,60.8 387.3,59.1 388.5,55.0 390.0,48.0 391.7,42.0 393.0,30.0 394.1,23.9 396.0,27.0 397.4,28.7 398.7,30.5 399.9,27.7 401.0,26.0 402.2,23.9 403.4,22.5 404.7,24.9 406.0,27.5 407.4,28.0 408.9,28.3 410.4,28.8 411.8,29.7 413.2,29.7 414.6,30.4 416.0,30.8 417.5,30.9 419.0,31.0 420.5,31.9 421.8,31.6 423.0,30.5 424.5,29.1 426.0,27.5 427.3,29.1 428.7,30.1 430.0,31.9 431.5,31.5 433.0,30.0 434.2,29.6 435.3,27.9 436.5,27.5 437.9,28.4 439.4,29.7 440.6,31.4 441.8,32.9 443.0,34.1 444.1,37.2 445.2,39.2 446.6,39.5 448.1,39.9 449.4,40.5 450.6,40.5 451.9,40.2 453.2,40.6 454.6,38.6 456.1,36.3 457.6,37.1 459.0,37.0 460.4,37.1 461.9,36.3 463.4,37.4 464.8,38.5 466.0,39.1 467.3,38.9 468.5,39.9 469.7,39.8 470.9,40.7 472.1,40.6 473.6,40.2 475.0,39.5 476.5,39.6 477.9,40.1 479.4,40.5 480.8,41.4 482.3,42.0 483.7,42.4 485.2,43.2 486.6,44.3 488.1,45.3 489.4,44.1 490.7,42.8 492.5,49.6 493.6,50.3 494.6,50.4 496.1,54.0 497.2,56.2 498.3,58.4 499.5,59.0 500.7,59.8 501.9,60.5 503.0,59.2 504.1,59.1 505.8,55.5 507.7,57.6 509.0,56.6 510.2,57.0 511.5,56.9 512.8,55.9 514.2,56.1 515.7,55.9 517.1,55.7 518.6,56.2 520.0,56.2 521.5,54.8 522.9,53.3 524.3,54.6 525.8,54.7 527.0,53.6 528.3,51.9 529.5,50.4 531.0,51.7 532.4,52.1 533.7,51.4 535.0,51.3 536.2,51.4 537.5,50.4 539.0,50.8 540.4,50.9 541.8,50.9 543.3,51.5 544.8,52.0 546.2,52.9 547.6,52.3 549.1,53.3 550.5,54.1 552.0,54.5 553.5,55.0 554.9,55.0 556.1,55.8 557.3,56.4 558.5,56.5 559.7,55.2 560.8,54.0 562.0,52.6 563.6,52.9 565.2,53.3 566.7,50.8 568.1,49.9 569.6,47.5 570.9,47.4 572.2,46.7 573.4,46.9 574.7,46.7 576.2,47.6 577.6,48.4 579.0,49.3 580.5,50.4 581.8,50.3 583.0,50.2 584.3,50.0 585.6,49.7 587.1,49.9 588.5,49.6 590.0,50.4 591.4,51.5 592.8,53.3 594.5,55.5" fill="none" stroke="#151515" stroke-width="1.1" stroke-linejoin="round"/>
<polyline points="330.3,88.0 330.8,62.0 331.5,60.6 332.0,61.4 333.1,64.0 334.2,65.2 335.3,67.0 336.4,67.4 337.5,67.9 338.2,66.0 338.8,69.0 340.3,72.0 341.6,73.8 342.8,77.0 344.0,78.4 345.2,81.1 346.3,81.9 347.4,82.0 348.5,81.9 349.9,82.7 351.2,82.7 352.6,83.5 353.7,83.1 354.8,82.6 355.9,81.9 357.5,80.4 359.1,78.6 360.4,76.4 361.6,75.3 362.6,73.1 363.7,71.2 364.3,67.0 366.0,74.5 367.0,76.2 368.0,78.2 369.3,80.4 370.5,82.6 371.8,83.6 373.1,83.9 374.5,82.7 375.9,81.4 377.2,79.9 378.6,78.3 380.0,77.3 381.2,75.6 382.5,74.7 383.8,74.5 385.0,73.6 386.1,71.5 387.3,70.0 389.0,61.0 390.5,55.0 392.0,48.0 393.5,38.0 394.4,34.1 395.4,35.4 396.5,37.0 398.0,39.1 399.5,39.9 400.5,38.0 401.5,36.0 402.6,34.4 403.8,32.6 405.2,35.1 406.7,38.5 408.2,38.2 409.7,39.2 411.2,39.9 411.8,37.0 412.4,40.0 413.6,39.6 414.8,40.3 416.0,40.5 417.4,41.6 418.9,41.4 420.3,41.4 420.5,42.8 420.9,41.4 422.3,40.2 423.6,40.6 425.0,39.2 426.2,40.6 427.5,41.4 428.8,42.6 430.0,42.8 431.3,42.3 432.6,41.3 433.9,39.7 435.2,39.7 436.5,38.0 437.9,40.0 439.4,40.6 440.9,41.5 442.3,43.5 443.4,46.9 444.5,49.4 445.7,50.1 446.9,50.1 448.1,50.5 449.6,50.8 451.0,51.0 452.4,51.9 453.9,51.5 455.0,48.6 456.1,45.7 456.6,47.5 457.8,48.2 459.0,47.9 460.5,46.9 461.9,47.0 463.4,45.7 464.4,47.8 465.5,48.6 467.0,48.8 468.4,49.2 469.9,49.4 471.4,50.8 472.8,50.8 474.0,50.6 475.3,49.6 476.5,49.1 477.5,49.5" fill="none" stroke="#000" stroke-width="1.25" stroke-linejoin="round"/>
<polyline points="482.3,52.5 483.8,53.0 485.2,54.4 486.7,55.1 488.1,56.2 489.2,55.6 490.3,54.7 491.4,57.5 492.5,59.8 493.6,59.9 494.6,61.3 495.7,64.1 496.8,68.5 498.3,70.0 499.6,71.4 500.9,71.8 502.4,70.7 503.8,70.4 504.9,68.5 506.0,67.5 507.1,69.0 508.2,68.9 509.5,68.1 510.8,68.0 512.0,66.7 513.3,66.0 514.8,67.0 516.2,67.5 517.6,66.4 519.1,66.7 520.5,66.0 521.7,65.9 523.0,64.6 524.2,63.8 525.3,64.9 526.4,65.3 527.6,64.1 528.8,61.7 530.0,61.0 531.2,62.3 532.4,63.0 533.6,63.8 534.8,63.2 536.0,62.4 537.1,63.4 538.3,62.5 539.5,62.2 540.4,61.7 541.9,62.5 543.3,63.2 544.8,63.4 546.2,63.5 547.7,64.5 549.1,64.0 550.5,65.0 552.0,64.9 553.5,65.4 554.9,66.7 556.3,67.2 557.8,67.1 559.3,65.3 560.7,64.1 562.2,63.5 563.7,63.4 565.1,64.2 566.4,63.5 567.7,61.2 569.0,60.1 570.3,58.4 571.6,57.8 572.8,57.9 574.1,57.5 575.4,57.4 576.7,58.0 578.0,59.3 579.2,60.2 580.5,60.9 581.8,61.5 583.1,61.1 584.4,61.4 585.7,61.2 587.0,60.6 588.5,61.8 589.9,61.6 591.4,61.7 593.1,64.2 594.5,68.0" fill="none" stroke="#000" stroke-width="1.25" stroke-linejoin="round"/>
<polyline points="330.5,204.1 332.0,203.9 333.5,204.1 335.1,203.6 336.6,203.8 337.8,204.1 338.9,204.5 340.2,204.2 341.6,204.4 343.0,204.4 344.4,205.0 345.6,204.8 346.8,205.0 348.0,204.5 349.2,204.7 350.4,204.6 351.6,204.4 352.8,204.4 354.1,205.0 355.3,205.2 356.6,205.6 358.0,206.4 359.1,205.3 360.3,204.8 361.6,204.9 363.0,205.7 364.6,205.8 366.2,206.4 367.4,206.5 368.6,206.2 369.8,205.7 371.6,206.4 373.5,206.6 374.9,207.4 376.2,207.7 377.7,207.7 379.5,209.1 380.9,208.9 382.3,208.2 383.4,207.3 384.5,206.8 385.6,206.4 386.8,206.4 388.1,207.0 389.5,207.3 390.7,207.7 392.0,208.1 393.2,208.0 394.4,208.5 395.6,208.0 396.8,208.5 398.0,208.5 399.3,208.4 400.5,208.2 401.7,208.0 402.9,207.5 404.1,207.5 405.3,207.8 406.5,207.8 407.7,208.5 408.9,208.4 410.2,208.0 411.4,207.3 412.6,207.5 413.8,207.4 415.0,207.7 416.2,207.9 417.4,207.5 418.6,207.3 420.0,207.4 421.4,206.8 422.5,207.1 423.6,206.8 425.2,206.2 426.8,205.5 428.0,205.9 429.1,206.4 430.5,207.4 431.8,208.2 433.0,207.9 434.3,207.5 435.5,207.5 437.0,207.2 438.5,207.5 440.0,207.1 441.4,206.6 442.7,206.4 444.1,206.6 445.7,207.1 447.3,207.3 448.5,206.8 449.7,206.7 450.9,206.4 452.2,205.4 453.6,204.5 455.5,203.5 457.3,204.5 459.1,206.8 460.9,204.5 462.3,201.4 464.1,203.2 465.2,204.2 466.4,205.5 467.7,205.5 469.1,205.4 470.5,204.5 471.9,203.6 473.2,203.2 474.4,202.8 475.6,202.4 476.8,202.3 477.9,202.5 479.1,202.3 480.2,202.5 481.4,202.7 482.6,203.0 483.9,202.8 485.1,203.1 486.4,203.2 487.5,202.4 488.6,200.9 490.5,199.4 491.7,199.1 492.9,199.1 494.1,199.5 495.5,199.5 496.8,200.0 498.2,200.2 499.6,200.1 500.9,199.8 502.3,200.0 503.6,198.7 505.0,197.7 506.4,197.1 507.7,197.0 508.9,197.2 510.2,197.1 511.4,197.7 512.7,198.2 514.1,198.8 515.5,199.1 516.9,198.6 518.2,197.5 519.4,197.5 520.6,197.0 521.8,196.4 523.6,197.7 525.5,199.3 526.9,199.6 528.2,199.1 529.4,198.5 530.6,198.6 531.8,198.6 533.1,198.1 534.5,196.8 536.4,196.8 538.2,194.1 540.0,196.8 541.4,197.7 543.0,197.0 544.5,195.9 545.9,195.4 547.3,195.0 548.6,195.6 550.0,195.5 551.8,197.3 553.1,198.3 554.5,199.1 555.9,199.1 557.3,198.6 558.5,198.6 559.7,198.7 560.9,199.1 562.0,199.0 563.2,198.7 564.4,198.8 565.5,198.8 567.0,198.5 568.5,197.3 570.0,196.8 571.5,196.7 573.0,197.0 574.5,197.7 575.7,197.1 577.0,197.3 578.2,196.8 579.6,196.6 580.9,196.5 582.2,196.3 583.6,196.5 584.8,196.9 585.9,196.4 587.1,196.2 588.2,196.4 589.5,195.6 590.9,195.5 592.3,194.1 593.5,192.3 594.5,191.4" fill="none" stroke="#1a1a1a" stroke-width="1.0" stroke-linejoin="round"/>
<polyline points="330.5,212.0 331.0,208.6 332.5,207.3 333.9,206.5 335.3,205.5 336.6,206.2 338.0,206.4 339.8,208.2 341.6,209.5 343.5,209.1 345.3,210.3 346.6,210.2 348.0,209.5 349.1,210.1 350.3,210.0 351.4,209.8 352.5,209.1 353.6,209.8 354.8,209.8 356.0,208.7 357.1,208.5 358.2,209.0 359.4,209.5 360.8,209.5 362.1,208.8 363.2,208.8 364.4,208.6 366.2,210.5 367.5,211.2 368.9,211.2 370.2,210.4 371.6,210.3 373.0,206.8 374.4,205.9 376.2,206.8 377.4,207.7 378.6,208.6 380.5,207.7 381.9,208.2 383.2,209.1 385.0,210.0 386.8,208.2 388.6,209.5 390.0,210.1 391.4,210.6 392.6,211.0 393.8,210.8 395.0,211.5 396.2,211.0 397.4,210.9 398.6,210.9 399.8,211.0 401.1,210.5 402.3,210.0 403.5,209.5 404.7,209.9 405.9,209.5 407.1,208.9 408.3,209.0 409.5,208.6 410.7,208.4 412.0,208.5 413.2,209.1 414.4,209.2 415.6,208.4 416.8,208.5 418.0,208.0 419.3,208.4 420.5,207.7 422.3,209.5 424.0,210.5 425.1,210.2 426.2,209.0 427.3,208.6 428.5,208.7 429.7,208.0 430.9,207.7 432.1,208.5 433.3,208.6 434.5,209.5 435.7,209.8 437.0,209.4 438.2,209.1 439.7,209.6 441.2,209.6 442.7,209.3 444.1,208.3 445.5,207.7 446.9,208.2 448.2,208.9 449.4,208.7 450.6,208.7 451.8,209.1 453.1,208.0 454.5,207.7 456.4,206.8 457.5,207.3 458.6,208.2 460.5,206.4 462.3,201.8 463.6,202.7 465.0,205.0 466.4,205.8 467.7,206.4 469.5,204.5 471.4,205.2 472.7,206.8 473.9,206.2 475.0,206.4" fill="none" stroke="#000" stroke-width="1.15" stroke-linejoin="round"/>
<polyline points="482.3,206.8 483.6,206.8 485.0,206.5 486.4,206.0 487.7,205.7 488.9,205.4 490.0,205.0 491.1,205.5 492.3,205.2 494.1,204.5 495.3,204.9 496.5,205.7 497.7,205.9 498.9,205.6 500.2,205.7 501.4,205.2 502.6,204.5 503.8,204.4 505.0,203.6 506.2,204.0 507.4,203.9 508.6,204.1 510.0,204.1 511.1,203.7 512.3,203.2 513.6,202.7 515.0,202.2 516.4,201.4 517.8,201.6 519.1,202.3 520.5,202.5 521.8,202.7 523.0,202.5 524.3,201.6 525.5,201.4 526.7,201.8 527.9,201.8 529.1,201.8 530.3,202.0 531.5,201.4 532.7,201.4 533.9,200.6 535.0,200.5 536.1,201.2 537.3,201.4 538.5,201.7 539.7,201.4 540.9,201.4 542.1,200.6 543.3,200.2 544.5,200.0 545.7,199.7 547.0,198.9 548.2,198.6 550.0,196.5 551.2,196.2 552.4,195.2 553.6,194.5 555.2,194.0 556.8,194.1 558.4,193.1 560.0,191.8 561.8,192.7 563.6,194.1 565.0,193.5 566.4,193.2 567.8,193.0 569.1,192.4 570.5,191.4 571.6,191.9 572.7,192.3 573.9,192.4 575.0,192.4 576.1,192.4 577.3,192.1 578.8,192.3 580.3,191.2 581.8,191.4 583.1,191.5 584.5,191.8 585.7,191.5 587.0,190.8 588.2,190.5 589.5,190.1 590.9,189.5 592.0,188.9 593.2,189.1 594.5,188.6" fill="none" stroke="#000" stroke-width="1.15" stroke-linejoin="round"/>

<g font-size="10.2" text-anchor="middle" style="letter-spacing:0.6px;word-spacing:1.8px">
<text x="462.5" y="8.3">Fe XII</text>
<text x="462.5" y="155">Fe XII</text>
</g>
<text x="336.5" y="28" font-size="12.5">(b)</text>
<text x="336.5" y="174" font-size="12.5">(c)</text>
<g font-size="11.2" style="letter-spacing:0.6px">
<text x="344.8" y="54.5" style="fill:#666;stroke:none;letter-spacing:1.1px">195.12</text>
<text x="344.4" y="98" style="fill:#000;stroke:#000;stroke-width:0.12px;letter-spacing:1.0px">193.51</text>
<text x="344.6" y="197.8" style="fill:#666;stroke:none;letter-spacing:1.1px">195.12</text>
<text x="344.2" y="227" style="fill:#000;stroke:#000;stroke-width:0.12px;letter-spacing:1.0px">193.51</text>
</g>
<g font-size="9.5" text-anchor="end">
<text x="327.2" y="19.7">100</text>
<text x="327.2" y="60.9">10</text>
<text x="327.2" y="101.5">1</text>
<text x="327.2" y="166.9">5</text>
<text x="327.2" y="185.3">4</text>
<text x="327.2" y="207.3">3</text>
<text x="327.2" y="229.3">2</text>
<text x="327.2" y="248.1">1</text>
</g>
<g font-size="10">
<text x="330.3" y="111.9" text-anchor="middle">0</text>
<text x="382.0" y="111.9" text-anchor="middle">200</text>
<text x="433.7" y="111.9" text-anchor="middle">400</text>
<text x="485.4" y="111.9" text-anchor="middle">600</text>
<text x="537.1" y="111.9" text-anchor="middle">800</text>
<text x="588.8" y="111.9" text-anchor="middle">1000</text>
<text x="330.3" y="258.9" text-anchor="middle">0</text>
<text x="382.0" y="258.9" text-anchor="middle">200</text>
<text x="433.7" y="258.9" text-anchor="middle">400</text>
<text x="485.4" y="258.9" text-anchor="middle">600</text>
<text x="537.1" y="258.9" text-anchor="middle">800</text>
<text x="588.8" y="258.9" text-anchor="middle">1000</text>
</g>
<g font-size="9" text-anchor="middle" style="letter-spacing:0.3px;word-spacing:1.4px">
<text x="462" y="121.8">CCD&#8722;Y Height (pixel)</text>
<text x="462" y="268.8">CCD&#8722;Y Height (pixel)</text>
</g>
<text transform="translate(302.2,57.5) rotate(-90)" text-anchor="middle" font-size="9.5" style="letter-spacing:0.5px">Intensity (DN/s/pixel)</text>
<text transform="translate(315.2,205) rotate(-90)" text-anchor="middle" font-size="9.3" style="letter-spacing:0.12px">FWHM (pixel)</text>
</svg>
</body></html>
